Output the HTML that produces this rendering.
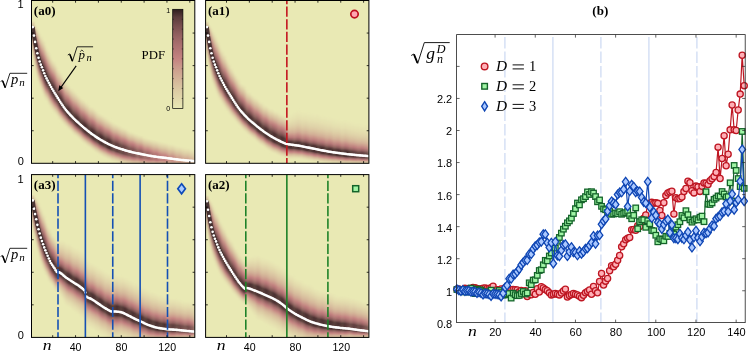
<!DOCTYPE html>
<html><head><meta charset="utf-8"><title>figure</title>
<style>html,body{margin:0;padding:0;background:#fff;overflow:hidden}svg{display:block}text{fill:#000}</style></head>
<body>
<svg width="748" height="351" viewBox="0 0 748 351">
<rect width="748" height="351" fill="#fff"/>
<defs>
<clipPath id="ca0"><rect x="31.5" y="0.5" width="163.3" height="162.8"/></clipPath>
<linearGradient id="u0_19" x1="0" y1="0" x2="0" y2="1"><stop offset="0" stop-color="#e9e9b4"/><stop offset="0.07" stop-color="#e6e2b1"/><stop offset="0.14" stop-color="#e2d8ab"/><stop offset="0.21" stop-color="#ddcca5"/><stop offset="0.28" stop-color="#d8bf9e"/><stop offset="0.35" stop-color="#d2af96"/><stop offset="0.42" stop-color="#cc9d8d"/><stop offset="0.48" stop-color="#c58883"/><stop offset="0.55" stop-color="#b77878"/><stop offset="0.62" stop-color="#a46b6b"/><stop offset="0.69" stop-color="#8d5d5d"/><stop offset="0.76" stop-color="#724a4a"/><stop offset="0.83" stop-color="#4c3131"/><stop offset="1" stop-color="#4c3131"/></linearGradient>
<linearGradient id="d0_19" x1="0" y1="0" x2="0" y2="1"><stop offset="0" stop-color="#4c3131"/><stop offset="0.26" stop-color="#4c3131"/><stop offset="0.32" stop-color="#784e4e"/><stop offset="0.38" stop-color="#966262"/><stop offset="0.45" stop-color="#ae7272"/><stop offset="0.51" stop-color="#c27f7f"/><stop offset="0.57" stop-color="#ca978a"/><stop offset="0.63" stop-color="#d1ab94"/><stop offset="0.69" stop-color="#d7bc9c"/><stop offset="0.75" stop-color="#dccaa3"/><stop offset="0.81" stop-color="#e1d5aa"/><stop offset="0.88" stop-color="#e4deaf"/><stop offset="0.94" stop-color="#e7e5b2"/><stop offset="1" stop-color="#e9e9b4"/></linearGradient>
<linearGradient id="u0_18" x1="0" y1="0" x2="0" y2="1"><stop offset="0" stop-color="#e9e9b4"/><stop offset="0.07" stop-color="#e6e2b1"/><stop offset="0.14" stop-color="#e2d9ac"/><stop offset="0.21" stop-color="#decea6"/><stop offset="0.28" stop-color="#d9c19f"/><stop offset="0.35" stop-color="#d3b398"/><stop offset="0.42" stop-color="#cda28f"/><stop offset="0.48" stop-color="#c78f86"/><stop offset="0.55" stop-color="#bd7c7c"/><stop offset="0.62" stop-color="#ac7070"/><stop offset="0.69" stop-color="#976363"/><stop offset="0.76" stop-color="#7f5353"/><stop offset="0.83" stop-color="#613f3f"/><stop offset="1" stop-color="#613f3f"/></linearGradient>
<linearGradient id="d0_18" x1="0" y1="0" x2="0" y2="1"><stop offset="0" stop-color="#613f3f"/><stop offset="0.26" stop-color="#613f3f"/><stop offset="0.32" stop-color="#845757"/><stop offset="0.38" stop-color="#9f6868"/><stop offset="0.45" stop-color="#b57676"/><stop offset="0.51" stop-color="#c58682"/><stop offset="0.57" stop-color="#cc9d8d"/><stop offset="0.63" stop-color="#d2af96"/><stop offset="0.69" stop-color="#d8bf9e"/><stop offset="0.75" stop-color="#ddcba4"/><stop offset="0.81" stop-color="#e1d6aa"/><stop offset="0.88" stop-color="#e5dfaf"/><stop offset="0.94" stop-color="#e7e5b2"/><stop offset="1" stop-color="#e9e9b4"/></linearGradient>
<linearGradient id="u0_17" x1="0" y1="0" x2="0" y2="1"><stop offset="0" stop-color="#e9e9b4"/><stop offset="0.07" stop-color="#e6e3b1"/><stop offset="0.14" stop-color="#e3daac"/><stop offset="0.21" stop-color="#ded0a7"/><stop offset="0.28" stop-color="#dac4a0"/><stop offset="0.35" stop-color="#d5b699"/><stop offset="0.42" stop-color="#cfa792"/><stop offset="0.48" stop-color="#c99589"/><stop offset="0.55" stop-color="#c38080"/><stop offset="0.62" stop-color="#b37575"/><stop offset="0.69" stop-color="#a16969"/><stop offset="0.76" stop-color="#8c5c5c"/><stop offset="0.83" stop-color="#724b4b"/><stop offset="1" stop-color="#724b4b"/></linearGradient>
<linearGradient id="d0_17" x1="0" y1="0" x2="0" y2="1"><stop offset="0" stop-color="#724b4b"/><stop offset="0.26" stop-color="#724b4b"/><stop offset="0.32" stop-color="#905e5e"/><stop offset="0.38" stop-color="#a86e6e"/><stop offset="0.45" stop-color="#bb7b7b"/><stop offset="0.51" stop-color="#c78e86"/><stop offset="0.57" stop-color="#cda28f"/><stop offset="0.63" stop-color="#d3b398"/><stop offset="0.69" stop-color="#d9c19f"/><stop offset="0.75" stop-color="#ddcda5"/><stop offset="0.81" stop-color="#e1d7ab"/><stop offset="0.88" stop-color="#e5dfaf"/><stop offset="0.94" stop-color="#e7e6b3"/><stop offset="1" stop-color="#e9e9b4"/></linearGradient>
<linearGradient id="u0_16" x1="0" y1="0" x2="0" y2="1"><stop offset="0" stop-color="#e9e9b4"/><stop offset="0.07" stop-color="#e6e3b1"/><stop offset="0.14" stop-color="#e3dbad"/><stop offset="0.21" stop-color="#dfd1a7"/><stop offset="0.28" stop-color="#dbc6a2"/><stop offset="0.35" stop-color="#d6ba9b"/><stop offset="0.42" stop-color="#d1ab94"/><stop offset="0.48" stop-color="#cb9b8c"/><stop offset="0.55" stop-color="#c58883"/><stop offset="0.62" stop-color="#ba7a7a"/><stop offset="0.69" stop-color="#aa6f6f"/><stop offset="0.76" stop-color="#976363"/><stop offset="0.83" stop-color="#825555"/><stop offset="1" stop-color="#825555"/></linearGradient>
<linearGradient id="d0_16" x1="0" y1="0" x2="0" y2="1"><stop offset="0" stop-color="#825555"/><stop offset="0.26" stop-color="#825555"/><stop offset="0.32" stop-color="#9b6565"/><stop offset="0.38" stop-color="#b07373"/><stop offset="0.45" stop-color="#c27f7f"/><stop offset="0.51" stop-color="#c99489"/><stop offset="0.57" stop-color="#cfa792"/><stop offset="0.63" stop-color="#d5b699"/><stop offset="0.69" stop-color="#dac4a0"/><stop offset="0.75" stop-color="#decfa6"/><stop offset="0.81" stop-color="#e2d8ab"/><stop offset="0.88" stop-color="#e5e0af"/><stop offset="0.94" stop-color="#e7e6b3"/><stop offset="1" stop-color="#e9e9b4"/></linearGradient>
<linearGradient id="u0_15" x1="0" y1="0" x2="0" y2="1"><stop offset="0" stop-color="#e9e9b4"/><stop offset="0.07" stop-color="#e6e3b1"/><stop offset="0.14" stop-color="#e3dcad"/><stop offset="0.21" stop-color="#e0d3a8"/><stop offset="0.28" stop-color="#dbc8a3"/><stop offset="0.35" stop-color="#d7bd9d"/><stop offset="0.42" stop-color="#d2b096"/><stop offset="0.48" stop-color="#cda18f"/><stop offset="0.55" stop-color="#c89087"/><stop offset="0.62" stop-color="#c17e7e"/><stop offset="0.69" stop-color="#b27575"/><stop offset="0.76" stop-color="#a26a6a"/><stop offset="0.83" stop-color="#8f5e5e"/><stop offset="1" stop-color="#8f5e5e"/></linearGradient>
<linearGradient id="d0_15" x1="0" y1="0" x2="0" y2="1"><stop offset="0" stop-color="#8f5e5e"/><stop offset="0.26" stop-color="#8f5e5e"/><stop offset="0.32" stop-color="#a56c6c"/><stop offset="0.38" stop-color="#b87878"/><stop offset="0.45" stop-color="#c58783"/><stop offset="0.51" stop-color="#cb9b8c"/><stop offset="0.57" stop-color="#d1ac94"/><stop offset="0.63" stop-color="#d6ba9b"/><stop offset="0.69" stop-color="#dbc6a2"/><stop offset="0.75" stop-color="#dfd1a7"/><stop offset="0.81" stop-color="#e2d9ac"/><stop offset="0.88" stop-color="#e5e1b0"/><stop offset="0.94" stop-color="#e8e6b3"/><stop offset="1" stop-color="#e9e9b4"/></linearGradient>
<linearGradient id="u0_14" x1="0" y1="0" x2="0" y2="1"><stop offset="0" stop-color="#e9e9b4"/><stop offset="0.07" stop-color="#e7e4b2"/><stop offset="0.14" stop-color="#e4ddae"/><stop offset="0.21" stop-color="#e0d4a9"/><stop offset="0.28" stop-color="#dccba4"/><stop offset="0.35" stop-color="#d8c09e"/><stop offset="0.42" stop-color="#d4b498"/><stop offset="0.48" stop-color="#cfa792"/><stop offset="0.55" stop-color="#ca988a"/><stop offset="0.62" stop-color="#c58783"/><stop offset="0.69" stop-color="#ba7a7a"/><stop offset="0.76" stop-color="#ac7070"/><stop offset="0.83" stop-color="#9b6666"/><stop offset="1" stop-color="#9b6666"/></linearGradient>
<linearGradient id="d0_14" x1="0" y1="0" x2="0" y2="1"><stop offset="0" stop-color="#9b6666"/><stop offset="0.26" stop-color="#9b6666"/><stop offset="0.32" stop-color="#af7272"/><stop offset="0.38" stop-color="#bf7d7d"/><stop offset="0.45" stop-color="#c79087"/><stop offset="0.51" stop-color="#cda18f"/><stop offset="0.57" stop-color="#d3b196"/><stop offset="0.63" stop-color="#d7be9d"/><stop offset="0.69" stop-color="#dcc9a3"/><stop offset="0.75" stop-color="#dfd2a8"/><stop offset="0.81" stop-color="#e3daac"/><stop offset="0.88" stop-color="#e6e1b0"/><stop offset="0.94" stop-color="#e8e6b3"/><stop offset="1" stop-color="#e9e9b4"/></linearGradient>
<linearGradient id="u0_13" x1="0" y1="0" x2="0" y2="1"><stop offset="0" stop-color="#e9e9b4"/><stop offset="0.07" stop-color="#e7e4b2"/><stop offset="0.14" stop-color="#e4deae"/><stop offset="0.21" stop-color="#e1d6aa"/><stop offset="0.28" stop-color="#ddcda5"/><stop offset="0.35" stop-color="#d9c3a0"/><stop offset="0.42" stop-color="#d5b89a"/><stop offset="0.48" stop-color="#d1ac94"/><stop offset="0.55" stop-color="#cc9f8e"/><stop offset="0.62" stop-color="#c89087"/><stop offset="0.69" stop-color="#c27f7f"/><stop offset="0.76" stop-color="#b57777"/><stop offset="0.83" stop-color="#a76d6d"/><stop offset="1" stop-color="#a76d6d"/></linearGradient>
<linearGradient id="d0_13" x1="0" y1="0" x2="0" y2="1"><stop offset="0" stop-color="#a76d6d"/><stop offset="0.26" stop-color="#a76d6d"/><stop offset="0.32" stop-color="#b87878"/><stop offset="0.38" stop-color="#c48582"/><stop offset="0.45" stop-color="#ca988a"/><stop offset="0.51" stop-color="#cfa892"/><stop offset="0.57" stop-color="#d4b599"/><stop offset="0.63" stop-color="#d9c19f"/><stop offset="0.69" stop-color="#ddcba4"/><stop offset="0.75" stop-color="#e0d4a9"/><stop offset="0.81" stop-color="#e3dcad"/><stop offset="0.88" stop-color="#e6e2b0"/><stop offset="0.94" stop-color="#e8e6b3"/><stop offset="1" stop-color="#e9e9b4"/></linearGradient>
<linearGradient id="u0_12" x1="0" y1="0" x2="0" y2="1"><stop offset="0" stop-color="#e9e9b4"/><stop offset="0.07" stop-color="#e7e4b2"/><stop offset="0.14" stop-color="#e4deaf"/><stop offset="0.21" stop-color="#e1d7ab"/><stop offset="0.28" stop-color="#decfa6"/><stop offset="0.35" stop-color="#dbc6a2"/><stop offset="0.42" stop-color="#d7bd9d"/><stop offset="0.48" stop-color="#d3b297"/><stop offset="0.55" stop-color="#cfa691"/><stop offset="0.62" stop-color="#ca998b"/><stop offset="0.69" stop-color="#c68a84"/><stop offset="0.76" stop-color="#be7c7c"/><stop offset="0.83" stop-color="#b27474"/><stop offset="1" stop-color="#b27474"/></linearGradient>
<linearGradient id="d0_12" x1="0" y1="0" x2="0" y2="1"><stop offset="0" stop-color="#b27474"/><stop offset="0.26" stop-color="#b27474"/><stop offset="0.32" stop-color="#c07e7e"/><stop offset="0.38" stop-color="#c78f86"/><stop offset="0.45" stop-color="#cd9f8e"/><stop offset="0.51" stop-color="#d1ad95"/><stop offset="0.57" stop-color="#d6ba9b"/><stop offset="0.63" stop-color="#dac4a1"/><stop offset="0.69" stop-color="#decea6"/><stop offset="0.75" stop-color="#e1d6aa"/><stop offset="0.81" stop-color="#e4ddae"/><stop offset="0.88" stop-color="#e6e2b1"/><stop offset="0.94" stop-color="#e8e6b3"/><stop offset="1" stop-color="#e9e9b4"/></linearGradient>
<linearGradient id="u0_11" x1="0" y1="0" x2="0" y2="1"><stop offset="0" stop-color="#e9e9b4"/><stop offset="0.07" stop-color="#e7e5b2"/><stop offset="0.14" stop-color="#e5dfaf"/><stop offset="0.21" stop-color="#e2d9ac"/><stop offset="0.28" stop-color="#dfd2a8"/><stop offset="0.35" stop-color="#dcc9a3"/><stop offset="0.42" stop-color="#d8c19f"/><stop offset="0.48" stop-color="#d5b79a"/><stop offset="0.55" stop-color="#d1ac94"/><stop offset="0.62" stop-color="#cda18f"/><stop offset="0.69" stop-color="#c99489"/><stop offset="0.76" stop-color="#c48582"/><stop offset="0.83" stop-color="#bc7b7b"/><stop offset="1" stop-color="#bc7b7b"/></linearGradient>
<linearGradient id="d0_11" x1="0" y1="0" x2="0" y2="1"><stop offset="0" stop-color="#bc7b7b"/><stop offset="0.26" stop-color="#bc7b7b"/><stop offset="0.32" stop-color="#c58883"/><stop offset="0.38" stop-color="#ca998b"/><stop offset="0.45" stop-color="#cfa792"/><stop offset="0.51" stop-color="#d3b398"/><stop offset="0.57" stop-color="#d7be9d"/><stop offset="0.63" stop-color="#dbc8a2"/><stop offset="0.69" stop-color="#dfd0a7"/><stop offset="0.75" stop-color="#e1d7ab"/><stop offset="0.81" stop-color="#e4deae"/><stop offset="0.88" stop-color="#e6e3b1"/><stop offset="0.94" stop-color="#e8e7b3"/><stop offset="1" stop-color="#e9e9b4"/></linearGradient>
<linearGradient id="u0_10" x1="0" y1="0" x2="0" y2="1"><stop offset="0" stop-color="#e9e9b4"/><stop offset="0.07" stop-color="#e7e5b2"/><stop offset="0.14" stop-color="#e5e0b0"/><stop offset="0.21" stop-color="#e3daac"/><stop offset="0.28" stop-color="#e0d4a9"/><stop offset="0.35" stop-color="#ddcda5"/><stop offset="0.42" stop-color="#dac5a1"/><stop offset="0.48" stop-color="#d7bc9c"/><stop offset="0.55" stop-color="#d3b398"/><stop offset="0.62" stop-color="#d0a993"/><stop offset="0.69" stop-color="#cc9d8d"/><stop offset="0.76" stop-color="#c89187"/><stop offset="0.83" stop-color="#c48381"/><stop offset="1" stop-color="#c48381"/></linearGradient>
<linearGradient id="d0_10" x1="0" y1="0" x2="0" y2="1"><stop offset="0" stop-color="#c48381"/><stop offset="0.26" stop-color="#c48381"/><stop offset="0.32" stop-color="#c99488"/><stop offset="0.38" stop-color="#cda28f"/><stop offset="0.45" stop-color="#d2ae95"/><stop offset="0.51" stop-color="#d5b99b"/><stop offset="0.57" stop-color="#d9c2a0"/><stop offset="0.63" stop-color="#dccba4"/><stop offset="0.69" stop-color="#dfd2a8"/><stop offset="0.75" stop-color="#e2d9ac"/><stop offset="0.81" stop-color="#e4dfaf"/><stop offset="0.88" stop-color="#e6e3b1"/><stop offset="0.94" stop-color="#e8e7b3"/><stop offset="1" stop-color="#e9e9b4"/></linearGradient>
<linearGradient id="u0_9" x1="0" y1="0" x2="0" y2="1"><stop offset="0" stop-color="#e9e9b4"/><stop offset="0.07" stop-color="#e7e6b3"/><stop offset="0.14" stop-color="#e6e1b0"/><stop offset="0.21" stop-color="#e3dcad"/><stop offset="0.28" stop-color="#e1d6aa"/><stop offset="0.35" stop-color="#ded0a7"/><stop offset="0.42" stop-color="#dcc9a3"/><stop offset="0.48" stop-color="#d9c19f"/><stop offset="0.55" stop-color="#d6b99b"/><stop offset="0.62" stop-color="#d2b096"/><stop offset="0.69" stop-color="#cfa792"/><stop offset="0.76" stop-color="#cc9c8c"/><stop offset="0.83" stop-color="#c89187"/><stop offset="1" stop-color="#c89187"/></linearGradient>
<linearGradient id="d0_9" x1="0" y1="0" x2="0" y2="1"><stop offset="0" stop-color="#c89187"/><stop offset="0.26" stop-color="#c89187"/><stop offset="0.32" stop-color="#cc9e8d"/><stop offset="0.38" stop-color="#d0aa93"/><stop offset="0.45" stop-color="#d4b599"/><stop offset="0.51" stop-color="#d7be9d"/><stop offset="0.57" stop-color="#dbc6a2"/><stop offset="0.63" stop-color="#decea6"/><stop offset="0.69" stop-color="#e0d5a9"/><stop offset="0.75" stop-color="#e3dbad"/><stop offset="0.81" stop-color="#e5e0af"/><stop offset="0.88" stop-color="#e7e4b2"/><stop offset="0.94" stop-color="#e8e7b3"/><stop offset="1" stop-color="#e9e9b4"/></linearGradient>
<linearGradient id="u0_8" x1="0" y1="0" x2="0" y2="1"><stop offset="0" stop-color="#e9e9b4"/><stop offset="0.07" stop-color="#e8e6b3"/><stop offset="0.14" stop-color="#e6e2b1"/><stop offset="0.21" stop-color="#e4ddae"/><stop offset="0.28" stop-color="#e2d8ab"/><stop offset="0.35" stop-color="#dfd2a8"/><stop offset="0.42" stop-color="#ddcca5"/><stop offset="0.48" stop-color="#dac6a1"/><stop offset="0.55" stop-color="#d8bf9e"/><stop offset="0.62" stop-color="#d5b79a"/><stop offset="0.69" stop-color="#d2af96"/><stop offset="0.76" stop-color="#cfa691"/><stop offset="0.83" stop-color="#cc9d8d"/><stop offset="1" stop-color="#cc9d8d"/></linearGradient>
<linearGradient id="d0_8" x1="0" y1="0" x2="0" y2="1"><stop offset="0" stop-color="#cc9d8d"/><stop offset="0.26" stop-color="#cc9d8d"/><stop offset="0.32" stop-color="#d0a892"/><stop offset="0.38" stop-color="#d3b297"/><stop offset="0.45" stop-color="#d6bb9c"/><stop offset="0.51" stop-color="#d9c3a0"/><stop offset="0.57" stop-color="#dccba4"/><stop offset="0.63" stop-color="#dfd1a7"/><stop offset="0.69" stop-color="#e1d7ab"/><stop offset="0.75" stop-color="#e3dcad"/><stop offset="0.81" stop-color="#e5e1b0"/><stop offset="0.88" stop-color="#e7e4b2"/><stop offset="0.94" stop-color="#e8e7b3"/><stop offset="1" stop-color="#e9e9b4"/></linearGradient>
<linearGradient id="u0_7" x1="0" y1="0" x2="0" y2="1"><stop offset="0" stop-color="#e9e9b4"/><stop offset="0.07" stop-color="#e8e6b3"/><stop offset="0.14" stop-color="#e6e3b1"/><stop offset="0.21" stop-color="#e5dfaf"/><stop offset="0.28" stop-color="#e3daac"/><stop offset="0.35" stop-color="#e1d5aa"/><stop offset="0.42" stop-color="#dfd0a7"/><stop offset="0.48" stop-color="#dccba4"/><stop offset="0.55" stop-color="#dac5a1"/><stop offset="0.62" stop-color="#d8be9d"/><stop offset="0.69" stop-color="#d5b79a"/><stop offset="0.76" stop-color="#d2b096"/><stop offset="0.83" stop-color="#d0a892"/><stop offset="1" stop-color="#d0a892"/></linearGradient>
<linearGradient id="d0_7" x1="0" y1="0" x2="0" y2="1"><stop offset="0" stop-color="#d0a892"/><stop offset="0.26" stop-color="#d0a892"/><stop offset="0.32" stop-color="#d3b197"/><stop offset="0.38" stop-color="#d6ba9b"/><stop offset="0.45" stop-color="#d9c19f"/><stop offset="0.51" stop-color="#dbc8a3"/><stop offset="0.57" stop-color="#decfa6"/><stop offset="0.63" stop-color="#e0d4a9"/><stop offset="0.69" stop-color="#e2d9ac"/><stop offset="0.75" stop-color="#e4deae"/><stop offset="0.81" stop-color="#e6e2b0"/><stop offset="0.88" stop-color="#e7e5b2"/><stop offset="0.94" stop-color="#e8e7b4"/><stop offset="1" stop-color="#e9e9b4"/></linearGradient>
<linearGradient id="u0_6" x1="0" y1="0" x2="0" y2="1"><stop offset="0" stop-color="#e9e9b4"/><stop offset="0.07" stop-color="#e8e7b3"/><stop offset="0.14" stop-color="#e7e4b1"/><stop offset="0.21" stop-color="#e5e0b0"/><stop offset="0.28" stop-color="#e4dcae"/><stop offset="0.35" stop-color="#e2d8ab"/><stop offset="0.42" stop-color="#e0d4a9"/><stop offset="0.48" stop-color="#decfa6"/><stop offset="0.55" stop-color="#dccaa4"/><stop offset="0.62" stop-color="#dac5a1"/><stop offset="0.69" stop-color="#d8bf9e"/><stop offset="0.76" stop-color="#d6b99b"/><stop offset="0.83" stop-color="#d3b398"/><stop offset="1" stop-color="#d3b398"/></linearGradient>
<linearGradient id="d0_6" x1="0" y1="0" x2="0" y2="1"><stop offset="0" stop-color="#d3b398"/><stop offset="0.26" stop-color="#d3b398"/><stop offset="0.32" stop-color="#d6ba9c"/><stop offset="0.38" stop-color="#d9c19f"/><stop offset="0.45" stop-color="#dbc7a2"/><stop offset="0.51" stop-color="#ddcda5"/><stop offset="0.57" stop-color="#e0d3a8"/><stop offset="0.63" stop-color="#e1d7ab"/><stop offset="0.69" stop-color="#e3dcad"/><stop offset="0.75" stop-color="#e5dfaf"/><stop offset="0.81" stop-color="#e6e3b1"/><stop offset="0.88" stop-color="#e7e6b3"/><stop offset="0.94" stop-color="#e8e8b4"/><stop offset="1" stop-color="#e9e9b4"/></linearGradient>
<filter id="hba0" filterUnits="userSpaceOnUse" x="25.5" y="-5.5" width="175.3" height="174.8"><feGaussianBlur stdDeviation="1.2 0.5"/></filter>
<filter id="sba0" filterUnits="userSpaceOnUse" x="25.5" y="-5.5" width="60" height="110"><feGaussianBlur stdDeviation="0.7"/></filter>
<clipPath id="ca1"><rect x="205.6" y="0.5" width="163.3" height="162.8"/></clipPath>
<linearGradient id="u2_19" x1="0" y1="0" x2="0" y2="1"><stop offset="0" stop-color="#e9e9b4"/><stop offset="0.08" stop-color="#e8e6b3"/><stop offset="0.15" stop-color="#e6e3b1"/><stop offset="0.23" stop-color="#e5dfaf"/><stop offset="0.3" stop-color="#e2d9ac"/><stop offset="0.38" stop-color="#dfd2a8"/><stop offset="0.45" stop-color="#dcc9a3"/><stop offset="0.53" stop-color="#d7bc9c"/><stop offset="0.61" stop-color="#d1ab94"/><stop offset="0.68" stop-color="#c99388"/><stop offset="0.76" stop-color="#b77878"/><stop offset="0.83" stop-color="#925f5f"/><stop offset="0.91" stop-color="#4c3131"/><stop offset="1" stop-color="#4c3131"/></linearGradient>
<linearGradient id="d2_19" x1="0" y1="0" x2="0" y2="1"><stop offset="0" stop-color="#4c3131"/><stop offset="0.24" stop-color="#4c3131"/><stop offset="0.3" stop-color="#784e4e"/><stop offset="0.37" stop-color="#966262"/><stop offset="0.43" stop-color="#ae7272"/><stop offset="0.49" stop-color="#c27f7f"/><stop offset="0.56" stop-color="#ca978a"/><stop offset="0.62" stop-color="#d1ab94"/><stop offset="0.68" stop-color="#d7bc9c"/><stop offset="0.75" stop-color="#dccaa3"/><stop offset="0.81" stop-color="#e1d5aa"/><stop offset="0.87" stop-color="#e4deaf"/><stop offset="0.94" stop-color="#e7e5b2"/><stop offset="1" stop-color="#e9e9b4"/></linearGradient>
<linearGradient id="u2_18" x1="0" y1="0" x2="0" y2="1"><stop offset="0" stop-color="#e9e9b4"/><stop offset="0.08" stop-color="#e8e6b3"/><stop offset="0.15" stop-color="#e6e3b1"/><stop offset="0.23" stop-color="#e5dfaf"/><stop offset="0.3" stop-color="#e3daac"/><stop offset="0.38" stop-color="#e0d3a9"/><stop offset="0.45" stop-color="#dccba4"/><stop offset="0.53" stop-color="#d8bf9e"/><stop offset="0.61" stop-color="#d2af96"/><stop offset="0.68" stop-color="#ca998b"/><stop offset="0.76" stop-color="#bd7c7c"/><stop offset="0.83" stop-color="#9b6666"/><stop offset="0.91" stop-color="#613f3f"/><stop offset="1" stop-color="#613f3f"/></linearGradient>
<linearGradient id="d2_18" x1="0" y1="0" x2="0" y2="1"><stop offset="0" stop-color="#613f3f"/><stop offset="0.24" stop-color="#613f3f"/><stop offset="0.3" stop-color="#845757"/><stop offset="0.37" stop-color="#9f6868"/><stop offset="0.43" stop-color="#b57676"/><stop offset="0.49" stop-color="#c58682"/><stop offset="0.56" stop-color="#cc9d8d"/><stop offset="0.62" stop-color="#d2af96"/><stop offset="0.68" stop-color="#d8bf9e"/><stop offset="0.75" stop-color="#ddcba4"/><stop offset="0.81" stop-color="#e1d6aa"/><stop offset="0.87" stop-color="#e5dfaf"/><stop offset="0.94" stop-color="#e7e5b2"/><stop offset="1" stop-color="#e9e9b4"/></linearGradient>
<filter id="hba1" filterUnits="userSpaceOnUse" x="199.6" y="-5.5" width="175.3" height="174.8"><feGaussianBlur stdDeviation="1.2 0.5"/></filter>
<filter id="sba1" filterUnits="userSpaceOnUse" x="199.6" y="-5.5" width="60" height="110"><feGaussianBlur stdDeviation="0.7"/></filter>
<clipPath id="ca3"><rect x="31.5" y="174.6" width="163.3" height="162.8"/></clipPath>
<linearGradient id="u1_19" x1="0" y1="0" x2="0" y2="1"><stop offset="0" stop-color="#e9e9b4"/><stop offset="0.07" stop-color="#e7e4b2"/><stop offset="0.14" stop-color="#e5dfaf"/><stop offset="0.21" stop-color="#e2d8ab"/><stop offset="0.28" stop-color="#dfd0a7"/><stop offset="0.35" stop-color="#dbc6a2"/><stop offset="0.43" stop-color="#d6ba9b"/><stop offset="0.5" stop-color="#d0ab94"/><stop offset="0.57" stop-color="#ca978a"/><stop offset="0.64" stop-color="#c07e7e"/><stop offset="0.71" stop-color="#a86e6e"/><stop offset="0.78" stop-color="#855757"/><stop offset="0.85" stop-color="#4c3131"/><stop offset="1" stop-color="#4c3131"/></linearGradient>
<linearGradient id="d1_19" x1="0" y1="0" x2="0" y2="1"><stop offset="0" stop-color="#4c3131"/><stop offset="0.13" stop-color="#4c3131"/><stop offset="0.2" stop-color="#875858"/><stop offset="0.28" stop-color="#a96f6f"/><stop offset="0.35" stop-color="#c27f7f"/><stop offset="0.42" stop-color="#cb998b"/><stop offset="0.49" stop-color="#d1ad95"/><stop offset="0.56" stop-color="#d7bc9c"/><stop offset="0.64" stop-color="#dbc8a2"/><stop offset="0.71" stop-color="#dfd1a7"/><stop offset="0.78" stop-color="#e2d9ac"/><stop offset="0.85" stop-color="#e5dfaf"/><stop offset="0.93" stop-color="#e7e4b2"/><stop offset="1" stop-color="#e9e9b4"/></linearGradient>
<linearGradient id="u1_18" x1="0" y1="0" x2="0" y2="1"><stop offset="0" stop-color="#e9e9b4"/><stop offset="0.07" stop-color="#e7e4b2"/><stop offset="0.14" stop-color="#e5dfaf"/><stop offset="0.21" stop-color="#e2d9ac"/><stop offset="0.28" stop-color="#dfd1a8"/><stop offset="0.35" stop-color="#dbc8a3"/><stop offset="0.43" stop-color="#d7bd9d"/><stop offset="0.5" stop-color="#d2af95"/><stop offset="0.57" stop-color="#cc9c8d"/><stop offset="0.64" stop-color="#c48381"/><stop offset="0.71" stop-color="#af7373"/><stop offset="0.78" stop-color="#905f5f"/><stop offset="0.85" stop-color="#613f3f"/><stop offset="1" stop-color="#613f3f"/></linearGradient>
<linearGradient id="d1_18" x1="0" y1="0" x2="0" y2="1"><stop offset="0" stop-color="#613f3f"/><stop offset="0.13" stop-color="#613f3f"/><stop offset="0.2" stop-color="#925f5f"/><stop offset="0.28" stop-color="#b17474"/><stop offset="0.35" stop-color="#c58682"/><stop offset="0.42" stop-color="#cc9f8e"/><stop offset="0.49" stop-color="#d3b197"/><stop offset="0.56" stop-color="#d8bf9e"/><stop offset="0.64" stop-color="#dccaa3"/><stop offset="0.71" stop-color="#e0d3a8"/><stop offset="0.78" stop-color="#e2daac"/><stop offset="0.85" stop-color="#e5e0af"/><stop offset="0.93" stop-color="#e7e5b2"/><stop offset="1" stop-color="#e9e9b4"/></linearGradient>
<linearGradient id="u1_17" x1="0" y1="0" x2="0" y2="1"><stop offset="0" stop-color="#e9e9b4"/><stop offset="0.07" stop-color="#e7e5b2"/><stop offset="0.14" stop-color="#e5e0af"/><stop offset="0.21" stop-color="#e3daac"/><stop offset="0.28" stop-color="#e0d3a8"/><stop offset="0.35" stop-color="#dccaa4"/><stop offset="0.43" stop-color="#d8c09e"/><stop offset="0.5" stop-color="#d3b297"/><stop offset="0.57" stop-color="#cda18f"/><stop offset="0.64" stop-color="#c68b85"/><stop offset="0.71" stop-color="#b67777"/><stop offset="0.78" stop-color="#9b6565"/><stop offset="0.85" stop-color="#724b4b"/><stop offset="1" stop-color="#724b4b"/></linearGradient>
<linearGradient id="d1_17" x1="0" y1="0" x2="0" y2="1"><stop offset="0" stop-color="#724b4b"/><stop offset="0.13" stop-color="#724b4b"/><stop offset="0.2" stop-color="#9c6666"/><stop offset="0.28" stop-color="#b87878"/><stop offset="0.35" stop-color="#c78d86"/><stop offset="0.42" stop-color="#cea490"/><stop offset="0.49" stop-color="#d4b498"/><stop offset="0.56" stop-color="#d9c19f"/><stop offset="0.64" stop-color="#ddcba4"/><stop offset="0.71" stop-color="#e0d4a9"/><stop offset="0.78" stop-color="#e3dbad"/><stop offset="0.85" stop-color="#e5e0b0"/><stop offset="0.93" stop-color="#e7e5b2"/><stop offset="1" stop-color="#e9e9b4"/></linearGradient>
<linearGradient id="u1_16" x1="0" y1="0" x2="0" y2="1"><stop offset="0" stop-color="#e9e9b4"/><stop offset="0.07" stop-color="#e7e5b2"/><stop offset="0.14" stop-color="#e5e0b0"/><stop offset="0.21" stop-color="#e3dbad"/><stop offset="0.28" stop-color="#e0d4a9"/><stop offset="0.35" stop-color="#ddcca5"/><stop offset="0.43" stop-color="#d9c2a0"/><stop offset="0.5" stop-color="#d4b699"/><stop offset="0.57" stop-color="#cfa691"/><stop offset="0.64" stop-color="#c89288"/><stop offset="0.71" stop-color="#bd7c7c"/><stop offset="0.78" stop-color="#a46b6b"/><stop offset="0.85" stop-color="#825555"/><stop offset="1" stop-color="#825555"/></linearGradient>
<linearGradient id="d1_16" x1="0" y1="0" x2="0" y2="1"><stop offset="0" stop-color="#825555"/><stop offset="0.13" stop-color="#825555"/><stop offset="0.2" stop-color="#a56c6c"/><stop offset="0.28" stop-color="#be7c7c"/><stop offset="0.35" stop-color="#c99489"/><stop offset="0.42" stop-color="#d0a892"/><stop offset="0.49" stop-color="#d5b89a"/><stop offset="0.56" stop-color="#dac4a0"/><stop offset="0.64" stop-color="#ddcda5"/><stop offset="0.71" stop-color="#e1d5aa"/><stop offset="0.78" stop-color="#e3dcad"/><stop offset="0.85" stop-color="#e5e1b0"/><stop offset="0.93" stop-color="#e7e5b2"/><stop offset="1" stop-color="#e9e9b4"/></linearGradient>
<filter id="hba3" filterUnits="userSpaceOnUse" x="25.5" y="168.6" width="175.3" height="174.8"><feGaussianBlur stdDeviation="1.2 0.5"/></filter>
<filter id="sba3" filterUnits="userSpaceOnUse" x="25.5" y="168.6" width="60" height="110"><feGaussianBlur stdDeviation="0.7"/></filter>
<clipPath id="ca2"><rect x="205.6" y="174.6" width="163.3" height="162.8"/></clipPath>
<filter id="hba2" filterUnits="userSpaceOnUse" x="199.6" y="168.6" width="175.3" height="174.8"><feGaussianBlur stdDeviation="1.2 0.5"/></filter>
<filter id="sba2" filterUnits="userSpaceOnUse" x="199.6" y="168.6" width="60" height="110"><feGaussianBlur stdDeviation="0.7"/></filter>
<linearGradient id="cb" x1="0" y1="0" x2="0" y2="1"><stop offset="0" stop-color="#2d1d1d"/><stop offset="0.08" stop-color="#5a3b3b"/><stop offset="0.17" stop-color="#784e4e"/><stop offset="0.25" stop-color="#8f5e5e"/><stop offset="0.33" stop-color="#a36b6b"/><stop offset="0.42" stop-color="#b57777"/><stop offset="0.5" stop-color="#c48381"/><stop offset="0.58" stop-color="#ca998b"/><stop offset="0.67" stop-color="#d1ac94"/><stop offset="0.75" stop-color="#d7bd9d"/><stop offset="0.83" stop-color="#ddcda5"/><stop offset="0.92" stop-color="#e3dbad"/><stop offset="1" stop-color="#e9e9b4"/></linearGradient>
<clipPath id="cb_"><rect x="452.6" y="30.6" width="296.6" height="296"/></clipPath>
<filter id="tf" filterUnits="userSpaceOnUse" x="0" y="0" width="748" height="351"><feOffset dx="0" dy="0"/></filter>
</defs>
<rect x="31.5" y="0.5" width="163.3" height="162.8" fill="#e9e9b4"/>
<g clip-path="url(#ca0)">
<g filter="url(#hba0)">
<g fill="url(#u0_19)"><rect x="32.23" y="20.9" width="1.49" height="6.4"/><rect x="33.37" y="23.59" width="1.49" height="12.21"/><rect x="34.51" y="24.17" width="1.49" height="17.92"/><rect x="35.66" y="26.2" width="1.49" height="22.2"/><rect x="36.8" y="27.7" width="1.49" height="25.71"/><rect x="37.94" y="30.12" width="1.49" height="27.85"/><rect x="39.09" y="32.17" width="1.49" height="29.49"/><rect x="40.23" y="34.78" width="1.49" height="30.05"/><rect x="41.37" y="35.98" width="1.49" height="31.54"/><rect x="42.52" y="38.17" width="1.49" height="32.38"/><rect x="43.66" y="40.36" width="1.49" height="33.15"/><rect x="44.8" y="44.45" width="1.49" height="31.75"/><rect x="45.94" y="46.72" width="1.49" height="31.87"/><rect x="47.09" y="49.26" width="1.49" height="31.54"/><rect x="48.23" y="50.61" width="1.49" height="32.36"/><rect x="49.37" y="53.95" width="1.49" height="31.13"/><rect x="50.52" y="56.67" width="1.49" height="30.47"/><rect x="51.66" y="59.02" width="1.49" height="30.11"/><rect x="52.8" y="60.51" width="1.49" height="30.55"/><rect x="53.95" y="60.62" width="1.49" height="32.3"/><rect x="55.09" y="63.21" width="1.49" height="31.52"/><rect x="56.23" y="65.38" width="1.49" height="31.15"/><rect x="57.37" y="68.79" width="1.49" height="29.56"/><rect x="58.52" y="69.56" width="1.49" height="30.63"/><rect x="59.66" y="71.64" width="1.49" height="30.36"/><rect x="60.8" y="72.62" width="1.49" height="31.14"/><rect x="61.95" y="75.62" width="1.49" height="29.86"/><rect x="63.09" y="77.64" width="1.49" height="29.52"/><rect x="64.23" y="80.2" width="1.49" height="28.56"/><rect x="65.38" y="81.09" width="1.49" height="29.15"/><rect x="66.52" y="82.7" width="1.49" height="28.89"/><rect x="67.66" y="83.92" width="1.49" height="28.94"/><rect x="68.8" y="85.42" width="1.49" height="28.68"/><rect x="69.95" y="87.21" width="1.49" height="28.12"/><rect x="71.09" y="88.04" width="1.49" height="28.53"/><rect x="72.23" y="88.33" width="1.49" height="29.45"/><rect x="73.38" y="90.39" width="1.49" height="28.56"/><rect x="74.52" y="90.8" width="1.49" height="29.25"/><rect x="75.66" y="92.61" width="1.49" height="28.49"/><rect x="76.81" y="94.02" width="1.49" height="28.09"/><rect x="77.95" y="94.62" width="1.49" height="28.5"/><rect x="79.09" y="95.83" width="1.49" height="28.3"/><rect x="80.23" y="97.25" width="1.49" height="27.89"/><rect x="81.38" y="98.39" width="1.49" height="27.77"/><rect x="82.52" y="98.44" width="1.49" height="28.71"/><rect x="83.66" y="100.03" width="1.49" height="28.1"/><rect x="84.81" y="101.37" width="1.49" height="27.73"/><rect x="85.95" y="102.74" width="1.49" height="27.3"/><rect x="87.09" y="102.11" width="1.49" height="28.84"/><rect x="88.24" y="104.5" width="1.49" height="27.35"/><rect x="89.38" y="105.73" width="1.49" height="27"/><rect x="90.52" y="105.98" width="1.49" height="27.61"/><rect x="91.66" y="106.85" width="1.49" height="27.6"/><rect x="92.81" y="107.23" width="1.49" height="28.04"/><rect x="93.95" y="107.94" width="1.49" height="28.13"/><rect x="95.09" y="109.93" width="1.49" height="26.91"/><rect x="96.24" y="110.1" width="1.49" height="27.5"/><rect x="97.38" y="112.18" width="1.49" height="26.14"/><rect x="98.52" y="112.36" width="1.49" height="26.68"/><rect x="99.67" y="113.54" width="1.49" height="26.19"/><rect x="100.81" y="114.22" width="1.49" height="26.2"/><rect x="101.95" y="114.47" width="1.49" height="26.6"/><rect x="103.09" y="115.61" width="1.49" height="26.09"/><rect x="104.24" y="116.08" width="1.49" height="26.25"/><rect x="105.38" y="116.58" width="1.49" height="26.36"/><rect x="106.52" y="118.12" width="1.49" height="25.42"/><rect x="107.67" y="118.79" width="1.49" height="25.34"/><rect x="108.81" y="119.77" width="1.49" height="24.92"/><rect x="109.95" y="119.86" width="1.49" height="25.38"/><rect x="111.1" y="121.53" width="1.49" height="24.22"/></g>
<g fill="url(#u0_18)"><rect x="112.24" y="121.66" width="1.49" height="24.58"/><rect x="113.38" y="122.3" width="1.49" height="24.41"/><rect x="114.52" y="123.35" width="1.49" height="23.8"/><rect x="115.67" y="123.57" width="1.49" height="24"/><rect x="116.81" y="124.25" width="1.49" height="23.73"/><rect x="117.95" y="124.77" width="1.49" height="23.61"/><rect x="119.1" y="125.52" width="1.49" height="23.24"/><rect x="120.24" y="125.58" width="1.49" height="23.57"/><rect x="121.38" y="127.41" width="1.49" height="22.1"/><rect x="122.53" y="126.8" width="1.49" height="23.07"/></g>
<g fill="url(#u0_17)"><rect x="123.67" y="128.37" width="1.49" height="21.86"/><rect x="124.81" y="127.76" width="1.49" height="22.81"/><rect x="125.95" y="128.97" width="1.49" height="21.94"/><rect x="127.1" y="130.06" width="1.49" height="21.17"/><rect x="128.24" y="130.79" width="1.49" height="20.75"/><rect x="129.38" y="131.18" width="1.49" height="20.66"/></g>
<g fill="url(#u0_16)"><rect x="130.53" y="131.36" width="1.49" height="20.76"/><rect x="131.67" y="132.17" width="1.49" height="20.22"/><rect x="132.81" y="131.86" width="1.49" height="20.79"/><rect x="133.96" y="133.23" width="1.49" height="19.67"/><rect x="135.1" y="133.34" width="1.49" height="19.81"/></g>
<g fill="url(#u0_15)"><rect x="136.24" y="133.47" width="1.49" height="19.92"/><rect x="137.38" y="133.98" width="1.49" height="19.65"/><rect x="138.53" y="134.98" width="1.49" height="18.87"/><rect x="139.67" y="134.99" width="1.49" height="19.1"/><rect x="140.81" y="135.23" width="1.49" height="19.1"/><rect x="141.96" y="135.36" width="1.49" height="19.2"/></g>
<g fill="url(#u0_14)"><rect x="143.1" y="136.95" width="1.49" height="17.84"/><rect x="144.24" y="137.33" width="1.49" height="17.7"/><rect x="145.39" y="136.72" width="1.49" height="18.54"/><rect x="146.53" y="138.03" width="1.49" height="17.45"/><rect x="147.67" y="138.31" width="1.49" height="17.39"/></g>
<g fill="url(#u0_13)"><rect x="148.81" y="138.29" width="1.49" height="17.62"/><rect x="149.96" y="138.41" width="1.49" height="17.7"/><rect x="151.1" y="139.01" width="1.49" height="17.3"/><rect x="152.24" y="139.58" width="1.49" height="16.91"/></g>
<g fill="url(#u0_12)"><rect x="153.39" y="139.32" width="1.49" height="17.35"/><rect x="154.53" y="139.67" width="1.49" height="17.16"/><rect x="155.67" y="140.34" width="1.49" height="16.65"/><rect x="156.82" y="140.51" width="1.49" height="16.64"/></g>
<g fill="url(#u0_11)"><rect x="157.96" y="140.68" width="1.49" height="16.61"/><rect x="159.1" y="141.1" width="1.49" height="16.33"/><rect x="160.24" y="141.65" width="1.49" height="15.92"/><rect x="161.39" y="141.38" width="1.49" height="16.32"/></g>
<g fill="url(#u0_10)"><rect x="162.53" y="141.9" width="1.49" height="15.93"/><rect x="163.67" y="142.21" width="1.49" height="15.76"/><rect x="164.82" y="142.15" width="1.49" height="15.95"/><rect x="165.96" y="142.62" width="1.49" height="15.62"/><rect x="167.1" y="142.69" width="1.49" height="15.7"/></g>
<g fill="url(#u0_9)"><rect x="168.25" y="143.49" width="1.49" height="15.04"/><rect x="169.39" y="143.65" width="1.49" height="15.03"/><rect x="170.53" y="143.52" width="1.49" height="15.32"/><rect x="171.67" y="143.96" width="1.49" height="15.02"/><rect x="172.82" y="144.09" width="1.49" height="15.05"/><rect x="173.96" y="144.78" width="1.49" height="14.52"/></g>
<g fill="url(#u0_8)"><rect x="175.1" y="145.07" width="1.49" height="14.37"/><rect x="176.25" y="145.36" width="1.49" height="14.23"/><rect x="177.39" y="145.56" width="1.49" height="14.17"/><rect x="178.53" y="145.98" width="1.49" height="13.9"/><rect x="179.68" y="146.12" width="1.49" height="13.89"/></g>
<g fill="url(#u0_7)"><rect x="180.82" y="146.03" width="1.49" height="14.1"/><rect x="181.96" y="147.09" width="1.49" height="13.16"/><rect x="183.1" y="146.48" width="1.49" height="13.89"/><rect x="184.25" y="147.24" width="1.49" height="13.24"/><rect x="185.39" y="147.48" width="1.49" height="13.11"/><rect x="186.53" y="147.59" width="1.49" height="13.11"/><rect x="187.68" y="147.69" width="1.49" height="13.11"/></g>
<g fill="url(#u0_6)"><rect x="188.82" y="147.89" width="1.49" height="13.01"/><rect x="189.96" y="148.41" width="1.49" height="12.58"/><rect x="191.11" y="149.06" width="1.49" height="12.02"/><rect x="192.25" y="148.86" width="1.49" height="12.32"/><rect x="193.39" y="149.35" width="1.49" height="11.9"/></g>
<g fill="url(#d0_19)"><rect x="32.23" y="27.1" width="1.49" height="29.72"/><rect x="33.37" y="35.6" width="1.49" height="26.21"/><rect x="34.51" y="41.89" width="1.49" height="25"/><rect x="35.66" y="48.2" width="1.49" height="24.12"/><rect x="36.8" y="53.21" width="1.49" height="25.3"/><rect x="37.94" y="57.77" width="1.49" height="24.91"/><rect x="39.09" y="61.46" width="1.49" height="24.87"/><rect x="40.23" y="64.64" width="1.49" height="24.27"/><rect x="41.37" y="67.32" width="1.49" height="25.06"/><rect x="42.52" y="70.35" width="1.49" height="24.24"/><rect x="43.66" y="73.31" width="1.49" height="24.68"/><rect x="44.8" y="76.01" width="1.49" height="25.18"/><rect x="45.94" y="78.39" width="1.49" height="23.11"/><rect x="47.09" y="80.61" width="1.49" height="22.33"/><rect x="48.23" y="82.77" width="1.49" height="22.81"/><rect x="49.37" y="84.88" width="1.49" height="23.08"/><rect x="50.52" y="86.94" width="1.49" height="22.44"/><rect x="51.66" y="88.93" width="1.49" height="21.51"/><rect x="52.8" y="90.86" width="1.49" height="22.03"/><rect x="53.95" y="92.71" width="1.49" height="20.86"/><rect x="55.09" y="94.52" width="1.49" height="20.53"/><rect x="56.23" y="96.33" width="1.49" height="19.9"/><rect x="57.37" y="98.15" width="1.49" height="19.09"/><rect x="58.52" y="99.99" width="1.49" height="20.27"/><rect x="59.66" y="101.81" width="1.49" height="18.8"/><rect x="60.8" y="103.56" width="1.49" height="18.69"/><rect x="61.95" y="105.28" width="1.49" height="18.29"/><rect x="63.09" y="106.96" width="1.49" height="17.69"/><rect x="64.23" y="108.56" width="1.49" height="17.57"/><rect x="65.38" y="110.03" width="1.49" height="17.41"/><rect x="66.52" y="111.39" width="1.49" height="16.26"/><rect x="67.66" y="112.66" width="1.49" height="17.37"/><rect x="68.8" y="113.9" width="1.49" height="16.4"/><rect x="69.95" y="115.13" width="1.49" height="16.25"/><rect x="71.09" y="116.37" width="1.49" height="16.11"/><rect x="72.23" y="117.59" width="1.49" height="16.31"/><rect x="73.38" y="118.75" width="1.49" height="16.77"/><rect x="74.52" y="119.85" width="1.49" height="16.13"/><rect x="75.66" y="120.89" width="1.49" height="16.34"/><rect x="76.81" y="121.91" width="1.49" height="15.43"/><rect x="77.95" y="122.92" width="1.49" height="16.29"/><rect x="79.09" y="123.93" width="1.49" height="15.7"/><rect x="80.23" y="124.94" width="1.49" height="15.81"/><rect x="81.38" y="125.95" width="1.49" height="16.42"/><rect x="82.52" y="126.95" width="1.49" height="16.21"/><rect x="83.66" y="127.93" width="1.49" height="16.22"/><rect x="84.81" y="128.9" width="1.49" height="15.98"/><rect x="85.95" y="129.84" width="1.49" height="15.98"/><rect x="87.09" y="130.75" width="1.49" height="16.28"/><rect x="88.24" y="131.65" width="1.49" height="15.85"/><rect x="89.38" y="132.53" width="1.49" height="16.12"/><rect x="90.52" y="133.4" width="1.49" height="15.54"/><rect x="91.66" y="134.24" width="1.49" height="15.82"/><rect x="92.81" y="135.07" width="1.49" height="16.05"/><rect x="93.95" y="135.87" width="1.49" height="15.85"/><rect x="95.09" y="136.64" width="1.49" height="16.1"/><rect x="96.24" y="137.39" width="1.49" height="16.18"/><rect x="97.38" y="138.13" width="1.49" height="16.06"/><rect x="98.52" y="138.84" width="1.49" height="15.86"/><rect x="99.67" y="139.53" width="1.49" height="16.56"/><rect x="100.81" y="140.21" width="1.49" height="15.73"/><rect x="101.95" y="140.87" width="1.49" height="16.04"/><rect x="103.09" y="141.51" width="1.49" height="16.25"/><rect x="104.24" y="142.13" width="1.49" height="16.12"/><rect x="105.38" y="142.74" width="1.49" height="16.09"/><rect x="106.52" y="143.34" width="1.49" height="15.88"/><rect x="107.67" y="143.93" width="1.49" height="16.07"/><rect x="108.81" y="144.49" width="1.49" height="15.41"/><rect x="109.95" y="145.04" width="1.49" height="15.57"/><rect x="111.1" y="145.56" width="1.49" height="16.12"/></g>
<g fill="url(#d0_18)"><rect x="112.24" y="146.05" width="1.49" height="16.09"/><rect x="113.38" y="146.51" width="1.49" height="15.51"/><rect x="114.52" y="146.95" width="1.49" height="15.64"/><rect x="115.67" y="147.38" width="1.49" height="15.47"/><rect x="116.81" y="147.79" width="1.49" height="15.19"/><rect x="117.95" y="148.18" width="1.49" height="15.04"/><rect x="119.1" y="148.57" width="1.49" height="15.75"/><rect x="120.24" y="148.94" width="1.49" height="16"/><rect x="121.38" y="149.31" width="1.49" height="15.63"/><rect x="122.53" y="149.67" width="1.49" height="15.63"/></g>
<g fill="url(#d0_17)"><rect x="123.67" y="150.03" width="1.49" height="15.39"/><rect x="124.81" y="150.38" width="1.49" height="14.74"/><rect x="125.95" y="150.71" width="1.49" height="15.47"/><rect x="127.1" y="151.03" width="1.49" height="15.24"/><rect x="128.24" y="151.34" width="1.49" height="14.76"/><rect x="129.38" y="151.64" width="1.49" height="14.92"/></g>
<g fill="url(#d0_16)"><rect x="130.53" y="151.92" width="1.49" height="15.01"/><rect x="131.67" y="152.19" width="1.49" height="14.56"/><rect x="132.81" y="152.45" width="1.49" height="14.63"/><rect x="133.96" y="152.7" width="1.49" height="14.52"/><rect x="135.1" y="152.95" width="1.49" height="14.31"/></g>
<g fill="url(#d0_15)"><rect x="136.24" y="153.19" width="1.49" height="14.41"/><rect x="137.38" y="153.42" width="1.49" height="13.42"/><rect x="138.53" y="153.66" width="1.49" height="14"/><rect x="139.67" y="153.89" width="1.49" height="13.98"/><rect x="140.81" y="154.13" width="1.49" height="13.33"/><rect x="141.96" y="154.37" width="1.49" height="13.18"/></g>
<g fill="url(#d0_14)"><rect x="143.1" y="154.6" width="1.49" height="13.81"/><rect x="144.24" y="154.83" width="1.49" height="13.3"/><rect x="145.39" y="155.06" width="1.49" height="13.04"/><rect x="146.53" y="155.28" width="1.49" height="13.16"/><rect x="147.67" y="155.5" width="1.49" height="12.46"/></g>
<g fill="url(#d0_13)"><rect x="148.81" y="155.71" width="1.49" height="12.9"/><rect x="149.96" y="155.91" width="1.49" height="12.8"/><rect x="151.1" y="156.11" width="1.49" height="12.46"/><rect x="152.24" y="156.29" width="1.49" height="12.32"/></g>
<g fill="url(#d0_12)"><rect x="153.39" y="156.47" width="1.49" height="12.23"/><rect x="154.53" y="156.63" width="1.49" height="12.06"/><rect x="155.67" y="156.79" width="1.49" height="12.11"/><rect x="156.82" y="156.94" width="1.49" height="12.14"/></g>
<g fill="url(#d0_11)"><rect x="157.96" y="157.09" width="1.49" height="12.31"/><rect x="159.1" y="157.23" width="1.49" height="11.75"/><rect x="160.24" y="157.36" width="1.49" height="11.71"/><rect x="161.39" y="157.5" width="1.49" height="11.43"/></g>
<g fill="url(#d0_10)"><rect x="162.53" y="157.63" width="1.49" height="11.67"/><rect x="163.67" y="157.77" width="1.49" height="11.28"/><rect x="164.82" y="157.9" width="1.49" height="11.32"/><rect x="165.96" y="158.04" width="1.49" height="11.46"/><rect x="167.1" y="158.18" width="1.49" height="11.02"/></g>
<g fill="url(#d0_9)"><rect x="168.25" y="158.33" width="1.49" height="11.06"/><rect x="169.39" y="158.48" width="1.49" height="10.46"/><rect x="170.53" y="158.63" width="1.49" height="10.74"/><rect x="171.67" y="158.79" width="1.49" height="10.36"/><rect x="172.82" y="158.94" width="1.49" height="10.35"/><rect x="173.96" y="159.09" width="1.49" height="10.06"/></g>
<g fill="url(#d0_8)"><rect x="175.1" y="159.24" width="1.49" height="10.17"/><rect x="176.25" y="159.39" width="1.49" height="10.18"/><rect x="177.39" y="159.54" width="1.49" height="10.15"/><rect x="178.53" y="159.68" width="1.49" height="9.63"/><rect x="179.68" y="159.81" width="1.49" height="9.82"/></g>
<g fill="url(#d0_7)"><rect x="180.82" y="159.94" width="1.49" height="9.72"/><rect x="181.96" y="160.05" width="1.49" height="9.51"/><rect x="183.1" y="160.17" width="1.49" height="9.32"/><rect x="184.25" y="160.28" width="1.49" height="9.23"/><rect x="185.39" y="160.39" width="1.49" height="9.16"/><rect x="186.53" y="160.5" width="1.49" height="9.16"/><rect x="187.68" y="160.6" width="1.49" height="8.66"/></g>
<g fill="url(#d0_6)"><rect x="188.82" y="160.7" width="1.49" height="8.81"/><rect x="189.96" y="160.79" width="1.49" height="8.45"/><rect x="191.11" y="160.88" width="1.49" height="8.54"/><rect x="192.25" y="160.97" width="1.49" height="7.91"/><rect x="193.39" y="161.06" width="1.49" height="8.09"/></g>
</g>
<polyline points="32.8,27.1 33.94,35.6 35.09,41.89 36.23,48.2 37.37,53.21 38.52,57.77 39.66,61.46 40.8,64.64 41.94,67.32 43.09,70.35 44.23,73.31 45.37,76.01 46.52,78.39 47.66,80.61 48.8,82.77" fill="none" stroke="#412b2b" stroke-width="3.9" stroke-opacity="0.9" filter="url(#sba0)"/>
<g fill="#fff"><circle cx="32.8" cy="27.1" r="1.3"/><circle cx="33.94" cy="35.6" r="1.3"/><circle cx="35.09" cy="41.89" r="1.3"/><circle cx="36.23" cy="48.2" r="1.3"/><circle cx="37.37" cy="53.21" r="1.3"/><circle cx="38.52" cy="57.77" r="1.3"/><circle cx="39.66" cy="61.46" r="1.3"/><circle cx="40.8" cy="64.64" r="1.3"/><circle cx="41.94" cy="67.32" r="1.3"/><circle cx="43.09" cy="70.35" r="1.3"/><circle cx="44.23" cy="73.31" r="1.3"/><circle cx="45.37" cy="76.01" r="1.3"/><circle cx="46.52" cy="78.39" r="1.3"/><circle cx="47.66" cy="80.61" r="1.3"/><circle cx="48.8" cy="82.77" r="1.3"/><circle cx="49.94" cy="84.88" r="1.3"/><circle cx="51.09" cy="86.94" r="1.3"/><circle cx="52.23" cy="88.93" r="1.3"/><circle cx="53.37" cy="90.86" r="1.3"/><circle cx="54.52" cy="92.71" r="1.3"/><circle cx="55.66" cy="94.52" r="1.3"/><circle cx="56.8" cy="96.33" r="1.3"/><circle cx="57.95" cy="98.15" r="1.3"/><circle cx="59.09" cy="99.99" r="1.3"/><circle cx="60.23" cy="101.81" r="1.3"/><circle cx="61.38" cy="103.56" r="1.3"/><circle cx="62.52" cy="105.28" r="1.3"/><circle cx="63.66" cy="106.96" r="1.3"/><circle cx="64.8" cy="108.56" r="1.3"/><circle cx="65.95" cy="110.03" r="1.3"/><circle cx="67.09" cy="111.39" r="1.3"/><circle cx="68.23" cy="112.66" r="1.3"/><circle cx="69.38" cy="113.9" r="1.3"/><circle cx="70.52" cy="115.13" r="1.3"/><circle cx="71.66" cy="116.37" r="1.3"/><circle cx="72.81" cy="117.59" r="1.3"/><circle cx="73.95" cy="118.75" r="1.3"/><circle cx="75.09" cy="119.85" r="1.3"/><circle cx="76.23" cy="120.89" r="1.3"/><circle cx="77.38" cy="121.91" r="1.3"/><circle cx="78.52" cy="122.92" r="1.3"/><circle cx="79.66" cy="123.93" r="1.3"/><circle cx="80.81" cy="124.94" r="1.3"/><circle cx="81.95" cy="125.95" r="1.3"/><circle cx="83.09" cy="126.95" r="1.3"/><circle cx="84.23" cy="127.93" r="1.3"/><circle cx="85.38" cy="128.9" r="1.3"/><circle cx="86.52" cy="129.84" r="1.3"/><circle cx="87.66" cy="130.75" r="1.3"/><circle cx="88.81" cy="131.65" r="1.3"/><circle cx="89.95" cy="132.53" r="1.3"/><circle cx="91.09" cy="133.4" r="1.3"/><circle cx="92.24" cy="134.24" r="1.3"/><circle cx="93.38" cy="135.07" r="1.3"/><circle cx="94.52" cy="135.87" r="1.3"/><circle cx="95.66" cy="136.64" r="1.3"/><circle cx="96.81" cy="137.39" r="1.3"/><circle cx="97.95" cy="138.13" r="1.3"/><circle cx="99.09" cy="138.84" r="1.3"/><circle cx="100.24" cy="139.53" r="1.3"/><circle cx="101.38" cy="140.21" r="1.3"/><circle cx="102.52" cy="140.87" r="1.3"/><circle cx="103.67" cy="141.51" r="1.3"/><circle cx="104.81" cy="142.13" r="1.3"/><circle cx="105.95" cy="142.74" r="1.3"/><circle cx="107.09" cy="143.34" r="1.3"/><circle cx="108.24" cy="143.93" r="1.3"/><circle cx="109.38" cy="144.49" r="1.3"/><circle cx="110.52" cy="145.04" r="1.3"/><circle cx="111.67" cy="145.56" r="1.3"/><circle cx="112.81" cy="146.05" r="1.3"/><circle cx="113.95" cy="146.51" r="1.3"/><circle cx="115.1" cy="146.95" r="1.3"/><circle cx="116.24" cy="147.38" r="1.3"/><circle cx="117.38" cy="147.79" r="1.3"/><circle cx="118.52" cy="148.18" r="1.3"/><circle cx="119.67" cy="148.57" r="1.3"/><circle cx="120.81" cy="148.94" r="1.3"/><circle cx="121.95" cy="149.31" r="1.3"/><circle cx="123.1" cy="149.67" r="1.3"/><circle cx="124.24" cy="150.03" r="1.3"/><circle cx="125.38" cy="150.38" r="1.3"/><circle cx="126.53" cy="150.71" r="1.3"/><circle cx="127.67" cy="151.03" r="1.3"/><circle cx="128.81" cy="151.34" r="1.3"/><circle cx="129.95" cy="151.64" r="1.3"/><circle cx="131.1" cy="151.92" r="1.3"/><circle cx="132.24" cy="152.19" r="1.3"/><circle cx="133.38" cy="152.45" r="1.3"/><circle cx="134.53" cy="152.7" r="1.3"/><circle cx="135.67" cy="152.95" r="1.3"/><circle cx="136.81" cy="153.19" r="1.3"/><circle cx="137.96" cy="153.42" r="1.3"/><circle cx="139.1" cy="153.66" r="1.3"/><circle cx="140.24" cy="153.89" r="1.3"/><circle cx="141.38" cy="154.13" r="1.3"/><circle cx="142.53" cy="154.37" r="1.3"/><circle cx="143.67" cy="154.6" r="1.3"/><circle cx="144.81" cy="154.83" r="1.3"/><circle cx="145.96" cy="155.06" r="1.3"/><circle cx="147.1" cy="155.28" r="1.3"/><circle cx="148.24" cy="155.5" r="1.3"/><circle cx="149.39" cy="155.71" r="1.3"/><circle cx="150.53" cy="155.91" r="1.3"/><circle cx="151.67" cy="156.11" r="1.3"/><circle cx="152.81" cy="156.29" r="1.3"/><circle cx="153.96" cy="156.47" r="1.3"/><circle cx="155.1" cy="156.63" r="1.3"/><circle cx="156.24" cy="156.79" r="1.3"/><circle cx="157.39" cy="156.94" r="1.3"/><circle cx="158.53" cy="157.09" r="1.3"/><circle cx="159.67" cy="157.23" r="1.3"/><circle cx="160.82" cy="157.36" r="1.3"/><circle cx="161.96" cy="157.5" r="1.3"/><circle cx="163.1" cy="157.63" r="1.3"/><circle cx="164.25" cy="157.77" r="1.3"/><circle cx="165.39" cy="157.9" r="1.3"/><circle cx="166.53" cy="158.04" r="1.3"/><circle cx="167.67" cy="158.18" r="1.3"/><circle cx="168.82" cy="158.33" r="1.3"/><circle cx="169.96" cy="158.48" r="1.3"/><circle cx="171.1" cy="158.63" r="1.3"/><circle cx="172.25" cy="158.79" r="1.3"/><circle cx="173.39" cy="158.94" r="1.3"/><circle cx="174.53" cy="159.09" r="1.3"/><circle cx="175.68" cy="159.24" r="1.3"/><circle cx="176.82" cy="159.39" r="1.3"/><circle cx="177.96" cy="159.54" r="1.3"/><circle cx="179.1" cy="159.68" r="1.3"/><circle cx="180.25" cy="159.81" r="1.3"/><circle cx="181.39" cy="159.94" r="1.3"/><circle cx="182.53" cy="160.05" r="1.3"/><circle cx="183.68" cy="160.17" r="1.3"/><circle cx="184.82" cy="160.28" r="1.3"/><circle cx="185.96" cy="160.39" r="1.3"/><circle cx="187.11" cy="160.5" r="1.3"/><circle cx="188.25" cy="160.6" r="1.3"/><circle cx="189.39" cy="160.7" r="1.3"/><circle cx="190.53" cy="160.79" r="1.3"/><circle cx="191.68" cy="160.88" r="1.3"/><circle cx="192.82" cy="160.97" r="1.3"/><circle cx="193.96" cy="161.06" r="1.3"/></g>
</g>
<path d="M52.7 163.3v-2.2M52.7 0.5v2.2M75.55 163.3v-2.2M75.55 0.5v2.2M98.4 163.3v-2.2M98.4 0.5v2.2M121.25 163.3v-2.2M121.25 0.5v2.2M144.1 163.3v-2.2M144.1 0.5v2.2M166.95 163.3v-2.2M166.95 0.5v2.2M189.8 163.3v-2.2M189.8 0.5v2.2M31.5 33.06h2.2M194.8 33.06h-2.2M31.5 65.62h2.2M194.8 65.62h-2.2M31.5 98.18h2.2M194.8 98.18h-2.2M31.5 130.74h2.2M194.8 130.74h-2.2" stroke="#000" stroke-width="0.8" fill="none"/>
<rect x="31.5" y="0.5" width="163.3" height="162.8" fill="none" stroke="#000" stroke-width="1"/>
<rect x="205.6" y="0.5" width="163.3" height="162.8" fill="#e9e9b4"/>
<g clip-path="url(#ca1)">
<g filter="url(#hba1)">
<g fill="url(#u0_19)"><rect x="206.33" y="21.01" width="1.49" height="6.29"/><rect x="207.47" y="23.48" width="1.49" height="12.31"/><rect x="208.61" y="24.37" width="1.49" height="17.72"/><rect x="209.76" y="25.99" width="1.49" height="22.42"/><rect x="210.9" y="27.57" width="1.49" height="25.84"/><rect x="212.04" y="30.01" width="1.49" height="27.96"/><rect x="213.19" y="31.39" width="1.49" height="30.27"/><rect x="214.33" y="33.63" width="1.49" height="31.21"/><rect x="215.47" y="36.12" width="1.49" height="31.4"/><rect x="216.62" y="39.36" width="1.49" height="31.18"/><rect x="217.76" y="40.82" width="1.49" height="32.7"/><rect x="218.9" y="44.25" width="1.49" height="31.96"/><rect x="220.04" y="47.48" width="1.49" height="31.11"/><rect x="221.19" y="49.42" width="1.49" height="31.39"/><rect x="222.33" y="50.42" width="1.49" height="32.55"/><rect x="223.47" y="54.03" width="1.49" height="31.06"/><rect x="224.62" y="53.85" width="1.49" height="33.29"/><rect x="225.76" y="58.21" width="1.49" height="30.92"/><rect x="226.9" y="59.36" width="1.49" height="31.7"/><rect x="228.05" y="62.28" width="1.49" height="30.64"/><rect x="229.19" y="63.36" width="1.49" height="31.37"/><rect x="230.33" y="66.73" width="1.49" height="29.8"/><rect x="231.47" y="67.28" width="1.49" height="31.07"/><rect x="232.62" y="69.95" width="1.49" height="30.24"/><rect x="233.76" y="72.22" width="1.49" height="29.79"/><rect x="234.9" y="73.57" width="1.49" height="30.19"/><rect x="236.05" y="75.45" width="1.49" height="30.03"/><rect x="237.19" y="77.62" width="1.49" height="29.54"/><rect x="238.33" y="78.32" width="1.49" height="30.44"/><rect x="239.48" y="81.85" width="1.49" height="28.38"/><rect x="240.62" y="83.14" width="1.49" height="28.45"/><rect x="241.76" y="83.62" width="1.49" height="29.24"/><rect x="242.9" y="84.24" width="1.49" height="29.85"/><rect x="244.05" y="85.02" width="1.49" height="30.31"/><rect x="245.19" y="87.98" width="1.49" height="28.58"/><rect x="246.33" y="89.22" width="1.49" height="28.55"/><rect x="247.48" y="91.68" width="1.49" height="27.2"/><rect x="248.62" y="91.64" width="1.49" height="28.29"/><rect x="249.76" y="92.26" width="1.49" height="28.65"/><rect x="250.91" y="93.95" width="1.49" height="27.93"/><rect x="252.05" y="95" width="1.49" height="27.83"/><rect x="253.19" y="95.54" width="1.49" height="28.24"/><rect x="254.33" y="96.86" width="1.49" height="27.88"/><rect x="255.48" y="97.17" width="1.49" height="28.53"/><rect x="256.62" y="98.37" width="1.49" height="28.27"/><rect x="257.76" y="99.38" width="1.49" height="28.19"/><rect x="258.91" y="101.1" width="1.49" height="27.38"/><rect x="260.05" y="101.17" width="1.49" height="28.19"/><rect x="261.19" y="101.5" width="1.49" height="28.72"/><rect x="262.34" y="103.04" width="1.49" height="28.03"/><rect x="263.48" y="105.42" width="1.49" height="26.47"/><rect x="264.62" y="104.54" width="1.49" height="28.16"/><rect x="265.76" y="105.07" width="1.49" height="28.43"/><rect x="266.91" y="105.98" width="1.49" height="28.29"/><rect x="268.05" y="107.31" width="1.49" height="27.7"/><rect x="269.19" y="108.43" width="1.49" height="27.3"/><rect x="270.34" y="108.21" width="1.49" height="28.22"/><rect x="271.48" y="108.04" width="1.49" height="29.06"/><rect x="272.62" y="109.6" width="1.49" height="28.17"/><rect x="273.77" y="111.01" width="1.49" height="27.4"/><rect x="274.91" y="110.75" width="1.49" height="28.28"/><rect x="276.05" y="110.68" width="1.49" height="28.95"/><rect x="277.19" y="111.63" width="1.49" height="28.58"/><rect x="278.34" y="112.03" width="1.49" height="28.76"/><rect x="279.48" y="113.6" width="1.49" height="27.74"/><rect x="280.62" y="113.76" width="1.49" height="28.13"/><rect x="281.77" y="114.42" width="1.49" height="27.99"/><rect x="282.91" y="114.45" width="1.49" height="28.47"/><rect x="284.05" y="115.59" width="1.49" height="27.83"/><rect x="285.2" y="115.52" width="1.49" height="28.37"/><rect x="286.34" y="116.67" width="1.49" height="27.58"/></g>
<g fill="url(#u2_19)"><rect x="287.48" y="116.08" width="1.49" height="28.35"/><rect x="288.62" y="114.81" width="1.49" height="29.79"/><rect x="289.77" y="114.3" width="1.49" height="30.47"/><rect x="290.91" y="113.38" width="1.49" height="31.56"/><rect x="292.05" y="112.45" width="1.49" height="32.65"/><rect x="293.2" y="111.82" width="1.49" height="33.43"/><rect x="294.34" y="111.42" width="1.49" height="33.98"/><rect x="295.48" y="111.36" width="1.49" height="34.19"/><rect x="296.63" y="108.97" width="1.49" height="36.73"/><rect x="297.77" y="110.24" width="1.49" height="35.62"/><rect x="298.91" y="110.18" width="1.49" height="35.85"/><rect x="300.05" y="110.13" width="1.49" height="36.1"/><rect x="301.2" y="111.46" width="1.49" height="34.98"/><rect x="302.34" y="111.29" width="1.49" height="35.37"/><rect x="303.48" y="111.86" width="1.49" height="35.05"/><rect x="304.63" y="110.26" width="1.49" height="36.89"/><rect x="305.77" y="112.02" width="1.49" height="35.38"/><rect x="306.91" y="111.98" width="1.49" height="35.65"/><rect x="308.06" y="113.13" width="1.49" height="34.74"/><rect x="309.2" y="111.83" width="1.49" height="36.27"/><rect x="310.34" y="112.46" width="1.49" height="35.87"/><rect x="311.48" y="112.63" width="1.49" height="35.92"/><rect x="312.63" y="112.49" width="1.49" height="36.29"/><rect x="313.77" y="113.5" width="1.49" height="35.51"/><rect x="314.91" y="114.08" width="1.49" height="35.16"/><rect x="316.06" y="112.57" width="1.49" height="36.9"/><rect x="317.2" y="113.3" width="1.49" height="36.4"/><rect x="318.34" y="113.01" width="1.49" height="36.92"/><rect x="319.49" y="114.13" width="1.49" height="36.03"/><rect x="320.63" y="114.61" width="1.49" height="35.79"/><rect x="321.77" y="115.03" width="1.49" height="35.59"/><rect x="322.91" y="115.17" width="1.49" height="35.67"/><rect x="324.06" y="115.69" width="1.49" height="35.36"/><rect x="325.2" y="114.84" width="1.49" height="36.42"/><rect x="326.34" y="116.88" width="1.49" height="34.59"/><rect x="327.49" y="115.37" width="1.49" height="36.3"/><rect x="328.63" y="117.38" width="1.49" height="34.49"/><rect x="329.77" y="115.7" width="1.49" height="36.37"/><rect x="330.92" y="116.72" width="1.49" height="35.53"/><rect x="332.06" y="117.92" width="1.49" height="34.5"/><rect x="333.2" y="118.5" width="1.49" height="34.1"/><rect x="334.34" y="116.95" width="1.49" height="35.81"/><rect x="335.49" y="118.72" width="1.49" height="34.19"/><rect x="336.63" y="119.25" width="1.49" height="33.82"/><rect x="337.77" y="117.52" width="1.49" height="35.7"/><rect x="338.92" y="119.59" width="1.49" height="33.78"/><rect x="340.06" y="119.85" width="1.49" height="33.67"/><rect x="341.2" y="120.25" width="1.49" height="33.43"/><rect x="342.35" y="120.13" width="1.49" height="33.69"/><rect x="343.49" y="119.69" width="1.49" height="34.28"/><rect x="344.63" y="119.28" width="1.49" height="34.83"/><rect x="345.77" y="120.26" width="1.49" height="33.98"/><rect x="346.92" y="120.34" width="1.49" height="34.03"/><rect x="348.06" y="121.58" width="1.49" height="32.92"/><rect x="349.2" y="121.09" width="1.49" height="33.53"/><rect x="350.35" y="120.55" width="1.49" height="34.19"/><rect x="351.49" y="122.37" width="1.49" height="32.48"/></g>
<g fill="url(#u2_18)"><rect x="352.63" y="122.27" width="1.49" height="32.69"/><rect x="353.78" y="121.56" width="1.49" height="33.51"/><rect x="354.92" y="123.63" width="1.49" height="31.55"/><rect x="356.06" y="122.77" width="1.49" height="32.52"/><rect x="357.2" y="122.6" width="1.49" height="32.79"/><rect x="358.35" y="122.6" width="1.49" height="32.89"/><rect x="359.49" y="123.31" width="1.49" height="32.28"/><rect x="360.63" y="124.3" width="1.49" height="31.39"/><rect x="361.78" y="123.44" width="1.49" height="32.34"/><rect x="362.92" y="124.74" width="1.49" height="31.14"/><rect x="364.06" y="123.58" width="1.49" height="32.4"/><rect x="365.21" y="124.59" width="1.49" height="31.48"/><rect x="366.35" y="123.12" width="1.49" height="33.03"/><rect x="367.49" y="124.35" width="1.49" height="31.89"/></g>
<g fill="url(#d0_19)"><rect x="206.33" y="27.1" width="1.49" height="29.95"/><rect x="207.47" y="35.6" width="1.49" height="25.43"/><rect x="208.61" y="41.89" width="1.49" height="25.44"/><rect x="209.76" y="48.2" width="1.49" height="24.98"/><rect x="210.9" y="53.21" width="1.49" height="24.52"/><rect x="212.04" y="57.77" width="1.49" height="25.51"/><rect x="213.19" y="61.46" width="1.49" height="25"/><rect x="214.33" y="64.64" width="1.49" height="24.7"/><rect x="215.47" y="67.32" width="1.49" height="24.91"/><rect x="216.62" y="70.35" width="1.49" height="25.13"/><rect x="217.76" y="73.31" width="1.49" height="24.53"/><rect x="218.9" y="76.01" width="1.49" height="24.87"/><rect x="220.04" y="78.39" width="1.49" height="23.09"/><rect x="221.19" y="80.61" width="1.49" height="22.84"/><rect x="222.33" y="82.77" width="1.49" height="23.14"/><rect x="223.47" y="84.88" width="1.49" height="22.32"/><rect x="224.62" y="86.94" width="1.49" height="21.93"/><rect x="225.76" y="88.93" width="1.49" height="21.93"/><rect x="226.9" y="90.86" width="1.49" height="21.49"/><rect x="228.05" y="92.71" width="1.49" height="20.51"/><rect x="229.19" y="94.52" width="1.49" height="20.58"/><rect x="230.33" y="96.33" width="1.49" height="20.67"/><rect x="231.47" y="98.15" width="1.49" height="19.7"/><rect x="232.62" y="99.99" width="1.49" height="19.49"/><rect x="233.76" y="101.81" width="1.49" height="18.49"/><rect x="234.9" y="103.56" width="1.49" height="18.06"/><rect x="236.05" y="105.28" width="1.49" height="17.68"/><rect x="237.19" y="106.96" width="1.49" height="17.75"/><rect x="238.33" y="108.56" width="1.49" height="17.03"/><rect x="239.48" y="110.03" width="1.49" height="16.78"/><rect x="240.62" y="111.39" width="1.49" height="16.7"/><rect x="241.76" y="112.66" width="1.49" height="17.06"/><rect x="242.9" y="113.9" width="1.49" height="16.45"/><rect x="244.05" y="115.13" width="1.49" height="17.26"/><rect x="245.19" y="116.37" width="1.49" height="15.74"/><rect x="246.33" y="117.57" width="1.49" height="16.42"/><rect x="247.48" y="118.68" width="1.49" height="16.32"/><rect x="248.62" y="119.73" width="1.49" height="15.95"/><rect x="249.76" y="120.72" width="1.49" height="16.42"/><rect x="250.91" y="121.68" width="1.49" height="16.07"/><rect x="252.05" y="122.63" width="1.49" height="15.75"/><rect x="253.19" y="123.59" width="1.49" height="16.17"/><rect x="254.33" y="124.55" width="1.49" height="15.29"/><rect x="255.48" y="125.5" width="1.49" height="15.49"/><rect x="256.62" y="126.44" width="1.49" height="16.57"/><rect x="257.76" y="127.37" width="1.49" height="15.62"/><rect x="258.91" y="128.28" width="1.49" height="16.37"/><rect x="260.05" y="129.16" width="1.49" height="16.17"/><rect x="261.19" y="130.02" width="1.49" height="15.98"/><rect x="262.34" y="130.86" width="1.49" height="15.7"/><rect x="263.48" y="131.69" width="1.49" height="15.51"/><rect x="264.62" y="132.51" width="1.49" height="15.94"/><rect x="265.76" y="133.3" width="1.49" height="15.96"/><rect x="266.91" y="134.07" width="1.49" height="16.25"/><rect x="268.05" y="134.81" width="1.49" height="15.91"/><rect x="269.19" y="135.53" width="1.49" height="16.25"/><rect x="270.34" y="136.23" width="1.49" height="16.03"/><rect x="271.48" y="136.91" width="1.49" height="16.15"/><rect x="272.62" y="137.57" width="1.49" height="16"/><rect x="273.77" y="138.21" width="1.49" height="15.82"/><rect x="274.91" y="138.83" width="1.49" height="15.12"/><rect x="276.05" y="139.43" width="1.49" height="15.34"/><rect x="277.19" y="140.01" width="1.49" height="15.37"/><rect x="278.34" y="140.58" width="1.49" height="15.84"/><rect x="279.48" y="141.14" width="1.49" height="14.9"/><rect x="280.62" y="141.69" width="1.49" height="15.57"/><rect x="281.77" y="142.22" width="1.49" height="15.06"/><rect x="282.91" y="142.73" width="1.49" height="14.35"/><rect x="284.05" y="143.22" width="1.49" height="14.71"/><rect x="285.2" y="143.68" width="1.49" height="14.84"/><rect x="286.34" y="144.05" width="1.49" height="14.89"/></g>
<g fill="url(#d2_19)"><rect x="287.48" y="144.23" width="1.49" height="15"/><rect x="288.62" y="144.4" width="1.49" height="14.89"/><rect x="289.77" y="144.57" width="1.49" height="15.13"/><rect x="290.91" y="144.74" width="1.49" height="14.87"/><rect x="292.05" y="144.9" width="1.49" height="14.34"/><rect x="293.2" y="145.06" width="1.49" height="14.53"/><rect x="294.34" y="145.2" width="1.49" height="14.17"/><rect x="295.48" y="145.35" width="1.49" height="14.37"/><rect x="296.63" y="145.5" width="1.49" height="13.77"/><rect x="297.77" y="145.66" width="1.49" height="13.85"/><rect x="298.91" y="145.83" width="1.49" height="14.02"/><rect x="300.05" y="146.02" width="1.49" height="13.08"/><rect x="301.2" y="146.24" width="1.49" height="13.53"/><rect x="302.34" y="146.47" width="1.49" height="13.55"/><rect x="303.48" y="146.71" width="1.49" height="13.89"/><rect x="304.63" y="146.95" width="1.49" height="12.88"/><rect x="305.77" y="147.2" width="1.49" height="13.68"/><rect x="306.91" y="147.44" width="1.49" height="13.46"/><rect x="308.06" y="147.67" width="1.49" height="13.25"/><rect x="309.2" y="147.9" width="1.49" height="13.74"/><rect x="310.34" y="148.12" width="1.49" height="13.18"/><rect x="311.48" y="148.35" width="1.49" height="13.29"/><rect x="312.63" y="148.58" width="1.49" height="13.33"/><rect x="313.77" y="148.81" width="1.49" height="13.3"/><rect x="314.91" y="149.04" width="1.49" height="13.42"/><rect x="316.06" y="149.27" width="1.49" height="12.84"/><rect x="317.2" y="149.5" width="1.49" height="12.84"/><rect x="318.34" y="149.73" width="1.49" height="13.29"/><rect x="319.49" y="149.97" width="1.49" height="13.26"/><rect x="320.63" y="150.2" width="1.49" height="12.73"/><rect x="321.77" y="150.42" width="1.49" height="12.76"/><rect x="322.91" y="150.64" width="1.49" height="12.74"/><rect x="324.06" y="150.85" width="1.49" height="12.79"/><rect x="325.2" y="151.07" width="1.49" height="12.38"/><rect x="326.34" y="151.27" width="1.49" height="12.58"/><rect x="327.49" y="151.48" width="1.49" height="12.26"/><rect x="328.63" y="151.68" width="1.49" height="12.27"/><rect x="329.77" y="151.87" width="1.49" height="11.65"/><rect x="330.92" y="152.05" width="1.49" height="11.92"/><rect x="332.06" y="152.23" width="1.49" height="12.02"/><rect x="333.2" y="152.4" width="1.49" height="11.87"/><rect x="334.34" y="152.56" width="1.49" height="11.74"/><rect x="335.49" y="152.72" width="1.49" height="11.19"/><rect x="336.63" y="152.87" width="1.49" height="11.08"/><rect x="337.77" y="153.02" width="1.49" height="11.34"/><rect x="338.92" y="153.17" width="1.49" height="11.01"/><rect x="340.06" y="153.32" width="1.49" height="11.12"/><rect x="341.2" y="153.47" width="1.49" height="11.47"/><rect x="342.35" y="153.62" width="1.49" height="10.83"/><rect x="343.49" y="153.77" width="1.49" height="11.23"/><rect x="344.63" y="153.91" width="1.49" height="10.72"/><rect x="345.77" y="154.05" width="1.49" height="10.77"/><rect x="346.92" y="154.18" width="1.49" height="10.71"/><rect x="348.06" y="154.3" width="1.49" height="10.3"/><rect x="349.2" y="154.42" width="1.49" height="10.23"/><rect x="350.35" y="154.54" width="1.49" height="10.4"/><rect x="351.49" y="154.65" width="1.49" height="10.24"/></g>
<g fill="url(#d2_18)"><rect x="352.63" y="154.76" width="1.49" height="10.19"/><rect x="353.78" y="154.87" width="1.49" height="9.84"/><rect x="354.92" y="154.98" width="1.49" height="10.11"/><rect x="356.06" y="155.09" width="1.49" height="9.99"/><rect x="357.2" y="155.19" width="1.49" height="9.83"/><rect x="358.35" y="155.29" width="1.49" height="9.61"/><rect x="359.49" y="155.39" width="1.49" height="9.53"/><rect x="360.63" y="155.49" width="1.49" height="9.73"/><rect x="361.78" y="155.59" width="1.49" height="9.15"/><rect x="362.92" y="155.68" width="1.49" height="9.49"/><rect x="364.06" y="155.78" width="1.49" height="9.22"/><rect x="365.21" y="155.87" width="1.49" height="9"/><rect x="366.35" y="155.95" width="1.49" height="9.26"/><rect x="367.49" y="156.04" width="1.49" height="9.21"/></g>
</g>
<polyline points="206.9,27.1 208.04,35.6 209.19,41.89 210.33,48.2 211.47,53.21 212.61,57.77 213.76,61.46 214.9,64.64 216.04,67.32 217.19,70.35 218.33,73.31 219.47,76.01 220.62,78.39 221.76,80.61 222.9,82.77" fill="none" stroke="#412b2b" stroke-width="3.9" stroke-opacity="0.9" filter="url(#sba1)"/>
<g fill="#fff"><circle cx="206.9" cy="27.1" r="1.3"/><circle cx="208.04" cy="35.6" r="1.3"/><circle cx="209.19" cy="41.89" r="1.3"/><circle cx="210.33" cy="48.2" r="1.3"/><circle cx="211.47" cy="53.21" r="1.3"/><circle cx="212.61" cy="57.77" r="1.3"/><circle cx="213.76" cy="61.46" r="1.3"/><circle cx="214.9" cy="64.64" r="1.3"/><circle cx="216.04" cy="67.32" r="1.3"/><circle cx="217.19" cy="70.35" r="1.3"/><circle cx="218.33" cy="73.31" r="1.3"/><circle cx="219.47" cy="76.01" r="1.3"/><circle cx="220.62" cy="78.39" r="1.3"/><circle cx="221.76" cy="80.61" r="1.3"/><circle cx="222.9" cy="82.77" r="1.3"/><circle cx="224.04" cy="84.88" r="1.3"/><circle cx="225.19" cy="86.94" r="1.3"/><circle cx="226.33" cy="88.93" r="1.3"/><circle cx="227.47" cy="90.86" r="1.3"/><circle cx="228.62" cy="92.71" r="1.3"/><circle cx="229.76" cy="94.52" r="1.3"/><circle cx="230.9" cy="96.33" r="1.3"/><circle cx="232.05" cy="98.15" r="1.3"/><circle cx="233.19" cy="99.99" r="1.3"/><circle cx="234.33" cy="101.81" r="1.3"/><circle cx="235.47" cy="103.56" r="1.3"/><circle cx="236.62" cy="105.28" r="1.3"/><circle cx="237.76" cy="106.96" r="1.3"/><circle cx="238.9" cy="108.56" r="1.3"/><circle cx="240.05" cy="110.03" r="1.3"/><circle cx="241.19" cy="111.39" r="1.3"/><circle cx="242.33" cy="112.66" r="1.3"/><circle cx="243.48" cy="113.9" r="1.3"/><circle cx="244.62" cy="115.13" r="1.3"/><circle cx="245.76" cy="116.37" r="1.3"/><circle cx="246.91" cy="117.57" r="1.3"/><circle cx="248.05" cy="118.68" r="1.3"/><circle cx="249.19" cy="119.73" r="1.3"/><circle cx="250.33" cy="120.72" r="1.3"/><circle cx="251.48" cy="121.68" r="1.3"/><circle cx="252.62" cy="122.63" r="1.3"/><circle cx="253.76" cy="123.59" r="1.3"/><circle cx="254.91" cy="124.55" r="1.3"/><circle cx="256.05" cy="125.5" r="1.3"/><circle cx="257.19" cy="126.44" r="1.3"/><circle cx="258.33" cy="127.37" r="1.3"/><circle cx="259.48" cy="128.28" r="1.3"/><circle cx="260.62" cy="129.16" r="1.3"/><circle cx="261.76" cy="130.02" r="1.3"/><circle cx="262.91" cy="130.86" r="1.3"/><circle cx="264.05" cy="131.69" r="1.3"/><circle cx="265.19" cy="132.51" r="1.3"/><circle cx="266.34" cy="133.3" r="1.3"/><circle cx="267.48" cy="134.07" r="1.3"/><circle cx="268.62" cy="134.81" r="1.3"/><circle cx="269.76" cy="135.53" r="1.3"/><circle cx="270.91" cy="136.23" r="1.3"/><circle cx="272.05" cy="136.91" r="1.3"/><circle cx="273.19" cy="137.57" r="1.3"/><circle cx="274.34" cy="138.21" r="1.3"/><circle cx="275.48" cy="138.83" r="1.3"/><circle cx="276.62" cy="139.43" r="1.3"/><circle cx="277.77" cy="140.01" r="1.3"/><circle cx="278.91" cy="140.58" r="1.3"/><circle cx="280.05" cy="141.14" r="1.3"/><circle cx="281.19" cy="141.69" r="1.3"/><circle cx="282.34" cy="142.22" r="1.3"/><circle cx="283.48" cy="142.73" r="1.3"/><circle cx="284.62" cy="143.22" r="1.3"/><circle cx="285.77" cy="143.68" r="1.3"/><circle cx="286.91" cy="144.05" r="1.3"/><circle cx="288.05" cy="144.23" r="1.3"/><circle cx="289.2" cy="144.4" r="1.3"/><circle cx="290.34" cy="144.57" r="1.3"/><circle cx="291.48" cy="144.74" r="1.3"/><circle cx="292.62" cy="144.9" r="1.3"/><circle cx="293.77" cy="145.06" r="1.3"/><circle cx="294.91" cy="145.2" r="1.3"/><circle cx="296.05" cy="145.35" r="1.3"/><circle cx="297.2" cy="145.5" r="1.3"/><circle cx="298.34" cy="145.66" r="1.3"/><circle cx="299.48" cy="145.83" r="1.3"/><circle cx="300.63" cy="146.02" r="1.3"/><circle cx="301.77" cy="146.24" r="1.3"/><circle cx="302.91" cy="146.47" r="1.3"/><circle cx="304.06" cy="146.71" r="1.3"/><circle cx="305.2" cy="146.95" r="1.3"/><circle cx="306.34" cy="147.2" r="1.3"/><circle cx="307.48" cy="147.44" r="1.3"/><circle cx="308.63" cy="147.67" r="1.3"/><circle cx="309.77" cy="147.9" r="1.3"/><circle cx="310.91" cy="148.12" r="1.3"/><circle cx="312.06" cy="148.35" r="1.3"/><circle cx="313.2" cy="148.58" r="1.3"/><circle cx="314.34" cy="148.81" r="1.3"/><circle cx="315.49" cy="149.04" r="1.3"/><circle cx="316.63" cy="149.27" r="1.3"/><circle cx="317.77" cy="149.5" r="1.3"/><circle cx="318.91" cy="149.73" r="1.3"/><circle cx="320.06" cy="149.97" r="1.3"/><circle cx="321.2" cy="150.2" r="1.3"/><circle cx="322.34" cy="150.42" r="1.3"/><circle cx="323.49" cy="150.64" r="1.3"/><circle cx="324.63" cy="150.85" r="1.3"/><circle cx="325.77" cy="151.07" r="1.3"/><circle cx="326.91" cy="151.27" r="1.3"/><circle cx="328.06" cy="151.48" r="1.3"/><circle cx="329.2" cy="151.68" r="1.3"/><circle cx="330.34" cy="151.87" r="1.3"/><circle cx="331.49" cy="152.05" r="1.3"/><circle cx="332.63" cy="152.23" r="1.3"/><circle cx="333.77" cy="152.4" r="1.3"/><circle cx="334.92" cy="152.56" r="1.3"/><circle cx="336.06" cy="152.72" r="1.3"/><circle cx="337.2" cy="152.87" r="1.3"/><circle cx="338.35" cy="153.02" r="1.3"/><circle cx="339.49" cy="153.17" r="1.3"/><circle cx="340.63" cy="153.32" r="1.3"/><circle cx="341.77" cy="153.47" r="1.3"/><circle cx="342.92" cy="153.62" r="1.3"/><circle cx="344.06" cy="153.77" r="1.3"/><circle cx="345.2" cy="153.91" r="1.3"/><circle cx="346.35" cy="154.05" r="1.3"/><circle cx="347.49" cy="154.18" r="1.3"/><circle cx="348.63" cy="154.3" r="1.3"/><circle cx="349.77" cy="154.42" r="1.3"/><circle cx="350.92" cy="154.54" r="1.3"/><circle cx="352.06" cy="154.65" r="1.3"/><circle cx="353.2" cy="154.76" r="1.3"/><circle cx="354.35" cy="154.87" r="1.3"/><circle cx="355.49" cy="154.98" r="1.3"/><circle cx="356.63" cy="155.09" r="1.3"/><circle cx="357.78" cy="155.19" r="1.3"/><circle cx="358.92" cy="155.29" r="1.3"/><circle cx="360.06" cy="155.39" r="1.3"/><circle cx="361.21" cy="155.49" r="1.3"/><circle cx="362.35" cy="155.59" r="1.3"/><circle cx="363.49" cy="155.68" r="1.3"/><circle cx="364.63" cy="155.78" r="1.3"/><circle cx="365.78" cy="155.87" r="1.3"/><circle cx="366.92" cy="155.95" r="1.3"/><circle cx="368.06" cy="156.04" r="1.3"/></g>
<line x1="286.85" y1="0.5" x2="286.85" y2="163.3" stroke="#c4161f" stroke-width="1.6" stroke-dasharray="10.2 2.42" stroke-dashoffset="6.5"/>
</g>
<path d="M226.5 163.3v-2.2M226.5 0.5v2.2M249.35 163.3v-2.2M249.35 0.5v2.2M272.2 163.3v-2.2M272.2 0.5v2.2M295.05 163.3v-2.2M295.05 0.5v2.2M317.9 163.3v-2.2M317.9 0.5v2.2M340.75 163.3v-2.2M340.75 0.5v2.2M363.6 163.3v-2.2M363.6 0.5v2.2M205.6 33.06h2.2M368.9 33.06h-2.2M205.6 65.62h2.2M368.9 65.62h-2.2M205.6 98.18h2.2M368.9 98.18h-2.2M205.6 130.74h2.2M368.9 130.74h-2.2" stroke="#000" stroke-width="0.8" fill="none"/>
<rect x="205.6" y="0.5" width="163.3" height="162.8" fill="none" stroke="#000" stroke-width="1"/>
<rect x="31.5" y="174.6" width="163.3" height="162.8" fill="#e9e9b4"/>
<g clip-path="url(#ca3)">
<g filter="url(#hba3)">
<g fill="url(#u0_19)"><rect x="32.23" y="194.27" width="1.49" height="6.31"/><rect x="33.37" y="196.75" width="1.49" height="12.12"/><rect x="34.51" y="196.08" width="1.49" height="18.23"/><rect x="35.66" y="197.52" width="1.49" height="21.88"/><rect x="36.8" y="199.53" width="1.49" height="25.53"/><rect x="37.94" y="201.11" width="1.49" height="28.28"/><rect x="39.09" y="204.64" width="1.49" height="29.13"/><rect x="40.23" y="206.49" width="1.49" height="31.34"/><rect x="41.37" y="209.29" width="1.49" height="31.98"/><rect x="42.52" y="212.63" width="1.49" height="31.84"/><rect x="43.66" y="214.46" width="1.49" height="33.16"/><rect x="44.8" y="218.55" width="1.49" height="31.98"/><rect x="45.94" y="221.6" width="1.49" height="31.66"/><rect x="47.09" y="224.63" width="1.49" height="31.35"/><rect x="48.23" y="226.7" width="1.49" height="32.06"/><rect x="49.37" y="228.51" width="1.49" height="32.8"/><rect x="50.52" y="231.88" width="1.49" height="31.51"/><rect x="51.66" y="234.96" width="1.49" height="30.23"/><rect x="52.8" y="235.27" width="1.49" height="31.59"/><rect x="53.95" y="236.65" width="1.49" height="31.9"/><rect x="55.09" y="239.54" width="1.49" height="31.02"/><rect x="56.23" y="240.84" width="1.49" height="31.34"/><rect x="57.37" y="241.42" width="1.49" height="31.06"/></g>
<g fill="url(#u1_19)"><rect x="58.52" y="240.94" width="1.49" height="31.6"/><rect x="59.66" y="240.16" width="1.49" height="32.9"/><rect x="60.8" y="239.63" width="1.49" height="34.22"/><rect x="61.95" y="240.47" width="1.49" height="34.35"/><rect x="63.09" y="240.28" width="1.49" height="35.56"/><rect x="64.23" y="240.82" width="1.49" height="36"/><rect x="65.38" y="241.97" width="1.49" height="35.66"/><rect x="66.52" y="243.09" width="1.49" height="35.3"/><rect x="67.66" y="243.01" width="1.49" height="36.14"/><rect x="68.8" y="242.67" width="1.49" height="37.23"/><rect x="69.95" y="243.81" width="1.49" height="36.86"/><rect x="71.09" y="245.35" width="1.49" height="36.06"/><rect x="72.23" y="245.79" width="1.49" height="36.38"/><rect x="73.38" y="246.17" width="1.49" height="36.75"/><rect x="74.52" y="247.74" width="1.49" height="35.9"/><rect x="75.66" y="247.98" width="1.49" height="36.36"/><rect x="76.81" y="248.03" width="1.49" height="37.02"/><rect x="77.95" y="248.52" width="1.49" height="37.27"/><rect x="79.09" y="249.72" width="1.49" height="36.85"/><rect x="80.23" y="250.95" width="1.49" height="36.49"/><rect x="81.38" y="250.17" width="1.49" height="38.16"/><rect x="82.52" y="251.73" width="1.49" height="37.55"/><rect x="83.66" y="252" width="1.49" height="38.53"/><rect x="84.81" y="256.43" width="1.49" height="36.31"/><rect x="85.95" y="258.33" width="1.49" height="38.4"/><rect x="87.09" y="260.66" width="1.49" height="37.01"/><rect x="88.24" y="260.74" width="1.49" height="37.47"/><rect x="89.38" y="261.92" width="1.49" height="36.69"/><rect x="90.52" y="262.7" width="1.49" height="36.38"/><rect x="91.66" y="262.33" width="1.49" height="37.43"/><rect x="92.81" y="263.41" width="1.49" height="37.09"/><rect x="93.95" y="264.02" width="1.49" height="37.24"/><rect x="95.09" y="264.81" width="1.49" height="37.23"/><rect x="96.24" y="266.13" width="1.49" height="36.7"/><rect x="97.38" y="265.67" width="1.49" height="37.94"/><rect x="98.52" y="267.63" width="1.49" height="36.73"/><rect x="99.67" y="267.96" width="1.49" height="37.16"/><rect x="100.81" y="267.87" width="1.49" height="38.03"/><rect x="101.95" y="269.95" width="1.49" height="36.72"/><rect x="103.09" y="269.61" width="1.49" height="37.82"/><rect x="104.24" y="271.04" width="1.49" height="37.12"/><rect x="105.38" y="271.44" width="1.49" height="37.4"/><rect x="106.52" y="271.98" width="1.49" height="37.48"/><rect x="107.67" y="273.1" width="1.49" height="37.03"/><rect x="108.81" y="272.77" width="1.49" height="38.05"/><rect x="109.95" y="273.45" width="1.49" height="37.94"/><rect x="111.1" y="274.76" width="1.49" height="36.98"/><rect x="112.24" y="274.44" width="1.49" height="37.34"/><rect x="113.38" y="274.94" width="1.49" height="36.76"/><rect x="114.52" y="273.62" width="1.49" height="38.11"/><rect x="115.67" y="274.12" width="1.49" height="37.67"/><rect x="116.81" y="275.04" width="1.49" height="36.85"/><rect x="117.95" y="274.99" width="1.49" height="37.03"/><rect x="119.1" y="276.35" width="1.49" height="35.82"/><rect x="120.24" y="276.57" width="1.49" height="35.78"/><rect x="121.38" y="274.81" width="1.49" height="37.85"/><rect x="122.53" y="276.2" width="1.49" height="36.9"/><rect x="123.67" y="276.55" width="1.49" height="37.07"/><rect x="124.81" y="278.09" width="1.49" height="36.1"/><rect x="125.95" y="277.2" width="1.49" height="37.58"/><rect x="127.1" y="277.6" width="1.49" height="37.72"/><rect x="128.24" y="279.49" width="1.49" height="36.4"/><rect x="129.38" y="279.09" width="1.49" height="37.4"/><rect x="130.53" y="280.14" width="1.49" height="36.96"/><rect x="131.67" y="280.35" width="1.49" height="37.36"/><rect x="132.81" y="283.32" width="1.49" height="34.98"/><rect x="133.96" y="281.97" width="1.49" height="36.88"/><rect x="135.1" y="283.14" width="1.49" height="36.24"/><rect x="136.24" y="281.89" width="1.49" height="37.99"/><rect x="137.38" y="284.18" width="1.49" height="36.2"/><rect x="138.53" y="285.28" width="1.49" height="35.6"/><rect x="139.67" y="285.34" width="1.49" height="36.07"/><rect x="140.81" y="286.12" width="1.49" height="35.83"/><rect x="141.96" y="286.89" width="1.49" height="35.63"/><rect x="143.1" y="286.99" width="1.49" height="36.1"/><rect x="144.24" y="288.5" width="1.49" height="35.15"/><rect x="145.39" y="287.42" width="1.49" height="36.77"/><rect x="146.53" y="289.85" width="1.49" height="34.84"/><rect x="147.67" y="289.65" width="1.49" height="35.48"/><rect x="148.81" y="290.43" width="1.49" height="35.13"/><rect x="149.96" y="291.94" width="1.49" height="34.03"/><rect x="151.1" y="291.29" width="1.49" height="35.08"/><rect x="152.24" y="291.81" width="1.49" height="34.93"/><rect x="153.39" y="292.42" width="1.49" height="34.67"/><rect x="154.53" y="292.11" width="1.49" height="35.29"/><rect x="155.67" y="293.82" width="1.49" height="33.85"/><rect x="156.82" y="293.7" width="1.49" height="34.21"/><rect x="157.96" y="294.48" width="1.49" height="33.65"/><rect x="159.1" y="294.52" width="1.49" height="33.82"/><rect x="160.24" y="294.74" width="1.49" height="33.8"/><rect x="161.39" y="295.55" width="1.49" height="33.18"/><rect x="162.53" y="295.28" width="1.49" height="33.63"/><rect x="163.67" y="296.33" width="1.49" height="32.73"/><rect x="164.82" y="296.34" width="1.49" height="32.86"/></g>
<g fill="url(#u1_18)"><rect x="165.96" y="297.71" width="1.49" height="31.62"/><rect x="167.1" y="296.89" width="1.49" height="32.55"/><rect x="168.25" y="297.62" width="1.49" height="31.92"/><rect x="169.39" y="297.7" width="1.49" height="31.93"/><rect x="170.53" y="297.85" width="1.49" height="31.86"/><rect x="171.67" y="298.26" width="1.49" height="31.51"/><rect x="172.82" y="298.02" width="1.49" height="31.83"/><rect x="173.96" y="297.9" width="1.49" height="32.02"/><rect x="175.1" y="298.08" width="1.49" height="31.93"/><rect x="176.25" y="298.93" width="1.49" height="31.17"/><rect x="177.39" y="298.57" width="1.49" height="31.62"/><rect x="178.53" y="299.53" width="1.49" height="30.79"/></g>
<g fill="url(#u1_17)"><rect x="179.68" y="299.01" width="1.49" height="31.42"/><rect x="180.82" y="300.38" width="1.49" height="30.18"/><rect x="181.96" y="300.5" width="1.49" height="30.19"/><rect x="183.1" y="300.28" width="1.49" height="30.54"/><rect x="184.25" y="300.97" width="1.49" height="29.96"/><rect x="185.39" y="300.2" width="1.49" height="30.84"/><rect x="186.53" y="301.02" width="1.49" height="30.13"/><rect x="187.68" y="300.94" width="1.49" height="30.31"/><rect x="188.82" y="301.12" width="1.49" height="30.24"/></g>
<g fill="url(#u1_16)"><rect x="189.96" y="301.74" width="1.49" height="29.73"/><rect x="191.11" y="300.85" width="1.49" height="30.7"/><rect x="192.25" y="301.79" width="1.49" height="29.87"/><rect x="193.39" y="302.74" width="1.49" height="29.01"/></g>
<g fill="url(#d0_19)"><rect x="32.23" y="200.38" width="1.49" height="30.36"/><rect x="33.37" y="208.67" width="1.49" height="26.39"/><rect x="34.51" y="214.11" width="1.49" height="25.65"/><rect x="35.66" y="219.19" width="1.49" height="24.73"/><rect x="36.8" y="224.86" width="1.49" height="25.64"/><rect x="37.94" y="229.19" width="1.49" height="24.64"/><rect x="39.09" y="233.57" width="1.49" height="24.75"/><rect x="40.23" y="237.63" width="1.49" height="25.45"/><rect x="41.37" y="241.08" width="1.49" height="25.15"/><rect x="42.52" y="244.27" width="1.49" height="25.59"/><rect x="43.66" y="247.41" width="1.49" height="24.89"/><rect x="44.8" y="250.33" width="1.49" height="24.72"/><rect x="45.94" y="253.07" width="1.49" height="24.16"/><rect x="47.09" y="255.78" width="1.49" height="22.95"/><rect x="48.23" y="258.56" width="1.49" height="23.16"/><rect x="49.37" y="261.11" width="1.49" height="22.47"/><rect x="50.52" y="263.19" width="1.49" height="21.69"/><rect x="51.66" y="265" width="1.49" height="21.02"/><rect x="52.8" y="266.66" width="1.49" height="20.9"/><rect x="53.95" y="268.35" width="1.49" height="21.6"/><rect x="55.09" y="270.36" width="1.49" height="21.35"/><rect x="56.23" y="271.98" width="1.49" height="20.79"/><rect x="57.37" y="272.28" width="1.49" height="20.38"/></g>
<g fill="url(#d1_19)"><rect x="58.52" y="272.34" width="1.49" height="21.77"/><rect x="59.66" y="272.85" width="1.49" height="22.94"/><rect x="60.8" y="273.65" width="1.49" height="24.08"/><rect x="61.95" y="274.62" width="1.49" height="25.36"/><rect x="63.09" y="275.64" width="1.49" height="25.28"/><rect x="64.23" y="276.61" width="1.49" height="27.36"/><rect x="65.38" y="277.43" width="1.49" height="28.22"/><rect x="66.52" y="278.19" width="1.49" height="28.92"/><rect x="67.66" y="278.95" width="1.49" height="28.18"/><rect x="68.8" y="279.71" width="1.49" height="28.25"/><rect x="69.95" y="280.46" width="1.49" height="27.85"/><rect x="71.09" y="281.22" width="1.49" height="27.76"/><rect x="72.23" y="281.97" width="1.49" height="29.26"/><rect x="73.38" y="282.72" width="1.49" height="29.29"/><rect x="74.52" y="283.44" width="1.49" height="28.38"/><rect x="75.66" y="284.14" width="1.49" height="29.33"/><rect x="76.81" y="284.85" width="1.49" height="29.1"/><rect x="77.95" y="285.58" width="1.49" height="29.13"/><rect x="79.09" y="286.38" width="1.49" height="30.1"/><rect x="80.23" y="287.24" width="1.49" height="29.55"/><rect x="81.38" y="288.14" width="1.49" height="29.62"/><rect x="82.52" y="289.08" width="1.49" height="29.31"/><rect x="83.66" y="290.33" width="1.49" height="28.44"/><rect x="84.81" y="292.53" width="1.49" height="29.26"/><rect x="85.95" y="296.53" width="1.49" height="30.21"/><rect x="87.09" y="297.47" width="1.49" height="29.23"/><rect x="88.24" y="298.01" width="1.49" height="30.07"/><rect x="89.38" y="298.4" width="1.49" height="29.11"/><rect x="90.52" y="298.88" width="1.49" height="30.13"/><rect x="91.66" y="299.56" width="1.49" height="30.04"/><rect x="92.81" y="300.3" width="1.49" height="28.94"/><rect x="93.95" y="301.06" width="1.49" height="29.38"/><rect x="95.09" y="301.84" width="1.49" height="30.28"/><rect x="96.24" y="302.63" width="1.49" height="29.39"/><rect x="97.38" y="303.4" width="1.49" height="30.21"/><rect x="98.52" y="304.16" width="1.49" height="28.2"/><rect x="99.67" y="304.92" width="1.49" height="30.38"/><rect x="100.81" y="305.7" width="1.49" height="29.59"/><rect x="101.95" y="306.47" width="1.49" height="29.73"/><rect x="103.09" y="307.23" width="1.49" height="29.3"/><rect x="104.24" y="307.95" width="1.49" height="29.44"/><rect x="105.38" y="308.63" width="1.49" height="29.07"/><rect x="106.52" y="309.26" width="1.49" height="29.7"/><rect x="107.67" y="309.94" width="1.49" height="30.32"/><rect x="108.81" y="310.62" width="1.49" height="28.98"/><rect x="109.95" y="311.19" width="1.49" height="30.33"/><rect x="111.1" y="311.54" width="1.49" height="30.84"/><rect x="112.24" y="311.58" width="1.49" height="30.78"/><rect x="113.38" y="311.5" width="1.49" height="29.48"/><rect x="114.52" y="311.52" width="1.49" height="31.04"/><rect x="115.67" y="311.59" width="1.49" height="30.03"/><rect x="116.81" y="311.69" width="1.49" height="28.47"/><rect x="117.95" y="311.82" width="1.49" height="29.87"/><rect x="119.1" y="311.98" width="1.49" height="28.47"/><rect x="120.24" y="312.15" width="1.49" height="28.56"/><rect x="121.38" y="312.46" width="1.49" height="27.55"/><rect x="122.53" y="312.89" width="1.49" height="28.74"/><rect x="123.67" y="313.42" width="1.49" height="27.12"/><rect x="124.81" y="314" width="1.49" height="26.51"/><rect x="125.95" y="314.58" width="1.49" height="27.03"/><rect x="127.1" y="315.13" width="1.49" height="27.72"/><rect x="128.24" y="315.69" width="1.49" height="26.78"/><rect x="129.38" y="316.29" width="1.49" height="26.96"/><rect x="130.53" y="316.9" width="1.49" height="25.81"/><rect x="131.67" y="317.51" width="1.49" height="26.04"/><rect x="132.81" y="318.1" width="1.49" height="25.99"/><rect x="133.96" y="318.65" width="1.49" height="27.22"/><rect x="135.1" y="319.18" width="1.49" height="25.25"/><rect x="136.24" y="319.68" width="1.49" height="25.83"/><rect x="137.38" y="320.18" width="1.49" height="25.01"/><rect x="138.53" y="320.68" width="1.49" height="26.13"/><rect x="139.67" y="321.2" width="1.49" height="24.92"/><rect x="140.81" y="321.75" width="1.49" height="25.78"/><rect x="141.96" y="322.32" width="1.49" height="24.95"/><rect x="143.1" y="322.89" width="1.49" height="24.4"/><rect x="144.24" y="323.45" width="1.49" height="24.24"/><rect x="145.39" y="323.98" width="1.49" height="23.55"/><rect x="146.53" y="324.48" width="1.49" height="22.61"/><rect x="147.67" y="324.93" width="1.49" height="22.73"/><rect x="148.81" y="325.36" width="1.49" height="22.51"/><rect x="149.96" y="325.77" width="1.49" height="22.49"/><rect x="151.1" y="326.17" width="1.49" height="21.75"/><rect x="152.24" y="326.54" width="1.49" height="21.83"/><rect x="153.39" y="326.88" width="1.49" height="20.71"/><rect x="154.53" y="327.19" width="1.49" height="20.53"/><rect x="155.67" y="327.47" width="1.49" height="19.72"/><rect x="156.82" y="327.71" width="1.49" height="19.58"/><rect x="157.96" y="327.93" width="1.49" height="19.78"/><rect x="159.1" y="328.15" width="1.49" height="19.59"/><rect x="160.24" y="328.34" width="1.49" height="18.65"/><rect x="161.39" y="328.53" width="1.49" height="18.21"/><rect x="162.53" y="328.7" width="1.49" height="18.01"/><rect x="163.67" y="328.86" width="1.49" height="17.9"/><rect x="164.82" y="329" width="1.49" height="17.04"/></g>
<g fill="url(#d1_18)"><rect x="165.96" y="329.13" width="1.49" height="16.95"/><rect x="167.1" y="329.25" width="1.49" height="16.42"/><rect x="168.25" y="329.34" width="1.49" height="15.73"/><rect x="169.39" y="329.43" width="1.49" height="15.81"/><rect x="170.53" y="329.51" width="1.49" height="15.43"/><rect x="171.67" y="329.58" width="1.49" height="15.32"/><rect x="172.82" y="329.65" width="1.49" height="14.73"/><rect x="173.96" y="329.72" width="1.49" height="14.93"/><rect x="175.1" y="329.8" width="1.49" height="14.4"/><rect x="176.25" y="329.89" width="1.49" height="13.85"/><rect x="177.39" y="330" width="1.49" height="13.32"/><rect x="178.53" y="330.11" width="1.49" height="13.56"/></g>
<g fill="url(#d1_17)"><rect x="179.68" y="330.23" width="1.49" height="13.39"/><rect x="180.82" y="330.36" width="1.49" height="12.76"/><rect x="181.96" y="330.49" width="1.49" height="12.9"/><rect x="183.1" y="330.61" width="1.49" height="12.56"/><rect x="184.25" y="330.73" width="1.49" height="12.3"/><rect x="185.39" y="330.84" width="1.49" height="11.82"/><rect x="186.53" y="330.95" width="1.49" height="12.21"/><rect x="187.68" y="331.06" width="1.49" height="11.46"/><rect x="188.82" y="331.16" width="1.49" height="11.13"/></g>
<g fill="url(#d1_16)"><rect x="189.96" y="331.26" width="1.49" height="11.39"/><rect x="191.11" y="331.36" width="1.49" height="10.41"/><rect x="192.25" y="331.46" width="1.49" height="10.93"/><rect x="193.39" y="331.55" width="1.49" height="10.31"/></g>
</g>
<polyline points="32.8,200.38 33.94,208.67 35.09,214.11 36.23,219.19 37.37,224.86 38.52,229.19 39.66,233.57 40.8,237.63 41.94,241.08 43.09,244.27 44.23,247.41 45.37,250.33 46.52,253.07 47.66,255.78 48.8,258.56" fill="none" stroke="#412b2b" stroke-width="3.9" stroke-opacity="0.9" filter="url(#sba3)"/>
<g fill="#fff"><circle cx="32.8" cy="200.38" r="1.3"/><circle cx="33.94" cy="208.67" r="1.3"/><circle cx="35.09" cy="214.11" r="1.3"/><circle cx="36.23" cy="219.19" r="1.3"/><circle cx="37.37" cy="224.86" r="1.3"/><circle cx="38.52" cy="229.19" r="1.3"/><circle cx="39.66" cy="233.57" r="1.3"/><circle cx="40.8" cy="237.63" r="1.3"/><circle cx="41.94" cy="241.08" r="1.3"/><circle cx="43.09" cy="244.27" r="1.3"/><circle cx="44.23" cy="247.41" r="1.3"/><circle cx="45.37" cy="250.33" r="1.3"/><circle cx="46.52" cy="253.07" r="1.3"/><circle cx="47.66" cy="255.78" r="1.3"/><circle cx="48.8" cy="258.56" r="1.3"/><circle cx="49.94" cy="261.11" r="1.3"/><circle cx="51.09" cy="263.19" r="1.3"/><circle cx="52.23" cy="265" r="1.3"/><circle cx="53.37" cy="266.66" r="1.3"/><circle cx="54.52" cy="268.35" r="1.3"/><circle cx="55.66" cy="270.36" r="1.3"/><circle cx="56.8" cy="271.98" r="1.3"/><circle cx="57.95" cy="272.28" r="1.3"/><circle cx="59.09" cy="272.34" r="1.3"/><circle cx="60.23" cy="272.85" r="1.3"/><circle cx="61.38" cy="273.65" r="1.3"/><circle cx="62.52" cy="274.62" r="1.3"/><circle cx="63.66" cy="275.64" r="1.3"/><circle cx="64.8" cy="276.61" r="1.3"/><circle cx="65.95" cy="277.43" r="1.3"/><circle cx="67.09" cy="278.19" r="1.3"/><circle cx="68.23" cy="278.95" r="1.3"/><circle cx="69.38" cy="279.71" r="1.3"/><circle cx="70.52" cy="280.46" r="1.3"/><circle cx="71.66" cy="281.22" r="1.3"/><circle cx="72.81" cy="281.97" r="1.3"/><circle cx="73.95" cy="282.72" r="1.3"/><circle cx="75.09" cy="283.44" r="1.3"/><circle cx="76.23" cy="284.14" r="1.3"/><circle cx="77.38" cy="284.85" r="1.3"/><circle cx="78.52" cy="285.58" r="1.3"/><circle cx="79.66" cy="286.38" r="1.3"/><circle cx="80.81" cy="287.24" r="1.3"/><circle cx="81.95" cy="288.14" r="1.3"/><circle cx="83.09" cy="289.08" r="1.3"/><circle cx="84.23" cy="290.33" r="1.3"/><circle cx="85.38" cy="292.53" r="1.3"/><circle cx="86.52" cy="296.53" r="1.3"/><circle cx="87.66" cy="297.47" r="1.3"/><circle cx="88.81" cy="298.01" r="1.3"/><circle cx="89.95" cy="298.4" r="1.3"/><circle cx="91.09" cy="298.88" r="1.3"/><circle cx="92.24" cy="299.56" r="1.3"/><circle cx="93.38" cy="300.3" r="1.3"/><circle cx="94.52" cy="301.06" r="1.3"/><circle cx="95.66" cy="301.84" r="1.3"/><circle cx="96.81" cy="302.63" r="1.3"/><circle cx="97.95" cy="303.4" r="1.3"/><circle cx="99.09" cy="304.16" r="1.3"/><circle cx="100.24" cy="304.92" r="1.3"/><circle cx="101.38" cy="305.7" r="1.3"/><circle cx="102.52" cy="306.47" r="1.3"/><circle cx="103.67" cy="307.23" r="1.3"/><circle cx="104.81" cy="307.95" r="1.3"/><circle cx="105.95" cy="308.63" r="1.3"/><circle cx="107.09" cy="309.26" r="1.3"/><circle cx="108.24" cy="309.94" r="1.3"/><circle cx="109.38" cy="310.62" r="1.3"/><circle cx="110.52" cy="311.19" r="1.3"/><circle cx="111.67" cy="311.54" r="1.3"/><circle cx="112.81" cy="311.58" r="1.3"/><circle cx="113.95" cy="311.5" r="1.3"/><circle cx="115.1" cy="311.52" r="1.3"/><circle cx="116.24" cy="311.59" r="1.3"/><circle cx="117.38" cy="311.69" r="1.3"/><circle cx="118.52" cy="311.82" r="1.3"/><circle cx="119.67" cy="311.98" r="1.3"/><circle cx="120.81" cy="312.15" r="1.3"/><circle cx="121.95" cy="312.46" r="1.3"/><circle cx="123.1" cy="312.89" r="1.3"/><circle cx="124.24" cy="313.42" r="1.3"/><circle cx="125.38" cy="314" r="1.3"/><circle cx="126.53" cy="314.58" r="1.3"/><circle cx="127.67" cy="315.13" r="1.3"/><circle cx="128.81" cy="315.69" r="1.3"/><circle cx="129.95" cy="316.29" r="1.3"/><circle cx="131.1" cy="316.9" r="1.3"/><circle cx="132.24" cy="317.51" r="1.3"/><circle cx="133.38" cy="318.1" r="1.3"/><circle cx="134.53" cy="318.65" r="1.3"/><circle cx="135.67" cy="319.18" r="1.3"/><circle cx="136.81" cy="319.68" r="1.3"/><circle cx="137.96" cy="320.18" r="1.3"/><circle cx="139.1" cy="320.68" r="1.3"/><circle cx="140.24" cy="321.2" r="1.3"/><circle cx="141.38" cy="321.75" r="1.3"/><circle cx="142.53" cy="322.32" r="1.3"/><circle cx="143.67" cy="322.89" r="1.3"/><circle cx="144.81" cy="323.45" r="1.3"/><circle cx="145.96" cy="323.98" r="1.3"/><circle cx="147.1" cy="324.48" r="1.3"/><circle cx="148.24" cy="324.93" r="1.3"/><circle cx="149.39" cy="325.36" r="1.3"/><circle cx="150.53" cy="325.77" r="1.3"/><circle cx="151.67" cy="326.17" r="1.3"/><circle cx="152.81" cy="326.54" r="1.3"/><circle cx="153.96" cy="326.88" r="1.3"/><circle cx="155.1" cy="327.19" r="1.3"/><circle cx="156.24" cy="327.47" r="1.3"/><circle cx="157.39" cy="327.71" r="1.3"/><circle cx="158.53" cy="327.93" r="1.3"/><circle cx="159.67" cy="328.15" r="1.3"/><circle cx="160.82" cy="328.34" r="1.3"/><circle cx="161.96" cy="328.53" r="1.3"/><circle cx="163.1" cy="328.7" r="1.3"/><circle cx="164.25" cy="328.86" r="1.3"/><circle cx="165.39" cy="329" r="1.3"/><circle cx="166.53" cy="329.13" r="1.3"/><circle cx="167.67" cy="329.25" r="1.3"/><circle cx="168.82" cy="329.34" r="1.3"/><circle cx="169.96" cy="329.43" r="1.3"/><circle cx="171.1" cy="329.51" r="1.3"/><circle cx="172.25" cy="329.58" r="1.3"/><circle cx="173.39" cy="329.65" r="1.3"/><circle cx="174.53" cy="329.72" r="1.3"/><circle cx="175.68" cy="329.8" r="1.3"/><circle cx="176.82" cy="329.89" r="1.3"/><circle cx="177.96" cy="330" r="1.3"/><circle cx="179.1" cy="330.11" r="1.3"/><circle cx="180.25" cy="330.23" r="1.3"/><circle cx="181.39" cy="330.36" r="1.3"/><circle cx="182.53" cy="330.49" r="1.3"/><circle cx="183.68" cy="330.61" r="1.3"/><circle cx="184.82" cy="330.73" r="1.3"/><circle cx="185.96" cy="330.84" r="1.3"/><circle cx="187.11" cy="330.95" r="1.3"/><circle cx="188.25" cy="331.06" r="1.3"/><circle cx="189.39" cy="331.16" r="1.3"/><circle cx="190.53" cy="331.26" r="1.3"/><circle cx="191.68" cy="331.36" r="1.3"/><circle cx="192.82" cy="331.46" r="1.3"/><circle cx="193.96" cy="331.55" r="1.3"/></g>
<line x1="58" y1="174.6" x2="58" y2="337.4" stroke="#1450b4" stroke-width="1.6" stroke-dasharray="10.2 2.42" stroke-dashoffset="6.5"/>
<line x1="85.37" y1="174.6" x2="85.37" y2="337.4" stroke="#1450b4" stroke-width="1.6"/>
<line x1="112.75" y1="174.6" x2="112.75" y2="337.4" stroke="#1450b4" stroke-width="1.6" stroke-dasharray="10.2 2.42" stroke-dashoffset="6.5"/>
<line x1="140.12" y1="174.6" x2="140.12" y2="337.4" stroke="#1450b4" stroke-width="1.6"/>
<line x1="167.5" y1="174.6" x2="167.5" y2="337.4" stroke="#1450b4" stroke-width="1.6" stroke-dasharray="10.2 2.42" stroke-dashoffset="6.5"/>
</g>
<path d="M52.7 337.4v-2.2M52.7 174.6v2.2M75.55 337.4v-2.2M75.55 174.6v2.2M98.4 337.4v-2.2M98.4 174.6v2.2M121.25 337.4v-2.2M121.25 174.6v2.2M144.1 337.4v-2.2M144.1 174.6v2.2M166.95 337.4v-2.2M166.95 174.6v2.2M189.8 337.4v-2.2M189.8 174.6v2.2M31.5 207.16h2.2M194.8 207.16h-2.2M31.5 239.72h2.2M194.8 239.72h-2.2M31.5 272.28h2.2M194.8 272.28h-2.2M31.5 304.84h2.2M194.8 304.84h-2.2" stroke="#000" stroke-width="0.8" fill="none"/>
<rect x="31.5" y="174.6" width="163.3" height="162.8" fill="none" stroke="#000" stroke-width="1"/>
<rect x="205.6" y="174.6" width="163.3" height="162.8" fill="#e9e9b4"/>
<g clip-path="url(#ca2)">
<g filter="url(#hba2)">
<g fill="url(#u0_19)"><rect x="206.33" y="195.02" width="1.49" height="6.38"/><rect x="207.47" y="197.59" width="1.49" height="12.31"/><rect x="208.61" y="198.68" width="1.49" height="17.51"/><rect x="209.76" y="200.38" width="1.49" height="22.12"/><rect x="210.9" y="201.26" width="1.49" height="26.25"/><rect x="212.04" y="204.08" width="1.49" height="27.99"/><rect x="213.19" y="206.44" width="1.49" height="29.32"/><rect x="214.33" y="209.6" width="1.49" height="29.34"/><rect x="215.47" y="211.69" width="1.49" height="29.93"/><rect x="216.62" y="212.46" width="1.49" height="32.19"/><rect x="217.76" y="215.97" width="1.49" height="31.64"/><rect x="218.9" y="218.9" width="1.49" height="31.41"/><rect x="220.04" y="221.08" width="1.49" height="31.59"/><rect x="221.19" y="222.86" width="1.49" height="32"/><rect x="222.33" y="225.66" width="1.49" height="31.33"/><rect x="223.47" y="227.2" width="1.49" height="31.88"/><rect x="224.62" y="229.15" width="1.49" height="31.95"/><rect x="225.76" y="232.43" width="1.49" height="30.64"/><rect x="226.9" y="234.75" width="1.49" height="30.22"/><rect x="228.05" y="235.83" width="1.49" height="30.97"/><rect x="229.19" y="238.04" width="1.49" height="30.53"/><rect x="230.33" y="239.64" width="1.49" height="30.71"/><rect x="231.47" y="240.78" width="1.49" height="31.36"/><rect x="232.62" y="244.32" width="1.49" height="29.64"/><rect x="233.76" y="245.76" width="1.49" height="29.98"/><rect x="234.9" y="247.9" width="1.49" height="29.57"/><rect x="236.05" y="248.89" width="1.49" height="30.26"/><rect x="237.19" y="250.89" width="1.49" height="29.92"/><rect x="238.33" y="253.85" width="1.49" height="28.53"/><rect x="239.48" y="253.74" width="1.49" height="30.08"/><rect x="240.62" y="256.24" width="1.49" height="28.9"/><rect x="241.76" y="257.81" width="1.49" height="28.58"/><rect x="242.9" y="259.7" width="1.49" height="27.9"/><rect x="244.05" y="260.32" width="1.49" height="28.48"/><rect x="245.19" y="259.6" width="1.49" height="28.63"/></g>
<g fill="url(#u1_19)"><rect x="246.33" y="257.78" width="1.49" height="30.48"/><rect x="247.48" y="257.69" width="1.49" height="30.75"/><rect x="248.62" y="257.52" width="1.49" height="31.21"/><rect x="249.76" y="256.37" width="1.49" height="32.72"/><rect x="250.91" y="256.32" width="1.49" height="33.2"/><rect x="252.05" y="256.36" width="1.49" height="33.61"/><rect x="253.19" y="254.92" width="1.49" height="35.5"/><rect x="254.33" y="256.54" width="1.49" height="34.32"/><rect x="255.48" y="256.11" width="1.49" height="35.16"/><rect x="256.62" y="254.59" width="1.49" height="37.11"/><rect x="257.76" y="255.12" width="1.49" height="37.04"/><rect x="258.91" y="255.5" width="1.49" height="37.13"/><rect x="260.05" y="256.39" width="1.49" height="36.73"/><rect x="261.19" y="258.42" width="1.49" height="35.2"/><rect x="262.34" y="256.29" width="1.49" height="37.84"/><rect x="263.48" y="258.5" width="1.49" height="36.14"/><rect x="264.62" y="258.44" width="1.49" height="36.73"/><rect x="265.76" y="257.8" width="1.49" height="37.87"/><rect x="266.91" y="258.82" width="1.49" height="37.35"/><rect x="268.05" y="259.45" width="1.49" height="37.23"/><rect x="269.19" y="259.69" width="1.49" height="37.5"/><rect x="270.34" y="259.89" width="1.49" height="37.83"/><rect x="271.48" y="260.68" width="1.49" height="37.58"/><rect x="272.62" y="261.21" width="1.49" height="37.61"/><rect x="273.77" y="262.49" width="1.49" height="36.91"/><rect x="274.91" y="262.86" width="1.49" height="37.16"/><rect x="276.05" y="263.22" width="1.49" height="37.45"/><rect x="277.19" y="264.87" width="1.49" height="36.5"/><rect x="278.34" y="264.11" width="1.49" height="37.99"/><rect x="279.48" y="264.92" width="1.49" height="37.95"/><rect x="280.62" y="266.72" width="1.49" height="36.95"/><rect x="281.77" y="266.87" width="1.49" height="37.64"/><rect x="282.91" y="267.15" width="1.49" height="38.24"/><rect x="284.05" y="268.16" width="1.49" height="38.2"/><rect x="285.2" y="270.37" width="1.49" height="37.05"/><rect x="286.34" y="270.28" width="1.49" height="38.12"/><rect x="287.48" y="272.59" width="1.49" height="36.71"/><rect x="288.62" y="272.59" width="1.49" height="37.56"/><rect x="289.77" y="274.34" width="1.49" height="36.63"/><rect x="290.91" y="274.07" width="1.49" height="37.69"/><rect x="292.05" y="274.7" width="1.49" height="37.81"/><rect x="293.2" y="275.76" width="1.49" height="37.47"/><rect x="294.34" y="277.55" width="1.49" height="36.38"/><rect x="295.48" y="277.46" width="1.49" height="37.12"/><rect x="296.63" y="279" width="1.49" height="36.22"/><rect x="297.77" y="279.02" width="1.49" height="36.81"/><rect x="298.91" y="280.06" width="1.49" height="36.37"/><rect x="300.05" y="279.44" width="1.49" height="37.57"/><rect x="301.2" y="280.1" width="1.49" height="37.48"/><rect x="302.34" y="282.46" width="1.49" height="35.69"/><rect x="303.48" y="282.01" width="1.49" height="36.72"/><rect x="304.63" y="282.85" width="1.49" height="36.46"/><rect x="305.77" y="283.85" width="1.49" height="36.04"/><rect x="306.91" y="283.86" width="1.49" height="36.6"/><rect x="308.06" y="283.54" width="1.49" height="37.46"/><rect x="309.2" y="285.24" width="1.49" height="36.26"/><rect x="310.34" y="284.29" width="1.49" height="37.67"/><rect x="311.48" y="286.2" width="1.49" height="36.17"/><rect x="312.63" y="286.44" width="1.49" height="36.31"/><rect x="313.77" y="287.78" width="1.49" height="35.32"/><rect x="314.91" y="288.26" width="1.49" height="35.17"/><rect x="316.06" y="289.38" width="1.49" height="34.37"/><rect x="317.2" y="288.8" width="1.49" height="35.26"/><rect x="318.34" y="290.02" width="1.49" height="34.33"/><rect x="319.49" y="290.53" width="1.49" height="34.11"/><rect x="320.63" y="290.64" width="1.49" height="34.29"/><rect x="321.77" y="289.7" width="1.49" height="35.51"/><rect x="322.91" y="290.7" width="1.49" height="34.78"/><rect x="324.06" y="291.88" width="1.49" height="33.86"/><rect x="325.2" y="291.62" width="1.49" height="34.37"/><rect x="326.34" y="291.1" width="1.49" height="35.12"/><rect x="327.49" y="292.39" width="1.49" height="34.04"/><rect x="328.63" y="291.62" width="1.49" height="35"/><rect x="329.77" y="291.9" width="1.49" height="34.9"/><rect x="330.92" y="292.08" width="1.49" height="34.9"/><rect x="332.06" y="293.99" width="1.49" height="33.14"/><rect x="333.2" y="292.99" width="1.49" height="34.31"/><rect x="334.34" y="295.64" width="1.49" height="31.81"/><rect x="335.49" y="295.45" width="1.49" height="32.14"/><rect x="336.63" y="295.46" width="1.49" height="32.27"/><rect x="337.77" y="295.82" width="1.49" height="32.05"/><rect x="338.92" y="295.7" width="1.49" height="32.3"/><rect x="340.06" y="295.81" width="1.49" height="32.32"/><rect x="341.2" y="295.99" width="1.49" height="32.25"/><rect x="342.35" y="295.54" width="1.49" height="32.81"/><rect x="343.49" y="295.98" width="1.49" height="32.46"/><rect x="344.63" y="295.74" width="1.49" height="32.8"/></g>
<g fill="url(#u1_18)"><rect x="345.77" y="297.04" width="1.49" height="31.61"/><rect x="346.92" y="296.15" width="1.49" height="32.61"/><rect x="348.06" y="296.36" width="1.49" height="32.51"/><rect x="349.2" y="297.72" width="1.49" height="31.28"/><rect x="350.35" y="297.41" width="1.49" height="31.74"/><rect x="351.49" y="298.12" width="1.49" height="31.19"/><rect x="352.63" y="297.65" width="1.49" height="31.83"/><rect x="353.78" y="298.12" width="1.49" height="31.53"/><rect x="354.92" y="298.84" width="1.49" height="30.98"/><rect x="356.06" y="299.28" width="1.49" height="30.7"/><rect x="357.2" y="299.2" width="1.49" height="30.94"/><rect x="358.35" y="300" width="1.49" height="30.29"/><rect x="359.49" y="299.65" width="1.49" height="30.78"/><rect x="360.63" y="300.55" width="1.49" height="30.03"/></g>
<g fill="url(#u1_17)"><rect x="361.78" y="301.28" width="1.49" height="29.44"/><rect x="362.92" y="301.51" width="1.49" height="29.35"/><rect x="364.06" y="301.13" width="1.49" height="29.87"/><rect x="365.21" y="301.36" width="1.49" height="29.78"/><rect x="366.35" y="302.11" width="1.49" height="29.17"/><rect x="367.49" y="302.78" width="1.49" height="28.63"/></g>
<g fill="url(#d0_19)"><rect x="206.33" y="201.2" width="1.49" height="29.7"/><rect x="207.47" y="209.7" width="1.49" height="25.97"/><rect x="208.61" y="215.99" width="1.49" height="25.17"/><rect x="209.76" y="222.3" width="1.49" height="25.46"/><rect x="210.9" y="227.31" width="1.49" height="25.34"/><rect x="212.04" y="231.87" width="1.49" height="25.23"/><rect x="213.19" y="235.56" width="1.49" height="25.51"/><rect x="214.33" y="238.74" width="1.49" height="24.42"/><rect x="215.47" y="241.42" width="1.49" height="25.3"/><rect x="216.62" y="244.45" width="1.49" height="24.68"/><rect x="217.76" y="247.41" width="1.49" height="24.32"/><rect x="218.9" y="250.11" width="1.49" height="24.04"/><rect x="220.04" y="252.47" width="1.49" height="24.46"/><rect x="221.19" y="254.66" width="1.49" height="23.02"/><rect x="222.33" y="256.79" width="1.49" height="23.55"/><rect x="223.47" y="258.88" width="1.49" height="22.73"/><rect x="224.62" y="260.9" width="1.49" height="22.9"/><rect x="225.76" y="262.87" width="1.49" height="21.47"/><rect x="226.9" y="264.77" width="1.49" height="21.61"/><rect x="228.05" y="266.59" width="1.49" height="20.72"/><rect x="229.19" y="268.37" width="1.49" height="20.88"/><rect x="230.33" y="270.15" width="1.49" height="19.99"/><rect x="231.47" y="271.95" width="1.49" height="19.39"/><rect x="232.62" y="273.75" width="1.49" height="20.41"/><rect x="233.76" y="275.54" width="1.49" height="18.79"/><rect x="234.9" y="277.27" width="1.49" height="18.55"/><rect x="236.05" y="278.95" width="1.49" height="18.47"/><rect x="237.19" y="280.6" width="1.49" height="17.7"/><rect x="238.33" y="282.18" width="1.49" height="17.5"/><rect x="239.48" y="283.62" width="1.49" height="17.36"/><rect x="240.62" y="284.95" width="1.49" height="17.07"/><rect x="241.76" y="286.19" width="1.49" height="16.58"/><rect x="242.9" y="287.4" width="1.49" height="16.3"/><rect x="244.05" y="288.6" width="1.49" height="16.15"/><rect x="245.19" y="288.03" width="1.49" height="16.6"/></g>
<g fill="url(#d1_19)"><rect x="246.33" y="288.06" width="1.49" height="17.89"/><rect x="247.48" y="288.24" width="1.49" height="19.74"/><rect x="248.62" y="288.53" width="1.49" height="21.01"/><rect x="249.76" y="288.9" width="1.49" height="22.08"/><rect x="250.91" y="289.32" width="1.49" height="23.07"/><rect x="252.05" y="289.77" width="1.49" height="23.64"/><rect x="253.19" y="290.23" width="1.49" height="25.52"/><rect x="254.33" y="290.66" width="1.49" height="25.53"/><rect x="255.48" y="291.07" width="1.49" height="27.02"/><rect x="256.62" y="291.5" width="1.49" height="28.57"/><rect x="257.76" y="291.95" width="1.49" height="28.75"/><rect x="258.91" y="292.43" width="1.49" height="28.68"/><rect x="260.05" y="292.92" width="1.49" height="28.33"/><rect x="261.19" y="293.42" width="1.49" height="28.46"/><rect x="262.34" y="293.93" width="1.49" height="28.36"/><rect x="263.48" y="294.45" width="1.49" height="29.39"/><rect x="264.62" y="294.96" width="1.49" height="28.66"/><rect x="265.76" y="295.47" width="1.49" height="29.43"/><rect x="266.91" y="295.98" width="1.49" height="28.87"/><rect x="268.05" y="296.48" width="1.49" height="29.55"/><rect x="269.19" y="297" width="1.49" height="30.14"/><rect x="270.34" y="297.52" width="1.49" height="29.7"/><rect x="271.48" y="298.06" width="1.49" height="29.05"/><rect x="272.62" y="298.62" width="1.49" height="30.28"/><rect x="273.77" y="299.2" width="1.49" height="29.54"/><rect x="274.91" y="299.82" width="1.49" height="29.27"/><rect x="276.05" y="300.47" width="1.49" height="30.18"/><rect x="277.19" y="301.17" width="1.49" height="30.03"/><rect x="278.34" y="301.9" width="1.49" height="30.64"/><rect x="279.48" y="302.67" width="1.49" height="29.91"/><rect x="280.62" y="303.47" width="1.49" height="29.77"/><rect x="281.77" y="304.31" width="1.49" height="31.41"/><rect x="282.91" y="305.19" width="1.49" height="30.95"/><rect x="284.05" y="306.16" width="1.49" height="29.03"/><rect x="285.2" y="307.22" width="1.49" height="29.74"/><rect x="286.34" y="308.21" width="1.49" height="31.01"/><rect x="287.48" y="309.09" width="1.49" height="30.02"/><rect x="288.62" y="309.95" width="1.49" height="29.49"/><rect x="289.77" y="310.77" width="1.49" height="29.16"/><rect x="290.91" y="311.56" width="1.49" height="28.8"/><rect x="292.05" y="312.31" width="1.49" height="29.16"/><rect x="293.2" y="313.04" width="1.49" height="29.78"/><rect x="294.34" y="313.73" width="1.49" height="28.2"/><rect x="295.48" y="314.39" width="1.49" height="27.86"/><rect x="296.63" y="315.02" width="1.49" height="28.16"/><rect x="297.77" y="315.63" width="1.49" height="27.3"/><rect x="298.91" y="316.23" width="1.49" height="28.1"/><rect x="300.05" y="316.81" width="1.49" height="26.48"/><rect x="301.2" y="317.38" width="1.49" height="27.81"/><rect x="302.34" y="317.96" width="1.49" height="26.32"/><rect x="303.48" y="318.54" width="1.49" height="26.66"/><rect x="304.63" y="319.12" width="1.49" height="27.12"/><rect x="305.77" y="319.7" width="1.49" height="26.53"/><rect x="306.91" y="320.26" width="1.49" height="26.69"/><rect x="308.06" y="320.8" width="1.49" height="26.88"/><rect x="309.2" y="321.3" width="1.49" height="25.49"/><rect x="310.34" y="321.76" width="1.49" height="25.54"/><rect x="311.48" y="322.17" width="1.49" height="24.29"/><rect x="312.63" y="322.54" width="1.49" height="24.07"/><rect x="313.77" y="322.9" width="1.49" height="23.42"/><rect x="314.91" y="323.23" width="1.49" height="23.7"/><rect x="316.06" y="323.55" width="1.49" height="22.86"/><rect x="317.2" y="323.85" width="1.49" height="22.31"/><rect x="318.34" y="324.15" width="1.49" height="22.13"/><rect x="319.49" y="324.44" width="1.49" height="22.38"/><rect x="320.63" y="324.73" width="1.49" height="22.05"/><rect x="321.77" y="325.01" width="1.49" height="20.82"/><rect x="322.91" y="325.28" width="1.49" height="20.74"/><rect x="324.06" y="325.55" width="1.49" height="20.42"/><rect x="325.2" y="325.79" width="1.49" height="20.45"/><rect x="326.34" y="326.02" width="1.49" height="19.34"/><rect x="327.49" y="326.23" width="1.49" height="19.59"/><rect x="328.63" y="326.42" width="1.49" height="18.08"/><rect x="329.77" y="326.6" width="1.49" height="18.6"/><rect x="330.92" y="326.77" width="1.49" height="18.18"/><rect x="332.06" y="326.94" width="1.49" height="18.02"/><rect x="333.2" y="327.1" width="1.49" height="17.68"/><rect x="334.34" y="327.25" width="1.49" height="17.57"/><rect x="335.49" y="327.39" width="1.49" height="16.67"/><rect x="336.63" y="327.53" width="1.49" height="16.06"/><rect x="337.77" y="327.67" width="1.49" height="16.01"/><rect x="338.92" y="327.8" width="1.49" height="15.98"/><rect x="340.06" y="327.93" width="1.49" height="15.2"/><rect x="341.2" y="328.04" width="1.49" height="15.63"/><rect x="342.35" y="328.15" width="1.49" height="15.04"/><rect x="343.49" y="328.25" width="1.49" height="15.05"/><rect x="344.63" y="328.34" width="1.49" height="15.06"/></g>
<g fill="url(#d1_18)"><rect x="345.77" y="328.45" width="1.49" height="14.27"/><rect x="346.92" y="328.55" width="1.49" height="14.57"/><rect x="348.06" y="328.67" width="1.49" height="13.26"/><rect x="349.2" y="328.8" width="1.49" height="12.8"/><rect x="350.35" y="328.95" width="1.49" height="13.49"/><rect x="351.49" y="329.11" width="1.49" height="13.22"/><rect x="352.63" y="329.28" width="1.49" height="12.97"/><rect x="353.78" y="329.45" width="1.49" height="12.97"/><rect x="354.92" y="329.62" width="1.49" height="12.73"/><rect x="356.06" y="329.78" width="1.49" height="12.12"/><rect x="357.2" y="329.94" width="1.49" height="12.35"/><rect x="358.35" y="330.08" width="1.49" height="12.13"/><rect x="359.49" y="330.23" width="1.49" height="11.44"/><rect x="360.63" y="330.38" width="1.49" height="11.42"/></g>
<g fill="url(#d1_17)"><rect x="361.78" y="330.52" width="1.49" height="11.38"/><rect x="362.92" y="330.66" width="1.49" height="10.99"/><rect x="364.06" y="330.8" width="1.49" height="10.95"/><rect x="365.21" y="330.94" width="1.49" height="11.13"/><rect x="366.35" y="331.07" width="1.49" height="10.49"/><rect x="367.49" y="331.2" width="1.49" height="10.32"/></g>
</g>
<polyline points="206.9,201.2 208.04,209.7 209.19,215.99 210.33,222.3 211.47,227.31 212.61,231.87 213.76,235.56 214.9,238.74 216.04,241.42 217.19,244.45 218.33,247.41 219.47,250.11 220.62,252.47 221.76,254.66 222.9,256.79" fill="none" stroke="#412b2b" stroke-width="3.9" stroke-opacity="0.9" filter="url(#sba2)"/>
<g fill="#fff"><circle cx="206.9" cy="201.2" r="1.3"/><circle cx="208.04" cy="209.7" r="1.3"/><circle cx="209.19" cy="215.99" r="1.3"/><circle cx="210.33" cy="222.3" r="1.3"/><circle cx="211.47" cy="227.31" r="1.3"/><circle cx="212.61" cy="231.87" r="1.3"/><circle cx="213.76" cy="235.56" r="1.3"/><circle cx="214.9" cy="238.74" r="1.3"/><circle cx="216.04" cy="241.42" r="1.3"/><circle cx="217.19" cy="244.45" r="1.3"/><circle cx="218.33" cy="247.41" r="1.3"/><circle cx="219.47" cy="250.11" r="1.3"/><circle cx="220.62" cy="252.47" r="1.3"/><circle cx="221.76" cy="254.66" r="1.3"/><circle cx="222.9" cy="256.79" r="1.3"/><circle cx="224.04" cy="258.88" r="1.3"/><circle cx="225.19" cy="260.9" r="1.3"/><circle cx="226.33" cy="262.87" r="1.3"/><circle cx="227.47" cy="264.77" r="1.3"/><circle cx="228.62" cy="266.59" r="1.3"/><circle cx="229.76" cy="268.37" r="1.3"/><circle cx="230.9" cy="270.15" r="1.3"/><circle cx="232.05" cy="271.95" r="1.3"/><circle cx="233.19" cy="273.75" r="1.3"/><circle cx="234.33" cy="275.54" r="1.3"/><circle cx="235.47" cy="277.27" r="1.3"/><circle cx="236.62" cy="278.95" r="1.3"/><circle cx="237.76" cy="280.6" r="1.3"/><circle cx="238.9" cy="282.18" r="1.3"/><circle cx="240.05" cy="283.62" r="1.3"/><circle cx="241.19" cy="284.95" r="1.3"/><circle cx="242.33" cy="286.19" r="1.3"/><circle cx="243.48" cy="287.4" r="1.3"/><circle cx="244.62" cy="288.6" r="1.3"/><circle cx="245.76" cy="288.03" r="1.3"/><circle cx="246.91" cy="288.06" r="1.3"/><circle cx="248.05" cy="288.24" r="1.3"/><circle cx="249.19" cy="288.53" r="1.3"/><circle cx="250.33" cy="288.9" r="1.3"/><circle cx="251.48" cy="289.32" r="1.3"/><circle cx="252.62" cy="289.77" r="1.3"/><circle cx="253.76" cy="290.23" r="1.3"/><circle cx="254.91" cy="290.66" r="1.3"/><circle cx="256.05" cy="291.07" r="1.3"/><circle cx="257.19" cy="291.5" r="1.3"/><circle cx="258.33" cy="291.95" r="1.3"/><circle cx="259.48" cy="292.43" r="1.3"/><circle cx="260.62" cy="292.92" r="1.3"/><circle cx="261.76" cy="293.42" r="1.3"/><circle cx="262.91" cy="293.93" r="1.3"/><circle cx="264.05" cy="294.45" r="1.3"/><circle cx="265.19" cy="294.96" r="1.3"/><circle cx="266.34" cy="295.47" r="1.3"/><circle cx="267.48" cy="295.98" r="1.3"/><circle cx="268.62" cy="296.48" r="1.3"/><circle cx="269.76" cy="297" r="1.3"/><circle cx="270.91" cy="297.52" r="1.3"/><circle cx="272.05" cy="298.06" r="1.3"/><circle cx="273.19" cy="298.62" r="1.3"/><circle cx="274.34" cy="299.2" r="1.3"/><circle cx="275.48" cy="299.82" r="1.3"/><circle cx="276.62" cy="300.47" r="1.3"/><circle cx="277.77" cy="301.17" r="1.3"/><circle cx="278.91" cy="301.9" r="1.3"/><circle cx="280.05" cy="302.67" r="1.3"/><circle cx="281.19" cy="303.47" r="1.3"/><circle cx="282.34" cy="304.31" r="1.3"/><circle cx="283.48" cy="305.19" r="1.3"/><circle cx="284.62" cy="306.16" r="1.3"/><circle cx="285.77" cy="307.22" r="1.3"/><circle cx="286.91" cy="308.21" r="1.3"/><circle cx="288.05" cy="309.09" r="1.3"/><circle cx="289.2" cy="309.95" r="1.3"/><circle cx="290.34" cy="310.77" r="1.3"/><circle cx="291.48" cy="311.56" r="1.3"/><circle cx="292.62" cy="312.31" r="1.3"/><circle cx="293.77" cy="313.04" r="1.3"/><circle cx="294.91" cy="313.73" r="1.3"/><circle cx="296.05" cy="314.39" r="1.3"/><circle cx="297.2" cy="315.02" r="1.3"/><circle cx="298.34" cy="315.63" r="1.3"/><circle cx="299.48" cy="316.23" r="1.3"/><circle cx="300.63" cy="316.81" r="1.3"/><circle cx="301.77" cy="317.38" r="1.3"/><circle cx="302.91" cy="317.96" r="1.3"/><circle cx="304.06" cy="318.54" r="1.3"/><circle cx="305.2" cy="319.12" r="1.3"/><circle cx="306.34" cy="319.7" r="1.3"/><circle cx="307.48" cy="320.26" r="1.3"/><circle cx="308.63" cy="320.8" r="1.3"/><circle cx="309.77" cy="321.3" r="1.3"/><circle cx="310.91" cy="321.76" r="1.3"/><circle cx="312.06" cy="322.17" r="1.3"/><circle cx="313.2" cy="322.54" r="1.3"/><circle cx="314.34" cy="322.9" r="1.3"/><circle cx="315.49" cy="323.23" r="1.3"/><circle cx="316.63" cy="323.55" r="1.3"/><circle cx="317.77" cy="323.85" r="1.3"/><circle cx="318.91" cy="324.15" r="1.3"/><circle cx="320.06" cy="324.44" r="1.3"/><circle cx="321.2" cy="324.73" r="1.3"/><circle cx="322.34" cy="325.01" r="1.3"/><circle cx="323.49" cy="325.28" r="1.3"/><circle cx="324.63" cy="325.55" r="1.3"/><circle cx="325.77" cy="325.79" r="1.3"/><circle cx="326.91" cy="326.02" r="1.3"/><circle cx="328.06" cy="326.23" r="1.3"/><circle cx="329.2" cy="326.42" r="1.3"/><circle cx="330.34" cy="326.6" r="1.3"/><circle cx="331.49" cy="326.77" r="1.3"/><circle cx="332.63" cy="326.94" r="1.3"/><circle cx="333.77" cy="327.1" r="1.3"/><circle cx="334.92" cy="327.25" r="1.3"/><circle cx="336.06" cy="327.39" r="1.3"/><circle cx="337.2" cy="327.53" r="1.3"/><circle cx="338.35" cy="327.67" r="1.3"/><circle cx="339.49" cy="327.8" r="1.3"/><circle cx="340.63" cy="327.93" r="1.3"/><circle cx="341.77" cy="328.04" r="1.3"/><circle cx="342.92" cy="328.15" r="1.3"/><circle cx="344.06" cy="328.25" r="1.3"/><circle cx="345.2" cy="328.34" r="1.3"/><circle cx="346.35" cy="328.45" r="1.3"/><circle cx="347.49" cy="328.55" r="1.3"/><circle cx="348.63" cy="328.67" r="1.3"/><circle cx="349.77" cy="328.8" r="1.3"/><circle cx="350.92" cy="328.95" r="1.3"/><circle cx="352.06" cy="329.11" r="1.3"/><circle cx="353.2" cy="329.28" r="1.3"/><circle cx="354.35" cy="329.45" r="1.3"/><circle cx="355.49" cy="329.62" r="1.3"/><circle cx="356.63" cy="329.78" r="1.3"/><circle cx="357.78" cy="329.94" r="1.3"/><circle cx="358.92" cy="330.08" r="1.3"/><circle cx="360.06" cy="330.23" r="1.3"/><circle cx="361.21" cy="330.38" r="1.3"/><circle cx="362.35" cy="330.52" r="1.3"/><circle cx="363.49" cy="330.66" r="1.3"/><circle cx="364.63" cy="330.8" r="1.3"/><circle cx="365.78" cy="330.94" r="1.3"/><circle cx="366.92" cy="331.07" r="1.3"/><circle cx="368.06" cy="331.2" r="1.3"/></g>
<line x1="245.79" y1="174.6" x2="245.79" y2="337.4" stroke="#1e8228" stroke-width="1.6" stroke-dasharray="10.2 2.42" stroke-dashoffset="6.5"/>
<line x1="286.85" y1="174.6" x2="286.85" y2="337.4" stroke="#1e8228" stroke-width="1.6"/>
<line x1="327.91" y1="174.6" x2="327.91" y2="337.4" stroke="#1e8228" stroke-width="1.6" stroke-dasharray="10.2 2.42" stroke-dashoffset="6.5"/>
</g>
<path d="M226.5 337.4v-2.2M226.5 174.6v2.2M249.35 337.4v-2.2M249.35 174.6v2.2M272.2 337.4v-2.2M272.2 174.6v2.2M295.05 337.4v-2.2M295.05 174.6v2.2M317.9 337.4v-2.2M317.9 174.6v2.2M340.75 337.4v-2.2M340.75 174.6v2.2M363.6 337.4v-2.2M363.6 174.6v2.2M205.6 207.16h2.2M368.9 207.16h-2.2M205.6 239.72h2.2M368.9 239.72h-2.2M205.6 272.28h2.2M368.9 272.28h-2.2M205.6 304.84h2.2M368.9 304.84h-2.2" stroke="#000" stroke-width="0.8" fill="none"/>
<rect x="205.6" y="174.6" width="163.3" height="162.8" fill="none" stroke="#000" stroke-width="1"/>
<path d="M0.6 81.5l1.9 -1.1l2.7 7.4l4.7 -14.5h17.3" fill="none" stroke="#000" stroke-width="0.85" stroke-linejoin="miter"/>
<path d="M2.7 80.9l2.5 6.7" fill="none" stroke="#000" stroke-width="1.5"/>
<path d="M0.6 256.5l1.9 -1.1l2.7 7.4l4.7 -14.5h17.3" fill="none" stroke="#000" stroke-width="0.85" stroke-linejoin="miter"/>
<path d="M2.7 255.9l2.5 6.7" fill="none" stroke="#000" stroke-width="1.5"/>
<path d="M67.8 55l1.9 -1.1l2.7 7.4l4.7 -14.5h16" fill="none" stroke="#000" stroke-width="0.85" stroke-linejoin="miter"/>
<path d="M69.9 54.4l2.5 6.7" fill="none" stroke="#000" stroke-width="1.5"/>
<path d="M80.2 51.6l1.7 -1.6l1.7 1.6" fill="none" stroke="#000" stroke-width="0.75"/>
<path d="M76.2 65.9L60.2 88.4" stroke="#000" stroke-width="1.1" fill="none"/>
<path d="M58.2 91.2l1.1 -5.9l3.9 2.8z" fill="#000"/>
<rect x="172.7" y="9.3" width="10.2" height="99.1" fill="url(#cb)" stroke="#000" stroke-width="0.7"/>
<path d="M172.7 19.21h1.2M182.9 19.21h-1.2M172.7 29.12h1.2M182.9 29.12h-1.2M172.7 39.03h1.2M182.9 39.03h-1.2M172.7 48.94h1.2M182.9 48.94h-1.2M172.7 58.85h1.2M182.9 58.85h-1.2M172.7 68.76h1.2M182.9 68.76h-1.2M172.7 78.67h1.2M182.9 78.67h-1.2M172.7 88.58h1.2M182.9 88.58h-1.2M172.7 98.49h1.2M182.9 98.49h-1.2" stroke="#000" stroke-width="0.5" fill="none"/>
<circle cx="354.5" cy="14.1" r="3.7" fill="#ffa6b0" stroke="#be0f1e" stroke-width="1.7"/>
<path d="M181.6 183.8l3.8 5l-3.8 5l-3.8 -5z" fill="#aacbff" stroke="#0f4bb9" stroke-width="1.7"/>
<rect x="352.7" y="185.7" width="6" height="6" fill="#a0f5a5" stroke="#14642a" stroke-width="1.5"/>
<line x1="504.9" y1="37" x2="504.9" y2="322.6" stroke="#d4dff4" stroke-width="1.45" stroke-dasharray="11.5 3"/>
<line x1="552.9" y1="37" x2="552.9" y2="322.6" stroke="#d4dff4" stroke-width="1.45"/>
<line x1="600.9" y1="37" x2="600.9" y2="322.6" stroke="#d4dff4" stroke-width="1.45" stroke-dasharray="11.5 3"/>
<line x1="648.9" y1="37" x2="648.9" y2="322.6" stroke="#d4dff4" stroke-width="1.45"/>
<line x1="696.9" y1="37" x2="696.9" y2="322.6" stroke="#d4dff4" stroke-width="1.45" stroke-dasharray="11.5 3"/>
<g clip-path="url(#cb_)">
<polyline points="456.91,289.27 458.92,288.99 460.93,291.16 462.94,290.51 464.94,288.33 466.95,289.91 468.96,288.4 470.97,290.71 472.98,287.53 474.99,287.83 477,288.39 479.01,289.85 481.02,288.87 483.03,288.31 485.03,288.01 487.04,288.38 489.05,288.43 491.06,287.81 493.07,286.17 495.08,290.44 497.09,289.72 499.1,290.04 501.11,289.03 503.12,290.48 505.12,287.64 507.13,288.54 509.14,289.31 511.15,290.18 513.16,289.43 515.17,289.72 517.18,290.01 519.19,291.84 521.2,290.56 523.21,293.75 525.21,290.75 527.22,296.58 529.23,293.67 531.24,294.74 533.25,292.46 535.26,294.2 537.27,288.79 539.28,291.93 541.29,286.63 543.3,287.93 545.3,289.59 547.31,290.75 549.32,292.83 551.33,294.92 553.34,294.2 555.35,293.47 557.36,294.2 559.37,294.92 561.38,292.99 563.39,291.07 565.39,289.15 567.4,297 569.41,295.56 571.42,294.52 573.43,293.47 575.44,294.2 577.45,294.92 579.46,296.28 581.47,297.64 583.48,295.24 585.48,292.83 587.49,291.39 589.5,289.95 591.51,294.28 593.52,286.42 595.53,290.75 597.54,292.83 599.55,281.46 601.56,273.44 603.57,284.98 605.57,281.13 607.58,278.57 609.59,270.72 611.6,265.75 613.61,266.71 615.62,264.31 617.63,260.3 619.64,255.5 621.65,246.84 623.66,243.72 625.66,239.86 627.67,238.33 629.68,237.53 631.69,229.77 633.7,229.56 635.71,230.33 637.72,225.68 639.73,226.6 641.74,221.61 643.75,218.34 645.75,214.98 647.76,203.38 649.77,204.72 651.78,202.37 653.79,203.31 655.8,202.85 657.81,203.35 659.82,210.48 661.83,215.54 663.84,202.76 665.85,195.59 667.85,192.96 669.86,191.99 671.87,191.29 673.88,214.04 675.89,197.7 677.9,198.83 679.91,198.53 681.92,197 683.93,191.47 685.93,188.43 687.94,181.13 689.95,182.8 691.96,190.73 693.97,192.9 695.98,186.1 697.99,186.86 700,191.38 702.01,186.26 704.02,182.96 706.02,183.14 708.03,184.48 710.04,180.79 712.05,178.8 714.06,176.43 716.07,172.44 718.08,147.17 720.09,178.57 722.1,158.54 724.11,135.79 726.12,165.75 728.12,154.22 730.13,129.86 732.14,105.02 734.15,129.86 736.16,130.5 738.17,109.99 740.18,94.12 742.19,55.18 744.2,85.63" fill="none" stroke="#be1622" stroke-width="1.2"/>
<g fill="#ffb0b7" stroke="#be1622" stroke-width="1.3"><circle cx="456.91" cy="289.27" r="3.1"/><circle cx="458.92" cy="288.99" r="3.1"/><circle cx="460.93" cy="291.16" r="3.1"/><circle cx="462.94" cy="290.51" r="3.1"/><circle cx="464.94" cy="288.33" r="3.1"/><circle cx="466.95" cy="289.91" r="3.1"/><circle cx="468.96" cy="288.4" r="3.1"/><circle cx="470.97" cy="290.71" r="3.1"/><circle cx="472.98" cy="287.53" r="3.1"/><circle cx="474.99" cy="287.83" r="3.1"/><circle cx="477" cy="288.39" r="3.1"/><circle cx="479.01" cy="289.85" r="3.1"/><circle cx="481.02" cy="288.87" r="3.1"/><circle cx="483.03" cy="288.31" r="3.1"/><circle cx="485.03" cy="288.01" r="3.1"/><circle cx="487.04" cy="288.38" r="3.1"/><circle cx="489.05" cy="288.43" r="3.1"/><circle cx="491.06" cy="287.81" r="3.1"/><circle cx="493.07" cy="286.17" r="3.1"/><circle cx="495.08" cy="290.44" r="3.1"/><circle cx="497.09" cy="289.72" r="3.1"/><circle cx="499.1" cy="290.04" r="3.1"/><circle cx="501.11" cy="289.03" r="3.1"/><circle cx="503.12" cy="290.48" r="3.1"/><circle cx="505.12" cy="287.64" r="3.1"/><circle cx="507.13" cy="288.54" r="3.1"/><circle cx="509.14" cy="289.31" r="3.1"/><circle cx="511.15" cy="290.18" r="3.1"/><circle cx="513.16" cy="289.43" r="3.1"/><circle cx="515.17" cy="289.72" r="3.1"/><circle cx="517.18" cy="290.01" r="3.1"/><circle cx="519.19" cy="291.84" r="3.1"/><circle cx="521.2" cy="290.56" r="3.1"/><circle cx="523.21" cy="293.75" r="3.1"/><circle cx="525.21" cy="290.75" r="3.1"/><circle cx="527.22" cy="296.58" r="3.1"/><circle cx="529.23" cy="293.67" r="3.1"/><circle cx="531.24" cy="294.74" r="3.1"/><circle cx="533.25" cy="292.46" r="3.1"/><circle cx="535.26" cy="294.2" r="3.1"/><circle cx="537.27" cy="288.79" r="3.1"/><circle cx="539.28" cy="291.93" r="3.1"/><circle cx="541.29" cy="286.63" r="3.1"/><circle cx="543.3" cy="287.93" r="3.1"/><circle cx="545.3" cy="289.59" r="3.1"/><circle cx="547.31" cy="290.75" r="3.1"/><circle cx="549.32" cy="292.83" r="3.1"/><circle cx="551.33" cy="294.92" r="3.1"/><circle cx="553.34" cy="294.2" r="3.1"/><circle cx="555.35" cy="293.47" r="3.1"/><circle cx="557.36" cy="294.2" r="3.1"/><circle cx="559.37" cy="294.92" r="3.1"/><circle cx="561.38" cy="292.99" r="3.1"/><circle cx="563.39" cy="291.07" r="3.1"/><circle cx="565.39" cy="289.15" r="3.1"/><circle cx="567.4" cy="297" r="3.1"/><circle cx="569.41" cy="295.56" r="3.1"/><circle cx="571.42" cy="294.52" r="3.1"/><circle cx="573.43" cy="293.47" r="3.1"/><circle cx="575.44" cy="294.2" r="3.1"/><circle cx="577.45" cy="294.92" r="3.1"/><circle cx="579.46" cy="296.28" r="3.1"/><circle cx="581.47" cy="297.64" r="3.1"/><circle cx="583.48" cy="295.24" r="3.1"/><circle cx="585.48" cy="292.83" r="3.1"/><circle cx="587.49" cy="291.39" r="3.1"/><circle cx="589.5" cy="289.95" r="3.1"/><circle cx="591.51" cy="294.28" r="3.1"/><circle cx="593.52" cy="286.42" r="3.1"/><circle cx="595.53" cy="290.75" r="3.1"/><circle cx="597.54" cy="292.83" r="3.1"/><circle cx="599.55" cy="281.46" r="3.1"/><circle cx="601.56" cy="273.44" r="3.1"/><circle cx="603.57" cy="284.98" r="3.1"/><circle cx="605.57" cy="281.13" r="3.1"/><circle cx="607.58" cy="278.57" r="3.1"/><circle cx="609.59" cy="270.72" r="3.1"/><circle cx="611.6" cy="265.75" r="3.1"/><circle cx="613.61" cy="266.71" r="3.1"/><circle cx="615.62" cy="264.31" r="3.1"/><circle cx="617.63" cy="260.3" r="3.1"/><circle cx="619.64" cy="255.5" r="3.1"/><circle cx="621.65" cy="246.84" r="3.1"/><circle cx="623.66" cy="243.72" r="3.1"/><circle cx="625.66" cy="239.86" r="3.1"/><circle cx="627.67" cy="238.33" r="3.1"/><circle cx="629.68" cy="237.53" r="3.1"/><circle cx="631.69" cy="229.77" r="3.1"/><circle cx="633.7" cy="229.56" r="3.1"/><circle cx="635.71" cy="230.33" r="3.1"/><circle cx="637.72" cy="225.68" r="3.1"/><circle cx="639.73" cy="226.6" r="3.1"/><circle cx="641.74" cy="221.61" r="3.1"/><circle cx="643.75" cy="218.34" r="3.1"/><circle cx="645.75" cy="214.98" r="3.1"/><circle cx="647.76" cy="203.38" r="3.1"/><circle cx="649.77" cy="204.72" r="3.1"/><circle cx="651.78" cy="202.37" r="3.1"/><circle cx="653.79" cy="203.31" r="3.1"/><circle cx="655.8" cy="202.85" r="3.1"/><circle cx="657.81" cy="203.35" r="3.1"/><circle cx="659.82" cy="210.48" r="3.1"/><circle cx="661.83" cy="215.54" r="3.1"/><circle cx="663.84" cy="202.76" r="3.1"/><circle cx="665.85" cy="195.59" r="3.1"/><circle cx="667.85" cy="192.96" r="3.1"/><circle cx="669.86" cy="191.99" r="3.1"/><circle cx="671.87" cy="191.29" r="3.1"/><circle cx="673.88" cy="214.04" r="3.1"/><circle cx="675.89" cy="197.7" r="3.1"/><circle cx="677.9" cy="198.83" r="3.1"/><circle cx="679.91" cy="198.53" r="3.1"/><circle cx="681.92" cy="197" r="3.1"/><circle cx="683.93" cy="191.47" r="3.1"/><circle cx="685.93" cy="188.43" r="3.1"/><circle cx="687.94" cy="181.13" r="3.1"/><circle cx="689.95" cy="182.8" r="3.1"/><circle cx="691.96" cy="190.73" r="3.1"/><circle cx="693.97" cy="192.9" r="3.1"/><circle cx="695.98" cy="186.1" r="3.1"/><circle cx="697.99" cy="186.86" r="3.1"/><circle cx="700" cy="191.38" r="3.1"/><circle cx="702.01" cy="186.26" r="3.1"/><circle cx="704.02" cy="182.96" r="3.1"/><circle cx="706.02" cy="183.14" r="3.1"/><circle cx="708.03" cy="184.48" r="3.1"/><circle cx="710.04" cy="180.79" r="3.1"/><circle cx="712.05" cy="178.8" r="3.1"/><circle cx="714.06" cy="176.43" r="3.1"/><circle cx="716.07" cy="172.44" r="3.1"/><circle cx="718.08" cy="147.17" r="3.1"/><circle cx="720.09" cy="178.57" r="3.1"/><circle cx="722.1" cy="158.54" r="3.1"/><circle cx="724.11" cy="135.79" r="3.1"/><circle cx="726.12" cy="165.75" r="3.1"/><circle cx="728.12" cy="154.22" r="3.1"/><circle cx="730.13" cy="129.86" r="3.1"/><circle cx="732.14" cy="105.02" r="3.1"/><circle cx="734.15" cy="129.86" r="3.1"/><circle cx="736.16" cy="130.5" r="3.1"/><circle cx="738.17" cy="109.99" r="3.1"/><circle cx="740.18" cy="94.12" r="3.1"/><circle cx="742.19" cy="55.18" r="3.1"/><circle cx="744.2" cy="85.63" r="3.1"/></g>
<polyline points="456.91,289.49 458.92,289.69 460.93,289.44 462.94,291.83 464.94,289.35 466.95,292.08 468.96,291.13 470.97,288.09 472.98,290.83 474.99,293.61 477,289.08 479.01,290.11 481.02,290.02 483.03,291.84 485.03,291.74 487.04,292.92 489.05,293.91 491.06,290.14 493.07,293.64 495.08,294 497.09,294.26 499.1,290.51 501.11,292.57 503.12,295.08 505.12,294.84 507.13,294.02 509.14,293.53 511.15,298.08 513.16,293.16 515.17,294.66 517.18,295.7 519.19,295.39 521.2,293.52 523.21,291.5 525.21,294.01 527.22,292.97 529.23,282.82 531.24,284.67 533.25,280.08 535.26,279.84 537.27,275.38 539.28,270.51 541.29,269.77 543.3,264.79 545.3,260.33 547.31,260.87 549.32,256 551.33,253.02 553.34,247.14 555.35,248.16 557.36,241.25 559.37,237.48 561.38,233.13 563.39,229.17 565.39,226.21 567.4,222.82 569.41,220.87 571.42,218.12 573.43,213.52 575.44,208.67 577.45,203.02 579.46,204.9 581.47,199.82 583.48,198.7 585.48,196.6 587.49,191.91 589.5,194.47 591.51,191.7 593.52,193.08 595.53,196.58 597.54,201.79 599.55,199.96 601.56,206.34 603.57,208.89 605.57,209.74 607.58,212.53 609.59,211.49 611.6,214.27 613.61,213.94 615.62,212.93 617.63,213.66 619.64,211.72 621.65,214.27 623.66,213.38 625.66,212.63 627.67,211.31 629.68,215.75 631.69,218.76 633.7,215.31 635.71,207.9 637.72,228.76 639.73,221.58 641.74,219.78 643.75,219.81 645.75,227.3 647.76,220.74 649.77,223.72 651.78,230.5 653.79,230.78 655.8,235.23 657.81,241.81 659.82,238.77 661.83,239.39 663.84,240.77 665.85,236.24 667.85,236.47 669.86,233.26 671.87,227.76 673.88,234 675.89,227.08 677.9,224.67 679.91,221.73 681.92,215.49 683.93,217.83 685.93,210.69 687.94,214.69 689.95,219.89 691.96,222.15 693.97,220.25 695.98,218.75 697.99,219.95 700,217.25 702.01,216.09 704.02,221.68 706.02,191.74 708.03,204.18 710.04,204.43 712.05,202.93 714.06,199.38 716.07,198.03 718.08,195.98 720.09,196.15 722.1,191.54 724.11,194.01 726.12,196.95 728.12,196.67 730.13,182.83 732.14,200.96 734.15,165.45 736.16,170.42 738.17,178.57 740.18,186.59 742.19,131.46 744.2,188.35" fill="none" stroke="#14642a" stroke-width="1.2"/>
<g fill="#a0f5a5" stroke="#14642a" stroke-width="1.3"><rect x="454.16" y="286.74" width="5.5" height="5.5"/><rect x="456.17" y="286.94" width="5.5" height="5.5"/><rect x="458.18" y="286.69" width="5.5" height="5.5"/><rect x="460.19" y="289.08" width="5.5" height="5.5"/><rect x="462.19" y="286.6" width="5.5" height="5.5"/><rect x="464.2" y="289.33" width="5.5" height="5.5"/><rect x="466.21" y="288.38" width="5.5" height="5.5"/><rect x="468.22" y="285.34" width="5.5" height="5.5"/><rect x="470.23" y="288.08" width="5.5" height="5.5"/><rect x="472.24" y="290.86" width="5.5" height="5.5"/><rect x="474.25" y="286.33" width="5.5" height="5.5"/><rect x="476.26" y="287.36" width="5.5" height="5.5"/><rect x="478.27" y="287.27" width="5.5" height="5.5"/><rect x="480.28" y="289.09" width="5.5" height="5.5"/><rect x="482.28" y="288.99" width="5.5" height="5.5"/><rect x="484.29" y="290.17" width="5.5" height="5.5"/><rect x="486.3" y="291.16" width="5.5" height="5.5"/><rect x="488.31" y="287.39" width="5.5" height="5.5"/><rect x="490.32" y="290.89" width="5.5" height="5.5"/><rect x="492.33" y="291.25" width="5.5" height="5.5"/><rect x="494.34" y="291.51" width="5.5" height="5.5"/><rect x="496.35" y="287.76" width="5.5" height="5.5"/><rect x="498.36" y="289.82" width="5.5" height="5.5"/><rect x="500.37" y="292.33" width="5.5" height="5.5"/><rect x="502.38" y="292.09" width="5.5" height="5.5"/><rect x="504.38" y="291.27" width="5.5" height="5.5"/><rect x="506.39" y="290.78" width="5.5" height="5.5"/><rect x="508.4" y="295.33" width="5.5" height="5.5"/><rect x="510.41" y="290.41" width="5.5" height="5.5"/><rect x="512.42" y="291.91" width="5.5" height="5.5"/><rect x="514.43" y="292.95" width="5.5" height="5.5"/><rect x="516.44" y="292.64" width="5.5" height="5.5"/><rect x="518.45" y="290.77" width="5.5" height="5.5"/><rect x="520.46" y="288.75" width="5.5" height="5.5"/><rect x="522.46" y="291.26" width="5.5" height="5.5"/><rect x="524.47" y="290.22" width="5.5" height="5.5"/><rect x="526.48" y="280.07" width="5.5" height="5.5"/><rect x="528.49" y="281.92" width="5.5" height="5.5"/><rect x="530.5" y="277.33" width="5.5" height="5.5"/><rect x="532.51" y="277.09" width="5.5" height="5.5"/><rect x="534.52" y="272.63" width="5.5" height="5.5"/><rect x="536.53" y="267.76" width="5.5" height="5.5"/><rect x="538.54" y="267.02" width="5.5" height="5.5"/><rect x="540.55" y="262.04" width="5.5" height="5.5"/><rect x="542.55" y="257.58" width="5.5" height="5.5"/><rect x="544.56" y="258.12" width="5.5" height="5.5"/><rect x="546.57" y="253.25" width="5.5" height="5.5"/><rect x="548.58" y="250.27" width="5.5" height="5.5"/><rect x="550.59" y="244.39" width="5.5" height="5.5"/><rect x="552.6" y="245.41" width="5.5" height="5.5"/><rect x="554.61" y="238.5" width="5.5" height="5.5"/><rect x="556.62" y="234.73" width="5.5" height="5.5"/><rect x="558.63" y="230.38" width="5.5" height="5.5"/><rect x="560.64" y="226.42" width="5.5" height="5.5"/><rect x="562.64" y="223.46" width="5.5" height="5.5"/><rect x="564.65" y="220.07" width="5.5" height="5.5"/><rect x="566.66" y="218.12" width="5.5" height="5.5"/><rect x="568.67" y="215.37" width="5.5" height="5.5"/><rect x="570.68" y="210.77" width="5.5" height="5.5"/><rect x="572.69" y="205.92" width="5.5" height="5.5"/><rect x="574.7" y="200.27" width="5.5" height="5.5"/><rect x="576.71" y="202.15" width="5.5" height="5.5"/><rect x="578.72" y="197.07" width="5.5" height="5.5"/><rect x="580.73" y="195.95" width="5.5" height="5.5"/><rect x="582.73" y="193.85" width="5.5" height="5.5"/><rect x="584.74" y="189.16" width="5.5" height="5.5"/><rect x="586.75" y="191.72" width="5.5" height="5.5"/><rect x="588.76" y="188.95" width="5.5" height="5.5"/><rect x="590.77" y="190.33" width="5.5" height="5.5"/><rect x="592.78" y="193.83" width="5.5" height="5.5"/><rect x="594.79" y="199.04" width="5.5" height="5.5"/><rect x="596.8" y="197.21" width="5.5" height="5.5"/><rect x="598.81" y="203.59" width="5.5" height="5.5"/><rect x="600.82" y="206.14" width="5.5" height="5.5"/><rect x="602.82" y="206.99" width="5.5" height="5.5"/><rect x="604.83" y="209.78" width="5.5" height="5.5"/><rect x="606.84" y="208.74" width="5.5" height="5.5"/><rect x="608.85" y="211.52" width="5.5" height="5.5"/><rect x="610.86" y="211.19" width="5.5" height="5.5"/><rect x="612.87" y="210.18" width="5.5" height="5.5"/><rect x="614.88" y="210.91" width="5.5" height="5.5"/><rect x="616.89" y="208.97" width="5.5" height="5.5"/><rect x="618.9" y="211.52" width="5.5" height="5.5"/><rect x="620.91" y="210.63" width="5.5" height="5.5"/><rect x="622.91" y="209.88" width="5.5" height="5.5"/><rect x="624.92" y="208.56" width="5.5" height="5.5"/><rect x="626.93" y="213" width="5.5" height="5.5"/><rect x="628.94" y="216.01" width="5.5" height="5.5"/><rect x="630.95" y="212.56" width="5.5" height="5.5"/><rect x="632.96" y="205.15" width="5.5" height="5.5"/><rect x="634.97" y="226.01" width="5.5" height="5.5"/><rect x="636.98" y="218.83" width="5.5" height="5.5"/><rect x="638.99" y="217.03" width="5.5" height="5.5"/><rect x="641" y="217.06" width="5.5" height="5.5"/><rect x="643" y="224.55" width="5.5" height="5.5"/><rect x="645.01" y="217.99" width="5.5" height="5.5"/><rect x="647.02" y="220.97" width="5.5" height="5.5"/><rect x="649.03" y="227.75" width="5.5" height="5.5"/><rect x="651.04" y="228.03" width="5.5" height="5.5"/><rect x="653.05" y="232.48" width="5.5" height="5.5"/><rect x="655.06" y="239.06" width="5.5" height="5.5"/><rect x="657.07" y="236.02" width="5.5" height="5.5"/><rect x="659.08" y="236.64" width="5.5" height="5.5"/><rect x="661.09" y="238.02" width="5.5" height="5.5"/><rect x="663.1" y="233.49" width="5.5" height="5.5"/><rect x="665.1" y="233.72" width="5.5" height="5.5"/><rect x="667.11" y="230.51" width="5.5" height="5.5"/><rect x="669.12" y="225.01" width="5.5" height="5.5"/><rect x="671.13" y="231.25" width="5.5" height="5.5"/><rect x="673.14" y="224.33" width="5.5" height="5.5"/><rect x="675.15" y="221.92" width="5.5" height="5.5"/><rect x="677.16" y="218.98" width="5.5" height="5.5"/><rect x="679.17" y="212.74" width="5.5" height="5.5"/><rect x="681.18" y="215.08" width="5.5" height="5.5"/><rect x="683.18" y="207.94" width="5.5" height="5.5"/><rect x="685.19" y="211.94" width="5.5" height="5.5"/><rect x="687.2" y="217.14" width="5.5" height="5.5"/><rect x="689.21" y="219.4" width="5.5" height="5.5"/><rect x="691.22" y="217.5" width="5.5" height="5.5"/><rect x="693.23" y="216" width="5.5" height="5.5"/><rect x="695.24" y="217.2" width="5.5" height="5.5"/><rect x="697.25" y="214.5" width="5.5" height="5.5"/><rect x="699.26" y="213.34" width="5.5" height="5.5"/><rect x="701.27" y="218.93" width="5.5" height="5.5"/><rect x="703.27" y="188.99" width="5.5" height="5.5"/><rect x="705.28" y="201.43" width="5.5" height="5.5"/><rect x="707.29" y="201.68" width="5.5" height="5.5"/><rect x="709.3" y="200.18" width="5.5" height="5.5"/><rect x="711.31" y="196.63" width="5.5" height="5.5"/><rect x="713.32" y="195.28" width="5.5" height="5.5"/><rect x="715.33" y="193.23" width="5.5" height="5.5"/><rect x="717.34" y="193.4" width="5.5" height="5.5"/><rect x="719.35" y="188.79" width="5.5" height="5.5"/><rect x="721.36" y="191.26" width="5.5" height="5.5"/><rect x="723.37" y="194.2" width="5.5" height="5.5"/><rect x="725.37" y="193.92" width="5.5" height="5.5"/><rect x="727.38" y="180.08" width="5.5" height="5.5"/><rect x="729.39" y="198.21" width="5.5" height="5.5"/><rect x="731.4" y="162.7" width="5.5" height="5.5"/><rect x="733.41" y="167.67" width="5.5" height="5.5"/><rect x="735.42" y="175.82" width="5.5" height="5.5"/><rect x="737.43" y="183.84" width="5.5" height="5.5"/><rect x="739.44" y="128.71" width="5.5" height="5.5"/><rect x="741.45" y="185.6" width="5.5" height="5.5"/></g>
<polyline points="456.91,289.34 458.92,290.34 460.93,291.07 462.94,289.99 464.94,291.12 466.95,290.69 468.96,290.68 470.97,291.73 472.98,291.51 474.99,291.85 477,293.06 479.01,292.38 481.02,293.13 483.03,294.59 485.03,293.48 487.04,293.75 489.05,294.38 491.06,296.1 493.07,293.69 495.08,294.1 497.09,294.29 499.1,294.76 501.11,296.45 503.12,293.15 505.12,287.41 507.13,285.38 509.14,278.68 511.15,278.78 513.16,274.51 515.17,274.06 517.18,271.64 519.19,268.92 521.2,264.96 523.21,262.57 525.21,260.3 527.22,260.14 529.23,254.23 531.24,254.13 533.25,248.88 535.26,246.19 537.27,244.95 539.28,242.37 541.29,241.69 543.3,234.17 545.3,234.34 547.31,242.67 549.32,247.48 551.33,242.67 553.34,263.51 555.35,241.87 557.36,255.5 559.37,256.3 561.38,250.21 563.39,245.08 565.39,244.28 567.4,256.14 569.41,251.87 571.42,247.16 573.43,252.34 575.44,252.42 577.45,255.37 579.46,251.15 581.47,253.86 583.48,251.8 585.48,248.8 587.49,248.16 589.5,245.41 591.51,242.6 593.52,235.92 595.53,243.79 597.54,235.58 599.55,235.23 601.56,224.33 603.57,221.05 605.57,218.95 607.58,211.25 609.59,205.66 611.6,201.37 613.61,203.07 615.62,204.49 617.63,194.46 619.64,192.41 621.65,192.37 623.66,189.31 625.66,181.8 627.67,206.49 629.68,191.14 631.69,184.8 633.7,186.67 635.71,192.29 637.72,191.18 639.73,191.47 641.74,197.48 643.75,201.91 645.75,203.03 647.76,181.72 649.77,207.26 651.78,218.05 653.79,212.07 655.8,215.25 657.81,222.25 659.82,224.08 661.83,228.93 663.84,224.55 665.85,221.14 667.85,219.6 669.86,232.73 671.87,224.8 673.88,238.23 675.89,238.24 677.9,239.15 679.91,233.76 681.92,237.93 683.93,239.37 685.93,235.45 687.94,232.03 689.95,239.89 691.96,247.6 693.97,237.25 695.98,230.7 697.99,237.8 700,241.32 702.01,236.78 704.02,232.7 706.02,233.18 708.03,232.58 710.04,228.53 712.05,225.36 714.06,226.1 716.07,218.75 718.08,216.9 720.09,216.05 722.1,212.17 724.11,211.22 726.12,203.8 728.12,211.7 730.13,201.02 732.14,194.03 734.15,209.65 736.16,202.61 738.17,199.73 740.18,181.3 742.19,149.41 744.2,201.17" fill="none" stroke="#0f46b4" stroke-width="1.2"/>
<g fill="#aac8ff" stroke="#0f46b4" stroke-width="1.3"><path d="M456.91 284.94l3.3 4.4l-3.3 4.4l-3.3 -4.4z"/><path d="M458.92 285.94l3.3 4.4l-3.3 4.4l-3.3 -4.4z"/><path d="M460.93 286.67l3.3 4.4l-3.3 4.4l-3.3 -4.4z"/><path d="M462.94 285.59l3.3 4.4l-3.3 4.4l-3.3 -4.4z"/><path d="M464.94 286.72l3.3 4.4l-3.3 4.4l-3.3 -4.4z"/><path d="M466.95 286.29l3.3 4.4l-3.3 4.4l-3.3 -4.4z"/><path d="M468.96 286.28l3.3 4.4l-3.3 4.4l-3.3 -4.4z"/><path d="M470.97 287.33l3.3 4.4l-3.3 4.4l-3.3 -4.4z"/><path d="M472.98 287.11l3.3 4.4l-3.3 4.4l-3.3 -4.4z"/><path d="M474.99 287.45l3.3 4.4l-3.3 4.4l-3.3 -4.4z"/><path d="M477 288.66l3.3 4.4l-3.3 4.4l-3.3 -4.4z"/><path d="M479.01 287.98l3.3 4.4l-3.3 4.4l-3.3 -4.4z"/><path d="M481.02 288.73l3.3 4.4l-3.3 4.4l-3.3 -4.4z"/><path d="M483.03 290.19l3.3 4.4l-3.3 4.4l-3.3 -4.4z"/><path d="M485.03 289.08l3.3 4.4l-3.3 4.4l-3.3 -4.4z"/><path d="M487.04 289.35l3.3 4.4l-3.3 4.4l-3.3 -4.4z"/><path d="M489.05 289.98l3.3 4.4l-3.3 4.4l-3.3 -4.4z"/><path d="M491.06 291.7l3.3 4.4l-3.3 4.4l-3.3 -4.4z"/><path d="M493.07 289.29l3.3 4.4l-3.3 4.4l-3.3 -4.4z"/><path d="M495.08 289.7l3.3 4.4l-3.3 4.4l-3.3 -4.4z"/><path d="M497.09 289.89l3.3 4.4l-3.3 4.4l-3.3 -4.4z"/><path d="M499.1 290.36l3.3 4.4l-3.3 4.4l-3.3 -4.4z"/><path d="M501.11 292.05l3.3 4.4l-3.3 4.4l-3.3 -4.4z"/><path d="M503.12 288.75l3.3 4.4l-3.3 4.4l-3.3 -4.4z"/><path d="M505.12 283.01l3.3 4.4l-3.3 4.4l-3.3 -4.4z"/><path d="M507.13 280.98l3.3 4.4l-3.3 4.4l-3.3 -4.4z"/><path d="M509.14 274.28l3.3 4.4l-3.3 4.4l-3.3 -4.4z"/><path d="M511.15 274.38l3.3 4.4l-3.3 4.4l-3.3 -4.4z"/><path d="M513.16 270.11l3.3 4.4l-3.3 4.4l-3.3 -4.4z"/><path d="M515.17 269.66l3.3 4.4l-3.3 4.4l-3.3 -4.4z"/><path d="M517.18 267.24l3.3 4.4l-3.3 4.4l-3.3 -4.4z"/><path d="M519.19 264.52l3.3 4.4l-3.3 4.4l-3.3 -4.4z"/><path d="M521.2 260.56l3.3 4.4l-3.3 4.4l-3.3 -4.4z"/><path d="M523.21 258.17l3.3 4.4l-3.3 4.4l-3.3 -4.4z"/><path d="M525.21 255.9l3.3 4.4l-3.3 4.4l-3.3 -4.4z"/><path d="M527.22 255.74l3.3 4.4l-3.3 4.4l-3.3 -4.4z"/><path d="M529.23 249.83l3.3 4.4l-3.3 4.4l-3.3 -4.4z"/><path d="M531.24 249.73l3.3 4.4l-3.3 4.4l-3.3 -4.4z"/><path d="M533.25 244.48l3.3 4.4l-3.3 4.4l-3.3 -4.4z"/><path d="M535.26 241.79l3.3 4.4l-3.3 4.4l-3.3 -4.4z"/><path d="M537.27 240.55l3.3 4.4l-3.3 4.4l-3.3 -4.4z"/><path d="M539.28 237.97l3.3 4.4l-3.3 4.4l-3.3 -4.4z"/><path d="M541.29 237.29l3.3 4.4l-3.3 4.4l-3.3 -4.4z"/><path d="M543.3 229.77l3.3 4.4l-3.3 4.4l-3.3 -4.4z"/><path d="M545.3 229.94l3.3 4.4l-3.3 4.4l-3.3 -4.4z"/><path d="M547.31 238.27l3.3 4.4l-3.3 4.4l-3.3 -4.4z"/><path d="M549.32 243.08l3.3 4.4l-3.3 4.4l-3.3 -4.4z"/><path d="M551.33 238.27l3.3 4.4l-3.3 4.4l-3.3 -4.4z"/><path d="M553.34 259.11l3.3 4.4l-3.3 4.4l-3.3 -4.4z"/><path d="M555.35 237.47l3.3 4.4l-3.3 4.4l-3.3 -4.4z"/><path d="M557.36 251.09l3.3 4.4l-3.3 4.4l-3.3 -4.4z"/><path d="M559.37 251.9l3.3 4.4l-3.3 4.4l-3.3 -4.4z"/><path d="M561.38 245.81l3.3 4.4l-3.3 4.4l-3.3 -4.4z"/><path d="M563.39 240.68l3.3 4.4l-3.3 4.4l-3.3 -4.4z"/><path d="M565.39 239.88l3.3 4.4l-3.3 4.4l-3.3 -4.4z"/><path d="M567.4 251.74l3.3 4.4l-3.3 4.4l-3.3 -4.4z"/><path d="M569.41 247.47l3.3 4.4l-3.3 4.4l-3.3 -4.4z"/><path d="M571.42 242.76l3.3 4.4l-3.3 4.4l-3.3 -4.4z"/><path d="M573.43 247.94l3.3 4.4l-3.3 4.4l-3.3 -4.4z"/><path d="M575.44 248.02l3.3 4.4l-3.3 4.4l-3.3 -4.4z"/><path d="M577.45 250.97l3.3 4.4l-3.3 4.4l-3.3 -4.4z"/><path d="M579.46 246.75l3.3 4.4l-3.3 4.4l-3.3 -4.4z"/><path d="M581.47 249.46l3.3 4.4l-3.3 4.4l-3.3 -4.4z"/><path d="M583.48 247.4l3.3 4.4l-3.3 4.4l-3.3 -4.4z"/><path d="M585.48 244.4l3.3 4.4l-3.3 4.4l-3.3 -4.4z"/><path d="M587.49 243.76l3.3 4.4l-3.3 4.4l-3.3 -4.4z"/><path d="M589.5 241.01l3.3 4.4l-3.3 4.4l-3.3 -4.4z"/><path d="M591.51 238.2l3.3 4.4l-3.3 4.4l-3.3 -4.4z"/><path d="M593.52 231.52l3.3 4.4l-3.3 4.4l-3.3 -4.4z"/><path d="M595.53 239.39l3.3 4.4l-3.3 4.4l-3.3 -4.4z"/><path d="M597.54 231.18l3.3 4.4l-3.3 4.4l-3.3 -4.4z"/><path d="M599.55 230.83l3.3 4.4l-3.3 4.4l-3.3 -4.4z"/><path d="M601.56 219.93l3.3 4.4l-3.3 4.4l-3.3 -4.4z"/><path d="M603.57 216.65l3.3 4.4l-3.3 4.4l-3.3 -4.4z"/><path d="M605.57 214.55l3.3 4.4l-3.3 4.4l-3.3 -4.4z"/><path d="M607.58 206.85l3.3 4.4l-3.3 4.4l-3.3 -4.4z"/><path d="M609.59 201.26l3.3 4.4l-3.3 4.4l-3.3 -4.4z"/><path d="M611.6 196.97l3.3 4.4l-3.3 4.4l-3.3 -4.4z"/><path d="M613.61 198.67l3.3 4.4l-3.3 4.4l-3.3 -4.4z"/><path d="M615.62 200.09l3.3 4.4l-3.3 4.4l-3.3 -4.4z"/><path d="M617.63 190.06l3.3 4.4l-3.3 4.4l-3.3 -4.4z"/><path d="M619.64 188.01l3.3 4.4l-3.3 4.4l-3.3 -4.4z"/><path d="M621.65 187.97l3.3 4.4l-3.3 4.4l-3.3 -4.4z"/><path d="M623.66 184.91l3.3 4.4l-3.3 4.4l-3.3 -4.4z"/><path d="M625.66 177.4l3.3 4.4l-3.3 4.4l-3.3 -4.4z"/><path d="M627.67 202.09l3.3 4.4l-3.3 4.4l-3.3 -4.4z"/><path d="M629.68 186.74l3.3 4.4l-3.3 4.4l-3.3 -4.4z"/><path d="M631.69 180.4l3.3 4.4l-3.3 4.4l-3.3 -4.4z"/><path d="M633.7 182.27l3.3 4.4l-3.3 4.4l-3.3 -4.4z"/><path d="M635.71 187.89l3.3 4.4l-3.3 4.4l-3.3 -4.4z"/><path d="M637.72 186.78l3.3 4.4l-3.3 4.4l-3.3 -4.4z"/><path d="M639.73 187.07l3.3 4.4l-3.3 4.4l-3.3 -4.4z"/><path d="M641.74 193.08l3.3 4.4l-3.3 4.4l-3.3 -4.4z"/><path d="M643.75 197.51l3.3 4.4l-3.3 4.4l-3.3 -4.4z"/><path d="M645.75 198.63l3.3 4.4l-3.3 4.4l-3.3 -4.4z"/><path d="M647.76 177.32l3.3 4.4l-3.3 4.4l-3.3 -4.4z"/><path d="M649.77 202.86l3.3 4.4l-3.3 4.4l-3.3 -4.4z"/><path d="M651.78 213.65l3.3 4.4l-3.3 4.4l-3.3 -4.4z"/><path d="M653.79 207.67l3.3 4.4l-3.3 4.4l-3.3 -4.4z"/><path d="M655.8 210.85l3.3 4.4l-3.3 4.4l-3.3 -4.4z"/><path d="M657.81 217.85l3.3 4.4l-3.3 4.4l-3.3 -4.4z"/><path d="M659.82 219.68l3.3 4.4l-3.3 4.4l-3.3 -4.4z"/><path d="M661.83 224.53l3.3 4.4l-3.3 4.4l-3.3 -4.4z"/><path d="M663.84 220.15l3.3 4.4l-3.3 4.4l-3.3 -4.4z"/><path d="M665.85 216.74l3.3 4.4l-3.3 4.4l-3.3 -4.4z"/><path d="M667.85 215.2l3.3 4.4l-3.3 4.4l-3.3 -4.4z"/><path d="M669.86 228.33l3.3 4.4l-3.3 4.4l-3.3 -4.4z"/><path d="M671.87 220.4l3.3 4.4l-3.3 4.4l-3.3 -4.4z"/><path d="M673.88 233.83l3.3 4.4l-3.3 4.4l-3.3 -4.4z"/><path d="M675.89 233.84l3.3 4.4l-3.3 4.4l-3.3 -4.4z"/><path d="M677.9 234.75l3.3 4.4l-3.3 4.4l-3.3 -4.4z"/><path d="M679.91 229.36l3.3 4.4l-3.3 4.4l-3.3 -4.4z"/><path d="M681.92 233.53l3.3 4.4l-3.3 4.4l-3.3 -4.4z"/><path d="M683.93 234.97l3.3 4.4l-3.3 4.4l-3.3 -4.4z"/><path d="M685.93 231.05l3.3 4.4l-3.3 4.4l-3.3 -4.4z"/><path d="M687.94 227.63l3.3 4.4l-3.3 4.4l-3.3 -4.4z"/><path d="M689.95 235.49l3.3 4.4l-3.3 4.4l-3.3 -4.4z"/><path d="M691.96 243.2l3.3 4.4l-3.3 4.4l-3.3 -4.4z"/><path d="M693.97 232.85l3.3 4.4l-3.3 4.4l-3.3 -4.4z"/><path d="M695.98 226.3l3.3 4.4l-3.3 4.4l-3.3 -4.4z"/><path d="M697.99 233.4l3.3 4.4l-3.3 4.4l-3.3 -4.4z"/><path d="M700 236.92l3.3 4.4l-3.3 4.4l-3.3 -4.4z"/><path d="M702.01 232.38l3.3 4.4l-3.3 4.4l-3.3 -4.4z"/><path d="M704.02 228.3l3.3 4.4l-3.3 4.4l-3.3 -4.4z"/><path d="M706.02 228.78l3.3 4.4l-3.3 4.4l-3.3 -4.4z"/><path d="M708.03 228.18l3.3 4.4l-3.3 4.4l-3.3 -4.4z"/><path d="M710.04 224.13l3.3 4.4l-3.3 4.4l-3.3 -4.4z"/><path d="M712.05 220.96l3.3 4.4l-3.3 4.4l-3.3 -4.4z"/><path d="M714.06 221.7l3.3 4.4l-3.3 4.4l-3.3 -4.4z"/><path d="M716.07 214.35l3.3 4.4l-3.3 4.4l-3.3 -4.4z"/><path d="M718.08 212.5l3.3 4.4l-3.3 4.4l-3.3 -4.4z"/><path d="M720.09 211.65l3.3 4.4l-3.3 4.4l-3.3 -4.4z"/><path d="M722.1 207.77l3.3 4.4l-3.3 4.4l-3.3 -4.4z"/><path d="M724.11 206.82l3.3 4.4l-3.3 4.4l-3.3 -4.4z"/><path d="M726.12 199.4l3.3 4.4l-3.3 4.4l-3.3 -4.4z"/><path d="M728.12 207.3l3.3 4.4l-3.3 4.4l-3.3 -4.4z"/><path d="M730.13 196.62l3.3 4.4l-3.3 4.4l-3.3 -4.4z"/><path d="M732.14 189.63l3.3 4.4l-3.3 4.4l-3.3 -4.4z"/><path d="M734.15 205.25l3.3 4.4l-3.3 4.4l-3.3 -4.4z"/><path d="M736.16 198.21l3.3 4.4l-3.3 4.4l-3.3 -4.4z"/><path d="M738.17 195.33l3.3 4.4l-3.3 4.4l-3.3 -4.4z"/><path d="M740.18 176.9l3.3 4.4l-3.3 4.4l-3.3 -4.4z"/><path d="M742.19 145.01l3.3 4.4l-3.3 4.4l-3.3 -4.4z"/><path d="M744.2 196.77l3.3 4.4l-3.3 4.4l-3.3 -4.4z"/></g>
</g>
<path d="M495.08 322.6v-3M495.08 34.6v3M535.26 322.6v-3M535.26 34.6v3M575.44 322.6v-3M575.44 34.6v3M615.62 322.6v-3M615.62 34.6v3M655.8 322.6v-3M655.8 34.6v3M695.98 322.6v-3M695.98 34.6v3M736.16 322.6v-3M736.16 34.6v3M456.6 290.75h3M745.2 290.75h-3M456.6 258.7h3M745.2 258.7h-3M456.6 226.65h3M745.2 226.65h-3M456.6 194.6h3M745.2 194.6h-3M456.6 162.55h3M745.2 162.55h-3M456.6 130.5h3M745.2 130.5h-3M456.6 98.45h3M745.2 98.45h-3M456.6 66.4h3M745.2 66.4h-3" stroke="#222" stroke-width="0.7" fill="none"/>
<rect x="456.6" y="34.6" width="288.6" height="288" fill="none" stroke="#222" stroke-width="0.8"/>
<path d="M411.2 55.5l2.6 -1.5l3.9 9.4l6.6 -20.8h25.4" fill="none" stroke="#000" stroke-width="0.9"/>
<path d="M414.0 54.4l3.4 8.4" fill="none" stroke="#000" stroke-width="1.8"/>
<circle cx="484.6" cy="66.4" r="3.3" fill="#ffb0b7" stroke="#be1622" stroke-width="1.4"/>
<rect x="481.8" y="83.5" width="5.6" height="5.6" fill="#a0f5a5" stroke="#14642a" stroke-width="1.4"/>
<path d="M484.6 101.7l2.9 4.6l-2.9 4.6l-2.9 -4.6z" fill="#aac8ff" stroke="#0f46b4" stroke-width="1.4"/>
<path d="M512.6 64.9h11.3M512.6 68.9h11.3" stroke="#000" stroke-width="0.95" fill="none"/>
<path d="M512.6 84.8h11.3M512.6 88.8h11.3" stroke="#000" stroke-width="0.95" fill="none"/>
<path d="M512.6 104.4h11.3M512.6 108.4h11.3" stroke="#000" stroke-width="0.95" fill="none"/>
<g filter="url(#tf)">
<text x="33.8" y="14.8" font-size="13" font-family="Liberation Serif, serif" text-anchor="start" font-weight="bold">(a0)</text>
<text x="207.9" y="14.8" font-size="13" font-family="Liberation Serif, serif" text-anchor="start" font-weight="bold">(a1)</text>
<text x="33.8" y="188.9" font-size="13" font-family="Liberation Serif, serif" text-anchor="start" font-weight="bold">(a3)</text>
<text x="207.9" y="188.9" font-size="13" font-family="Liberation Serif, serif" text-anchor="start" font-weight="bold">(a2)</text>
<text x="23.6" y="8" font-size="11" font-family="Liberation Sans, sans-serif" text-anchor="end">1</text>
<text x="23.9" y="164.6" font-size="11" font-family="Liberation Sans, sans-serif" text-anchor="end">0</text>
<text x="23.6" y="182.6" font-size="11" font-family="Liberation Sans, sans-serif" text-anchor="end">1</text>
<text x="23.9" y="338.8" font-size="11" font-family="Liberation Sans, sans-serif" text-anchor="end">0</text>
<text x="75.6" y="351.2" font-size="10.6" font-family="Liberation Sans, sans-serif" text-anchor="middle">40</text>
<text x="121.4" y="351.2" font-size="10.6" font-family="Liberation Sans, sans-serif" text-anchor="middle">80</text>
<text x="167.2" y="351.2" font-size="10.6" font-family="Liberation Sans, sans-serif" text-anchor="middle">120</text>
<text transform="translate(42.7 350.4) scale(1.22 1)" font-size="14.5" font-family="Liberation Serif, serif" font-style="italic">n</text>
<text x="249.7" y="351.2" font-size="10.6" font-family="Liberation Sans, sans-serif" text-anchor="middle">40</text>
<text x="295.5" y="351.2" font-size="10.6" font-family="Liberation Sans, sans-serif" text-anchor="middle">80</text>
<text x="341.3" y="351.2" font-size="10.6" font-family="Liberation Sans, sans-serif" text-anchor="middle">120</text>
<text transform="translate(216.8 350.4) scale(1.22 1)" font-size="14.5" font-family="Liberation Serif, serif" font-style="italic">n</text>
<text x="11" y="83.5" font-size="14.5" font-family="Liberation Serif, serif" text-anchor="start" font-style="italic">p</text>
<text x="19.3" y="86.3" font-size="11" font-family="Liberation Serif, serif" text-anchor="start" font-style="italic">n</text>
<text x="11" y="258.5" font-size="14.5" font-family="Liberation Serif, serif" text-anchor="start" font-style="italic">p</text>
<text x="19.3" y="261.3" font-size="11" font-family="Liberation Serif, serif" text-anchor="start" font-style="italic">n</text>
<text x="78.4" y="58.5" font-size="13" font-family="Liberation Serif, serif" text-anchor="start" font-style="italic">p</text>
<text x="86.4" y="61" font-size="10.5" font-family="Liberation Serif, serif" text-anchor="start" font-style="italic">n</text>
<text x="170.2" y="13.4" font-size="7" font-family="Liberation Sans, sans-serif" text-anchor="end">1</text>
<text x="170.2" y="110.6" font-size="7" font-family="Liberation Sans, sans-serif" text-anchor="end">0</text>
<text x="141.6" y="59" font-size="12.8" font-family="Liberation Serif, serif" text-anchor="start">PDF</text>
<text x="452.2" y="328.4" font-size="11" font-family="Liberation Sans, sans-serif" text-anchor="end">0.8</text>
<text x="452.2" y="295.65" font-size="11" font-family="Liberation Sans, sans-serif" text-anchor="end">1</text>
<text x="452.2" y="263.6" font-size="11" font-family="Liberation Sans, sans-serif" text-anchor="end">1.2</text>
<text x="452.2" y="231.55" font-size="11" font-family="Liberation Sans, sans-serif" text-anchor="end">1.4</text>
<text x="452.2" y="199.5" font-size="11" font-family="Liberation Sans, sans-serif" text-anchor="end">1.6</text>
<text x="452.2" y="167.45" font-size="11" font-family="Liberation Sans, sans-serif" text-anchor="end">1.8</text>
<text x="452.2" y="135.4" font-size="11" font-family="Liberation Sans, sans-serif" text-anchor="end">2</text>
<text x="452.2" y="103.35" font-size="11" font-family="Liberation Sans, sans-serif" text-anchor="end">2.2</text>
<text x="495.38" y="335.8" font-size="11" font-family="Liberation Sans, sans-serif" text-anchor="middle">20</text>
<text x="535.56" y="335.8" font-size="11" font-family="Liberation Sans, sans-serif" text-anchor="middle">40</text>
<text x="575.74" y="335.8" font-size="11" font-family="Liberation Sans, sans-serif" text-anchor="middle">60</text>
<text x="615.92" y="335.8" font-size="11" font-family="Liberation Sans, sans-serif" text-anchor="middle">80</text>
<text x="656.1" y="335.8" font-size="11" font-family="Liberation Sans, sans-serif" text-anchor="middle">100</text>
<text x="696.28" y="335.8" font-size="11" font-family="Liberation Sans, sans-serif" text-anchor="middle">120</text>
<text x="736.46" y="335.8" font-size="11" font-family="Liberation Sans, sans-serif" text-anchor="middle">140</text>
<text transform="translate(467.9 335.7) scale(1.22 1)" font-size="14.5" font-family="Liberation Serif, serif" font-style="italic">n</text>
<text x="600.3" y="14.7" font-size="13" font-family="Liberation Serif, serif" text-anchor="middle" font-weight="bold">(b)</text>
<text x="426.3" y="59.3" font-size="17.5" font-family="Liberation Serif, serif" text-anchor="start" font-style="italic">g</text>
<text x="436.6" y="53.4" font-size="12.5" font-family="Liberation Serif, serif" text-anchor="start" font-style="italic">D</text>
<text x="437" y="63.2" font-size="12" font-family="Liberation Serif, serif" text-anchor="start" font-style="italic">n</text>
<text x="496" y="71.4" font-size="15.3" font-family="Liberation Serif, serif" text-anchor="start" font-style="italic">D</text>
<text x="528.9" y="71.4" font-size="14.5" font-family="Liberation Serif, serif" text-anchor="start">1</text>
<text x="496" y="91.3" font-size="15.3" font-family="Liberation Serif, serif" text-anchor="start" font-style="italic">D</text>
<text x="528.9" y="91.3" font-size="14.5" font-family="Liberation Serif, serif" text-anchor="start">2</text>
<text x="496" y="110.9" font-size="15.3" font-family="Liberation Serif, serif" text-anchor="start" font-style="italic">D</text>
<text x="528.9" y="110.9" font-size="14.5" font-family="Liberation Serif, serif" text-anchor="start">3</text>
</g>
</svg>
</body></html>
